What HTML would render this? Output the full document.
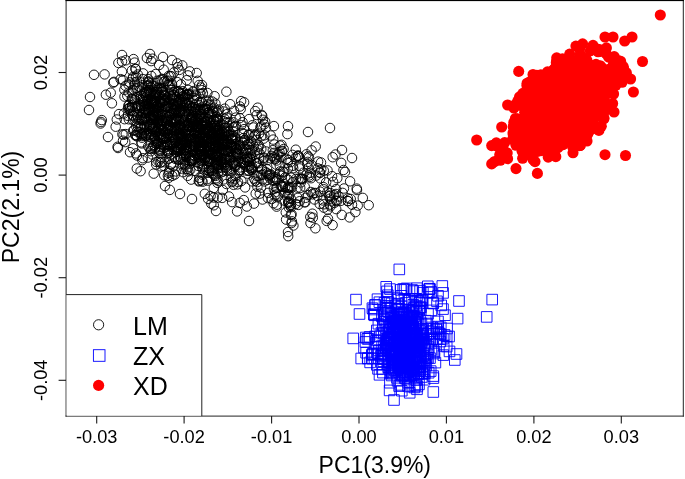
<!DOCTYPE html>
<html><head><meta charset="utf-8"><title>PCA</title>
<style>
html,body{margin:0;padding:0;background:#fff;}
body{width:685px;height:479px;overflow:hidden;font-family:"Liberation Sans",sans-serif;}
svg{display:block;will-change:transform;}
text{font-family:"Liberation Sans",sans-serif;fill:#000;}
</style></head><body>
<svg width="685" height="479" viewBox="0 0 685 479">
<rect x="0" y="0" width="685" height="479" fill="#fff"/>

<g fill="none" stroke="#000" stroke-width="0.9">
<circle cx="180.4" cy="148.7" r="4.75"/><circle cx="168.2" cy="152.7" r="4.75"/><circle cx="244.5" cy="140.4" r="4.75"/><circle cx="171.4" cy="142" r="4.75"/><circle cx="172.4" cy="103.7" r="4.75"/><circle cx="201.7" cy="154.2" r="4.75"/><circle cx="180.4" cy="111.9" r="4.75"/><circle cx="203.7" cy="148.2" r="4.75"/><circle cx="148.4" cy="109.3" r="4.75"/><circle cx="219" cy="143.9" r="4.75"/><circle cx="148.8" cy="104.2" r="4.75"/><circle cx="204.1" cy="135.5" r="4.75"/><circle cx="205.7" cy="158.2" r="4.75"/><circle cx="160.5" cy="150.9" r="4.75"/><circle cx="192.2" cy="107.8" r="4.75"/><circle cx="162.8" cy="91.9" r="4.75"/><circle cx="149.7" cy="148.4" r="4.75"/><circle cx="165" cy="100.2" r="4.75"/><circle cx="146.8" cy="125.3" r="4.75"/><circle cx="233.3" cy="131.8" r="4.75"/><circle cx="174.5" cy="148.6" r="4.75"/><circle cx="195.6" cy="129.9" r="4.75"/><circle cx="167.6" cy="107.2" r="4.75"/><circle cx="172.6" cy="120.1" r="4.75"/><circle cx="172.1" cy="129.8" r="4.75"/><circle cx="188.4" cy="110.4" r="4.75"/><circle cx="177.6" cy="106.3" r="4.75"/><circle cx="141.4" cy="133.9" r="4.75"/><circle cx="219" cy="147.5" r="4.75"/><circle cx="206.2" cy="151.4" r="4.75"/><circle cx="195" cy="111.7" r="4.75"/><circle cx="184.2" cy="153" r="4.75"/><circle cx="185.7" cy="125.2" r="4.75"/><circle cx="180.7" cy="138.3" r="4.75"/><circle cx="140.4" cy="128.1" r="4.75"/><circle cx="205.2" cy="126.4" r="4.75"/><circle cx="139.9" cy="98.7" r="4.75"/><circle cx="179.5" cy="121.4" r="4.75"/><circle cx="154.2" cy="136.5" r="4.75"/><circle cx="182.3" cy="153.2" r="4.75"/><circle cx="181.5" cy="145.3" r="4.75"/><circle cx="169" cy="158.6" r="4.75"/><circle cx="191.2" cy="143.6" r="4.75"/><circle cx="210.5" cy="157.8" r="4.75"/><circle cx="154" cy="123.5" r="4.75"/><circle cx="170.8" cy="164.6" r="4.75"/><circle cx="180.1" cy="110.4" r="4.75"/><circle cx="218.8" cy="142.4" r="4.75"/><circle cx="170.2" cy="146.3" r="4.75"/><circle cx="146.5" cy="85.3" r="4.75"/><circle cx="159.5" cy="114" r="4.75"/><circle cx="209.6" cy="151.6" r="4.75"/><circle cx="191.7" cy="117" r="4.75"/><circle cx="210.4" cy="135.4" r="4.75"/><circle cx="157.6" cy="121.8" r="4.75"/><circle cx="191.6" cy="117.1" r="4.75"/><circle cx="226" cy="151.3" r="4.75"/><circle cx="156.3" cy="115.7" r="4.75"/><circle cx="243.9" cy="140.5" r="4.75"/><circle cx="207.1" cy="132.4" r="4.75"/><circle cx="224.9" cy="165" r="4.75"/><circle cx="147.4" cy="100" r="4.75"/><circle cx="143.4" cy="132.8" r="4.75"/><circle cx="195.4" cy="120.3" r="4.75"/><circle cx="214.6" cy="154.4" r="4.75"/><circle cx="183.3" cy="143" r="4.75"/><circle cx="205.2" cy="121.5" r="4.75"/><circle cx="158.7" cy="126.6" r="4.75"/><circle cx="128.8" cy="108.2" r="4.75"/><circle cx="210.7" cy="139" r="4.75"/><circle cx="161" cy="137" r="4.75"/><circle cx="215.5" cy="153.7" r="4.75"/><circle cx="145.8" cy="117.9" r="4.75"/><circle cx="206" cy="157.6" r="4.75"/><circle cx="206.9" cy="146.5" r="4.75"/><circle cx="150.5" cy="92.6" r="4.75"/><circle cx="222.5" cy="139.8" r="4.75"/><circle cx="142.4" cy="85.3" r="4.75"/><circle cx="151.1" cy="109.3" r="4.75"/><circle cx="176" cy="147.2" r="4.75"/><circle cx="158.5" cy="112.5" r="4.75"/><circle cx="205.6" cy="109.2" r="4.75"/><circle cx="153.1" cy="118.8" r="4.75"/><circle cx="206" cy="130.8" r="4.75"/><circle cx="150.6" cy="99.8" r="4.75"/><circle cx="183.4" cy="155.3" r="4.75"/><circle cx="153.4" cy="102.4" r="4.75"/><circle cx="147.7" cy="122.4" r="4.75"/><circle cx="192.6" cy="150.9" r="4.75"/><circle cx="158.1" cy="122.7" r="4.75"/><circle cx="192.5" cy="119.5" r="4.75"/><circle cx="212.3" cy="173.1" r="4.75"/><circle cx="145.4" cy="91.9" r="4.75"/><circle cx="184" cy="121.6" r="4.75"/><circle cx="150.7" cy="117.5" r="4.75"/><circle cx="167.5" cy="146.4" r="4.75"/><circle cx="178.3" cy="137.5" r="4.75"/><circle cx="151" cy="116.7" r="4.75"/><circle cx="191.6" cy="117.5" r="4.75"/><circle cx="159" cy="107.4" r="4.75"/><circle cx="225.5" cy="158.4" r="4.75"/><circle cx="204.7" cy="117.6" r="4.75"/><circle cx="220.3" cy="138.1" r="4.75"/><circle cx="208.3" cy="152.6" r="4.75"/><circle cx="155" cy="136.1" r="4.75"/><circle cx="185.4" cy="142.5" r="4.75"/><circle cx="217.9" cy="120.5" r="4.75"/><circle cx="232.1" cy="145.9" r="4.75"/><circle cx="205" cy="159.3" r="4.75"/><circle cx="166.3" cy="121.1" r="4.75"/><circle cx="177.6" cy="150.1" r="4.75"/><circle cx="146.3" cy="109.7" r="4.75"/><circle cx="213" cy="143.2" r="4.75"/><circle cx="224.1" cy="155.3" r="4.75"/><circle cx="182.8" cy="128.6" r="4.75"/><circle cx="132.4" cy="92.7" r="4.75"/><circle cx="144.7" cy="108.8" r="4.75"/><circle cx="206" cy="129.8" r="4.75"/><circle cx="156" cy="119.5" r="4.75"/><circle cx="208.9" cy="168.1" r="4.75"/><circle cx="182.9" cy="128.7" r="4.75"/><circle cx="221.9" cy="132.5" r="4.75"/><circle cx="202.3" cy="115.7" r="4.75"/><circle cx="192.9" cy="151.4" r="4.75"/><circle cx="207.8" cy="114.9" r="4.75"/><circle cx="166.4" cy="142" r="4.75"/><circle cx="194.7" cy="131.6" r="4.75"/><circle cx="218.9" cy="139.5" r="4.75"/><circle cx="207.2" cy="124.5" r="4.75"/><circle cx="180" cy="156.5" r="4.75"/><circle cx="119" cy="114.1" r="4.75"/><circle cx="175.5" cy="96.5" r="4.75"/><circle cx="154.5" cy="100.5" r="4.75"/><circle cx="183.2" cy="136.6" r="4.75"/><circle cx="196.6" cy="154.9" r="4.75"/><circle cx="169.8" cy="127.1" r="4.75"/><circle cx="211.5" cy="154.3" r="4.75"/><circle cx="176.3" cy="135.1" r="4.75"/><circle cx="193.3" cy="139.5" r="4.75"/><circle cx="132.7" cy="115.1" r="4.75"/><circle cx="153.1" cy="126.8" r="4.75"/><circle cx="170.8" cy="107.9" r="4.75"/><circle cx="155.2" cy="138.9" r="4.75"/><circle cx="217.3" cy="160.8" r="4.75"/><circle cx="167.8" cy="134.4" r="4.75"/><circle cx="195.9" cy="104.8" r="4.75"/><circle cx="179.9" cy="127.1" r="4.75"/><circle cx="156.6" cy="141.2" r="4.75"/><circle cx="189" cy="114.2" r="4.75"/><circle cx="132.1" cy="107" r="4.75"/><circle cx="196.8" cy="125.3" r="4.75"/><circle cx="226.9" cy="144.7" r="4.75"/><circle cx="158" cy="143" r="4.75"/><circle cx="174.1" cy="112.8" r="4.75"/><circle cx="159.3" cy="152.8" r="4.75"/><circle cx="209.4" cy="162" r="4.75"/><circle cx="158.3" cy="120.5" r="4.75"/><circle cx="163.9" cy="93.6" r="4.75"/><circle cx="209.1" cy="139.1" r="4.75"/><circle cx="190.7" cy="139.4" r="4.75"/><circle cx="160.8" cy="126.1" r="4.75"/><circle cx="132.1" cy="105.4" r="4.75"/><circle cx="215.2" cy="148.3" r="4.75"/><circle cx="198.6" cy="128.6" r="4.75"/><circle cx="164.8" cy="95.5" r="4.75"/><circle cx="202.5" cy="143.4" r="4.75"/><circle cx="228.8" cy="131.7" r="4.75"/><circle cx="220.5" cy="161.1" r="4.75"/><circle cx="184.9" cy="141.9" r="4.75"/><circle cx="166.8" cy="144.9" r="4.75"/><circle cx="213" cy="128.2" r="4.75"/><circle cx="222.4" cy="162.3" r="4.75"/><circle cx="233" cy="138.3" r="4.75"/><circle cx="179.5" cy="112.6" r="4.75"/><circle cx="199.1" cy="127.6" r="4.75"/><circle cx="153" cy="95.6" r="4.75"/><circle cx="140.4" cy="117.5" r="4.75"/><circle cx="148.4" cy="82.7" r="4.75"/><circle cx="173.8" cy="95" r="4.75"/><circle cx="197" cy="132.6" r="4.75"/><circle cx="236.4" cy="153.6" r="4.75"/><circle cx="208.9" cy="168.5" r="4.75"/><circle cx="210.3" cy="105.3" r="4.75"/><circle cx="152.9" cy="135.6" r="4.75"/><circle cx="212.3" cy="124.3" r="4.75"/><circle cx="203" cy="136.9" r="4.75"/><circle cx="198.3" cy="120.1" r="4.75"/><circle cx="176" cy="119.1" r="4.75"/><circle cx="152.4" cy="124.7" r="4.75"/><circle cx="186.2" cy="139.8" r="4.75"/><circle cx="191.9" cy="131" r="4.75"/><circle cx="145.8" cy="136" r="4.75"/><circle cx="188.4" cy="123.1" r="4.75"/><circle cx="145.5" cy="119.2" r="4.75"/><circle cx="164.2" cy="126.8" r="4.75"/><circle cx="207.7" cy="119.2" r="4.75"/><circle cx="190.7" cy="119.1" r="4.75"/><circle cx="150.8" cy="124.4" r="4.75"/><circle cx="141.9" cy="137.7" r="4.75"/><circle cx="145.1" cy="106.1" r="4.75"/><circle cx="204.7" cy="149.8" r="4.75"/><circle cx="220.7" cy="161.8" r="4.75"/><circle cx="188.4" cy="100" r="4.75"/><circle cx="172.9" cy="95.2" r="4.75"/><circle cx="162.2" cy="102.5" r="4.75"/><circle cx="188.9" cy="126.7" r="4.75"/><circle cx="189.7" cy="155.8" r="4.75"/><circle cx="161.2" cy="166.4" r="4.75"/><circle cx="163.8" cy="147.8" r="4.75"/><circle cx="173.1" cy="122.4" r="4.75"/><circle cx="184.4" cy="111.1" r="4.75"/><circle cx="153.5" cy="115" r="4.75"/><circle cx="184.8" cy="131.6" r="4.75"/><circle cx="180.7" cy="111.1" r="4.75"/><circle cx="194.3" cy="155.6" r="4.75"/><circle cx="196.5" cy="142.5" r="4.75"/><circle cx="178.5" cy="112.7" r="4.75"/><circle cx="191.2" cy="111.9" r="4.75"/><circle cx="175.8" cy="142.4" r="4.75"/><circle cx="163.8" cy="101" r="4.75"/><circle cx="225.3" cy="162.3" r="4.75"/><circle cx="160.2" cy="136.8" r="4.75"/><circle cx="151.1" cy="98.7" r="4.75"/><circle cx="161.3" cy="158.5" r="4.75"/><circle cx="143.9" cy="118" r="4.75"/><circle cx="171.8" cy="113.2" r="4.75"/><circle cx="150.7" cy="83.5" r="4.75"/><circle cx="196.5" cy="153.3" r="4.75"/><circle cx="174.2" cy="99.9" r="4.75"/><circle cx="210.7" cy="170.4" r="4.75"/><circle cx="217.7" cy="137.7" r="4.75"/><circle cx="174.3" cy="149.2" r="4.75"/><circle cx="165" cy="144.6" r="4.75"/><circle cx="181.3" cy="149.1" r="4.75"/><circle cx="212.8" cy="132.9" r="4.75"/><circle cx="190.7" cy="137.9" r="4.75"/><circle cx="171.2" cy="89.8" r="4.75"/><circle cx="203.2" cy="139.3" r="4.75"/><circle cx="231.3" cy="147.5" r="4.75"/><circle cx="217.4" cy="149.2" r="4.75"/><circle cx="168.6" cy="108.2" r="4.75"/><circle cx="168" cy="97.5" r="4.75"/><circle cx="155.3" cy="109.1" r="4.75"/><circle cx="176.9" cy="134.6" r="4.75"/><circle cx="176.9" cy="147.8" r="4.75"/><circle cx="203.4" cy="145.3" r="4.75"/><circle cx="202" cy="137.8" r="4.75"/><circle cx="151.5" cy="91.9" r="4.75"/><circle cx="213.7" cy="167.9" r="4.75"/><circle cx="166.8" cy="153.6" r="4.75"/><circle cx="159.8" cy="123.5" r="4.75"/><circle cx="215.7" cy="153.5" r="4.75"/><circle cx="201.6" cy="150.8" r="4.75"/><circle cx="214.9" cy="141.7" r="4.75"/><circle cx="146.9" cy="133.6" r="4.75"/><circle cx="202.1" cy="154.2" r="4.75"/><circle cx="176" cy="120.3" r="4.75"/><circle cx="231.4" cy="145" r="4.75"/><circle cx="152.3" cy="154.5" r="4.75"/><circle cx="204.9" cy="129.2" r="4.75"/><circle cx="214" cy="119.7" r="4.75"/><circle cx="157.7" cy="91.8" r="4.75"/><circle cx="199.3" cy="142.2" r="4.75"/><circle cx="163.2" cy="145.2" r="4.75"/><circle cx="193.6" cy="132.8" r="4.75"/><circle cx="179.5" cy="134.9" r="4.75"/><circle cx="221.1" cy="159.4" r="4.75"/><circle cx="186.3" cy="156.1" r="4.75"/><circle cx="175.9" cy="110.3" r="4.75"/><circle cx="212.3" cy="171" r="4.75"/><circle cx="189.6" cy="157.3" r="4.75"/><circle cx="198.5" cy="126" r="4.75"/><circle cx="160.5" cy="134.4" r="4.75"/><circle cx="148.2" cy="135.1" r="4.75"/><circle cx="215.1" cy="147.6" r="4.75"/><circle cx="219.6" cy="133.5" r="4.75"/><circle cx="191.3" cy="111" r="4.75"/><circle cx="141.6" cy="107.8" r="4.75"/><circle cx="154.3" cy="101.8" r="4.75"/><circle cx="206" cy="157.1" r="4.75"/><circle cx="165.9" cy="137.8" r="4.75"/><circle cx="155.2" cy="100.7" r="4.75"/><circle cx="191.3" cy="134.5" r="4.75"/><circle cx="200.5" cy="123.5" r="4.75"/><circle cx="169.2" cy="101.4" r="4.75"/><circle cx="155.8" cy="120.4" r="4.75"/><circle cx="208.3" cy="138.5" r="4.75"/><circle cx="207.6" cy="128.9" r="4.75"/><circle cx="234.5" cy="153.5" r="4.75"/><circle cx="206.2" cy="169.8" r="4.75"/><circle cx="193.4" cy="124.5" r="4.75"/><circle cx="203.6" cy="122.9" r="4.75"/><circle cx="210.7" cy="126.1" r="4.75"/><circle cx="137.8" cy="116.8" r="4.75"/><circle cx="207" cy="139.9" r="4.75"/><circle cx="246.5" cy="170.6" r="4.75"/><circle cx="218.9" cy="109.6" r="4.75"/><circle cx="233.4" cy="161.6" r="4.75"/><circle cx="174.9" cy="174.5" r="4.75"/><circle cx="214.8" cy="125.9" r="4.75"/><circle cx="149.7" cy="125" r="4.75"/><circle cx="179.6" cy="136.6" r="4.75"/><circle cx="134.7" cy="103.5" r="4.75"/><circle cx="225.4" cy="158.8" r="4.75"/><circle cx="128.8" cy="119.3" r="4.75"/><circle cx="183.6" cy="139.6" r="4.75"/><circle cx="173.6" cy="118" r="4.75"/><circle cx="154" cy="103.1" r="4.75"/><circle cx="190.9" cy="130.6" r="4.75"/><circle cx="225.1" cy="144.2" r="4.75"/><circle cx="146.3" cy="135.7" r="4.75"/><circle cx="186.7" cy="141.1" r="4.75"/><circle cx="231.4" cy="139.6" r="4.75"/><circle cx="148.7" cy="104.1" r="4.75"/><circle cx="200.7" cy="148.6" r="4.75"/><circle cx="217.2" cy="165.7" r="4.75"/><circle cx="239.6" cy="145.7" r="4.75"/><circle cx="161.4" cy="110.8" r="4.75"/><circle cx="184" cy="138.1" r="4.75"/><circle cx="144.4" cy="109.7" r="4.75"/><circle cx="153.7" cy="115.2" r="4.75"/><circle cx="144.5" cy="125.4" r="4.75"/><circle cx="231.1" cy="151" r="4.75"/><circle cx="228.4" cy="151.8" r="4.75"/><circle cx="204" cy="166.5" r="4.75"/><circle cx="192" cy="158.5" r="4.75"/><circle cx="167.2" cy="107.2" r="4.75"/><circle cx="215.4" cy="130.2" r="4.75"/><circle cx="185.8" cy="119.5" r="4.75"/><circle cx="185.7" cy="113.6" r="4.75"/><circle cx="155.5" cy="92.7" r="4.75"/><circle cx="190.4" cy="135.7" r="4.75"/><circle cx="209.5" cy="114" r="4.75"/><circle cx="217.6" cy="142.1" r="4.75"/><circle cx="172" cy="97.4" r="4.75"/><circle cx="196.9" cy="136.2" r="4.75"/><circle cx="124" cy="113.5" r="4.75"/><circle cx="199.9" cy="138.6" r="4.75"/><circle cx="152.8" cy="103.6" r="4.75"/><circle cx="174.6" cy="118.9" r="4.75"/><circle cx="158" cy="114.7" r="4.75"/><circle cx="171.5" cy="96.2" r="4.75"/><circle cx="216.8" cy="151.3" r="4.75"/><circle cx="184.3" cy="150.4" r="4.75"/><circle cx="186.9" cy="129.4" r="4.75"/><circle cx="136.9" cy="81.6" r="4.75"/><circle cx="151.8" cy="128.7" r="4.75"/><circle cx="140.7" cy="95.7" r="4.75"/><circle cx="180.1" cy="143.1" r="4.75"/><circle cx="168.2" cy="120.1" r="4.75"/><circle cx="179.3" cy="145.2" r="4.75"/><circle cx="200.8" cy="128.7" r="4.75"/><circle cx="207.4" cy="125.2" r="4.75"/><circle cx="160.1" cy="103.4" r="4.75"/><circle cx="171.7" cy="108.8" r="4.75"/><circle cx="198" cy="132.6" r="4.75"/><circle cx="161.7" cy="138" r="4.75"/><circle cx="198.7" cy="116.2" r="4.75"/><circle cx="188.8" cy="138.9" r="4.75"/><circle cx="186.1" cy="104.8" r="4.75"/><circle cx="150.7" cy="137.2" r="4.75"/><circle cx="159.7" cy="94.9" r="4.75"/><circle cx="216.1" cy="135.6" r="4.75"/><circle cx="220.6" cy="149.2" r="4.75"/><circle cx="202.4" cy="123" r="4.75"/><circle cx="150.1" cy="94.3" r="4.75"/><circle cx="159.4" cy="118.4" r="4.75"/><circle cx="140.9" cy="115" r="4.75"/><circle cx="215.2" cy="145.6" r="4.75"/><circle cx="180.1" cy="144.2" r="4.75"/><circle cx="160.2" cy="130.6" r="4.75"/><circle cx="200.4" cy="134.7" r="4.75"/><circle cx="176.3" cy="105.3" r="4.75"/><circle cx="236" cy="152.4" r="4.75"/><circle cx="211.6" cy="131.9" r="4.75"/><circle cx="245" cy="139.6" r="4.75"/><circle cx="202.3" cy="122.9" r="4.75"/><circle cx="189.7" cy="145.9" r="4.75"/><circle cx="216.5" cy="160" r="4.75"/><circle cx="194.6" cy="146.3" r="4.75"/><circle cx="184.1" cy="127.4" r="4.75"/><circle cx="207.3" cy="132" r="4.75"/><circle cx="164" cy="95" r="4.75"/><circle cx="156.2" cy="113.4" r="4.75"/><circle cx="179.4" cy="148.8" r="4.75"/><circle cx="148.3" cy="107.5" r="4.75"/><circle cx="154.3" cy="145" r="4.75"/><circle cx="190.1" cy="158.1" r="4.75"/><circle cx="210.3" cy="145.6" r="4.75"/><circle cx="201.7" cy="125.4" r="4.75"/><circle cx="216.6" cy="154.9" r="4.75"/><circle cx="189.7" cy="163.6" r="4.75"/><circle cx="223" cy="161.6" r="4.75"/><circle cx="164.5" cy="132.2" r="4.75"/><circle cx="194.1" cy="146.2" r="4.75"/><circle cx="197.9" cy="141" r="4.75"/><circle cx="149.3" cy="90" r="4.75"/><circle cx="155.4" cy="127.6" r="4.75"/><circle cx="145.8" cy="113.3" r="4.75"/><circle cx="181.1" cy="149.5" r="4.75"/><circle cx="180.6" cy="93.4" r="4.75"/><circle cx="160.8" cy="144.3" r="4.75"/><circle cx="171.5" cy="129.9" r="4.75"/><circle cx="133.5" cy="99.3" r="4.75"/><circle cx="194.4" cy="122.3" r="4.75"/><circle cx="156.2" cy="161.9" r="4.75"/><circle cx="182.7" cy="93" r="4.75"/><circle cx="153.6" cy="128.8" r="4.75"/><circle cx="205" cy="122.3" r="4.75"/><circle cx="138.5" cy="132" r="4.75"/><circle cx="127.8" cy="115.8" r="4.75"/><circle cx="218.4" cy="132.7" r="4.75"/><circle cx="178.1" cy="91.1" r="4.75"/><circle cx="201.2" cy="145.9" r="4.75"/><circle cx="193.8" cy="159.3" r="4.75"/><circle cx="239.6" cy="149.5" r="4.75"/><circle cx="221.4" cy="167.9" r="4.75"/><circle cx="156.6" cy="143.9" r="4.75"/><circle cx="223.9" cy="144.6" r="4.75"/><circle cx="195.6" cy="142.3" r="4.75"/><circle cx="192.7" cy="160.4" r="4.75"/><circle cx="181.4" cy="168.6" r="4.75"/><circle cx="190.1" cy="126.6" r="4.75"/><circle cx="133.8" cy="116.3" r="4.75"/><circle cx="188.3" cy="125.3" r="4.75"/><circle cx="150.4" cy="131.4" r="4.75"/><circle cx="204.1" cy="154.5" r="4.75"/><circle cx="196.3" cy="114.4" r="4.75"/><circle cx="205.8" cy="106" r="4.75"/><circle cx="156.5" cy="89.9" r="4.75"/><circle cx="220.2" cy="160.8" r="4.75"/><circle cx="161.8" cy="127.1" r="4.75"/><circle cx="153.9" cy="112.3" r="4.75"/><circle cx="139.2" cy="120.1" r="4.75"/><circle cx="218.2" cy="135" r="4.75"/><circle cx="180.4" cy="125.9" r="4.75"/><circle cx="152.4" cy="108.8" r="4.75"/><circle cx="218.5" cy="167" r="4.75"/><circle cx="159.1" cy="95.6" r="4.75"/><circle cx="202" cy="120.8" r="4.75"/><circle cx="190.5" cy="108.6" r="4.75"/><circle cx="181.1" cy="139.1" r="4.75"/><circle cx="199" cy="126.4" r="4.75"/><circle cx="184.5" cy="102.9" r="4.75"/><circle cx="161.4" cy="120.2" r="4.75"/><circle cx="144.3" cy="126.9" r="4.75"/><circle cx="187.3" cy="103.1" r="4.75"/><circle cx="198.7" cy="158" r="4.75"/><circle cx="164.3" cy="100.5" r="4.75"/><circle cx="184" cy="98.8" r="4.75"/><circle cx="151.5" cy="102.2" r="4.75"/><circle cx="217.6" cy="125.5" r="4.75"/><circle cx="137.1" cy="115.1" r="4.75"/><circle cx="129.8" cy="110.2" r="4.75"/><circle cx="152.4" cy="147.8" r="4.75"/><circle cx="223.1" cy="124.8" r="4.75"/><circle cx="161.5" cy="134.3" r="4.75"/><circle cx="179.6" cy="103.4" r="4.75"/><circle cx="136.4" cy="118.6" r="4.75"/><circle cx="210" cy="131" r="4.75"/><circle cx="219.2" cy="136.4" r="4.75"/><circle cx="227.8" cy="165.2" r="4.75"/><circle cx="210" cy="143.8" r="4.75"/><circle cx="180.5" cy="104.5" r="4.75"/><circle cx="218" cy="172.7" r="4.75"/><circle cx="145.6" cy="116.7" r="4.75"/><circle cx="229.7" cy="157.7" r="4.75"/><circle cx="131.8" cy="98.6" r="4.75"/><circle cx="178.3" cy="138.4" r="4.75"/><circle cx="133.2" cy="130.7" r="4.75"/><circle cx="175.5" cy="127.5" r="4.75"/><circle cx="164.4" cy="98.4" r="4.75"/><circle cx="212.1" cy="114" r="4.75"/><circle cx="225" cy="134.8" r="4.75"/><circle cx="141" cy="127.5" r="4.75"/><circle cx="154.3" cy="102.6" r="4.75"/><circle cx="212.8" cy="145.8" r="4.75"/><circle cx="147.1" cy="120.6" r="4.75"/><circle cx="227.3" cy="114" r="4.75"/><circle cx="186" cy="139.8" r="4.75"/><circle cx="204.2" cy="109.8" r="4.75"/><circle cx="165.8" cy="106.5" r="4.75"/><circle cx="161.2" cy="146.5" r="4.75"/><circle cx="208" cy="112.9" r="4.75"/><circle cx="173.5" cy="137.6" r="4.75"/><circle cx="208.2" cy="127.2" r="4.75"/><circle cx="199.8" cy="145.8" r="4.75"/><circle cx="199" cy="148.5" r="4.75"/><circle cx="201.6" cy="101.8" r="4.75"/><circle cx="124.5" cy="96.6" r="4.75"/><circle cx="198.5" cy="163.2" r="4.75"/><circle cx="155" cy="111" r="4.75"/><circle cx="148.2" cy="146.3" r="4.75"/><circle cx="156.5" cy="104.1" r="4.75"/><circle cx="199.6" cy="111.4" r="4.75"/><circle cx="197.2" cy="127.5" r="4.75"/><circle cx="226.5" cy="167.1" r="4.75"/><circle cx="162" cy="114.1" r="4.75"/><circle cx="225.9" cy="151.7" r="4.75"/><circle cx="171.7" cy="119.1" r="4.75"/><circle cx="198" cy="108.6" r="4.75"/><circle cx="216.1" cy="178.2" r="4.75"/><circle cx="225.3" cy="128.1" r="4.75"/><circle cx="160" cy="101.7" r="4.75"/><circle cx="211.3" cy="139" r="4.75"/><circle cx="193.4" cy="122.6" r="4.75"/><circle cx="212.8" cy="135.1" r="4.75"/><circle cx="205.7" cy="145.3" r="4.75"/><circle cx="179.6" cy="133.6" r="4.75"/><circle cx="185.7" cy="150.1" r="4.75"/><circle cx="167.4" cy="151.1" r="4.75"/><circle cx="138.1" cy="126.6" r="4.75"/><circle cx="179.7" cy="109.1" r="4.75"/><circle cx="172" cy="90" r="4.75"/><circle cx="221.4" cy="140.9" r="4.75"/><circle cx="214" cy="150.5" r="4.75"/><circle cx="168.4" cy="125.2" r="4.75"/><circle cx="157.5" cy="123.3" r="4.75"/><circle cx="200.2" cy="109.9" r="4.75"/><circle cx="156.4" cy="102.3" r="4.75"/><circle cx="146.4" cy="92.9" r="4.75"/><circle cx="197.7" cy="118.9" r="4.75"/><circle cx="168.6" cy="117.1" r="4.75"/><circle cx="160.2" cy="162.7" r="4.75"/><circle cx="198.3" cy="156.6" r="4.75"/><circle cx="140.6" cy="105.1" r="4.75"/><circle cx="222.4" cy="132" r="4.75"/><circle cx="159.1" cy="65" r="4.75"/><circle cx="202.8" cy="139.2" r="4.75"/><circle cx="153.8" cy="116.7" r="4.75"/><circle cx="149" cy="128.7" r="4.75"/><circle cx="179.6" cy="127.6" r="4.75"/><circle cx="170.2" cy="115.4" r="4.75"/><circle cx="221.9" cy="143" r="4.75"/><circle cx="136.9" cy="131.5" r="4.75"/><circle cx="164.2" cy="138.5" r="4.75"/><circle cx="184.5" cy="111.3" r="4.75"/><circle cx="216.6" cy="130.5" r="4.75"/><circle cx="196.2" cy="95.6" r="4.75"/><circle cx="135.3" cy="120.4" r="4.75"/><circle cx="207.3" cy="125.1" r="4.75"/><circle cx="129.9" cy="107.8" r="4.75"/><circle cx="217.7" cy="130.6" r="4.75"/><circle cx="168.8" cy="149.2" r="4.75"/><circle cx="200.3" cy="155.4" r="4.75"/><circle cx="219.5" cy="132.5" r="4.75"/><circle cx="170.4" cy="134.8" r="4.75"/><circle cx="202.5" cy="126.2" r="4.75"/><circle cx="169.7" cy="102.8" r="4.75"/><circle cx="174.2" cy="130.2" r="4.75"/><circle cx="208.6" cy="155.4" r="4.75"/><circle cx="195.1" cy="107.1" r="4.75"/><circle cx="200.5" cy="141.4" r="4.75"/><circle cx="213.2" cy="138.1" r="4.75"/><circle cx="195" cy="132.8" r="4.75"/><circle cx="163.3" cy="130.7" r="4.75"/><circle cx="212.7" cy="169.8" r="4.75"/><circle cx="192.9" cy="126.5" r="4.75"/><circle cx="159.5" cy="103.1" r="4.75"/><circle cx="187" cy="147.7" r="4.75"/><circle cx="148" cy="99.1" r="4.75"/><circle cx="180.9" cy="137" r="4.75"/><circle cx="149.4" cy="125.1" r="4.75"/><circle cx="189.1" cy="106.3" r="4.75"/><circle cx="217.1" cy="129.8" r="4.75"/><circle cx="199.2" cy="105.2" r="4.75"/><circle cx="195.2" cy="138.9" r="4.75"/><circle cx="154.3" cy="104.8" r="4.75"/><circle cx="151.7" cy="118.5" r="4.75"/><circle cx="223.3" cy="146.8" r="4.75"/><circle cx="209.1" cy="161" r="4.75"/><circle cx="158.8" cy="109.8" r="4.75"/><circle cx="235.4" cy="144.1" r="4.75"/><circle cx="133.6" cy="111.7" r="4.75"/><circle cx="154" cy="137.8" r="4.75"/><circle cx="178.7" cy="128.5" r="4.75"/><circle cx="150.8" cy="134.1" r="4.75"/><circle cx="221.3" cy="134.1" r="4.75"/><circle cx="208.4" cy="146.5" r="4.75"/><circle cx="173.1" cy="138.3" r="4.75"/><circle cx="208.2" cy="160.9" r="4.75"/><circle cx="183" cy="96.3" r="4.75"/><circle cx="179.7" cy="129.6" r="4.75"/><circle cx="191.6" cy="127.2" r="4.75"/><circle cx="187.1" cy="149.4" r="4.75"/><circle cx="221.8" cy="135.4" r="4.75"/><circle cx="159.5" cy="148.6" r="4.75"/><circle cx="235" cy="160.4" r="4.75"/><circle cx="156.4" cy="106" r="4.75"/><circle cx="213.2" cy="139.8" r="4.75"/><circle cx="213.3" cy="112" r="4.75"/><circle cx="202.3" cy="160.2" r="4.75"/><circle cx="184.3" cy="96.6" r="4.75"/><circle cx="225.8" cy="132.2" r="4.75"/><circle cx="223.1" cy="144.5" r="4.75"/><circle cx="181.2" cy="106.1" r="4.75"/><circle cx="198" cy="127.9" r="4.75"/><circle cx="210.4" cy="119.9" r="4.75"/><circle cx="161.6" cy="124.5" r="4.75"/><circle cx="199.2" cy="147" r="4.75"/><circle cx="183.5" cy="106.1" r="4.75"/><circle cx="207.5" cy="180.7" r="4.75"/><circle cx="156" cy="131.9" r="4.75"/><circle cx="196.4" cy="137.7" r="4.75"/><circle cx="179.3" cy="132.5" r="4.75"/><circle cx="161.5" cy="123.6" r="4.75"/><circle cx="198.8" cy="146.3" r="4.75"/><circle cx="168.1" cy="150.6" r="4.75"/><circle cx="222.4" cy="148.7" r="4.75"/><circle cx="215.6" cy="139.6" r="4.75"/><circle cx="150.6" cy="134.6" r="4.75"/><circle cx="149.1" cy="135.3" r="4.75"/><circle cx="200.6" cy="160.7" r="4.75"/><circle cx="218.5" cy="130.2" r="4.75"/><circle cx="191.6" cy="115.2" r="4.75"/><circle cx="221.5" cy="144.8" r="4.75"/><circle cx="217.8" cy="118.7" r="4.75"/><circle cx="156.3" cy="106.9" r="4.75"/><circle cx="170" cy="95.6" r="4.75"/><circle cx="193.6" cy="92.2" r="4.75"/><circle cx="242" cy="133" r="4.75"/><circle cx="234.6" cy="166" r="4.75"/><circle cx="206" cy="137.8" r="4.75"/><circle cx="276.4" cy="194.5" r="4.75"/><circle cx="141.4" cy="120.5" r="4.75"/><circle cx="250.8" cy="153.7" r="4.75"/><circle cx="240.7" cy="109.1" r="4.75"/><circle cx="221.7" cy="142.5" r="4.75"/><circle cx="254.8" cy="135.2" r="4.75"/><circle cx="157.3" cy="142.5" r="4.75"/><circle cx="176.3" cy="120.3" r="4.75"/><circle cx="142.8" cy="158.2" r="4.75"/><circle cx="158.7" cy="136.1" r="4.75"/><circle cx="186.3" cy="154.1" r="4.75"/><circle cx="134.8" cy="106.8" r="4.75"/><circle cx="153" cy="115.8" r="4.75"/><circle cx="218.6" cy="165.3" r="4.75"/><circle cx="186.3" cy="157" r="4.75"/><circle cx="228.6" cy="125.8" r="4.75"/><circle cx="111.9" cy="103.3" r="4.75"/><circle cx="178.7" cy="119.7" r="4.75"/><circle cx="206.9" cy="129.2" r="4.75"/><circle cx="185.5" cy="103.5" r="4.75"/><circle cx="262.9" cy="119.8" r="4.75"/><circle cx="183.2" cy="164.1" r="4.75"/><circle cx="201.9" cy="137" r="4.75"/><circle cx="198.5" cy="143" r="4.75"/><circle cx="208.1" cy="198.9" r="4.75"/><circle cx="263.6" cy="138.6" r="4.75"/><circle cx="208" cy="172.8" r="4.75"/><circle cx="200.3" cy="154.6" r="4.75"/><circle cx="198.4" cy="146.2" r="4.75"/><circle cx="218.4" cy="159.5" r="4.75"/><circle cx="247.1" cy="158.3" r="4.75"/><circle cx="222.1" cy="197.9" r="4.75"/><circle cx="210.2" cy="159.6" r="4.75"/><circle cx="236" cy="164.5" r="4.75"/><circle cx="190.2" cy="169.8" r="4.75"/><circle cx="245.1" cy="187.4" r="4.75"/><circle cx="194.5" cy="146.2" r="4.75"/><circle cx="105.9" cy="94.7" r="4.75"/><circle cx="237.1" cy="211.4" r="4.75"/><circle cx="199.8" cy="150.6" r="4.75"/><circle cx="151.5" cy="105.3" r="4.75"/><circle cx="204.9" cy="108.5" r="4.75"/><circle cx="167.6" cy="105.5" r="4.75"/><circle cx="309" cy="157.5" r="4.75"/><circle cx="222.5" cy="149.5" r="4.75"/><circle cx="129.2" cy="104.8" r="4.75"/><circle cx="184.1" cy="126.2" r="4.75"/><circle cx="277.7" cy="196.7" r="4.75"/><circle cx="153.2" cy="114.6" r="4.75"/><circle cx="187.6" cy="169.1" r="4.75"/><circle cx="196.1" cy="109.1" r="4.75"/><circle cx="200.3" cy="93.8" r="4.75"/><circle cx="221" cy="144.7" r="4.75"/><circle cx="262.5" cy="199.5" r="4.75"/><circle cx="101.8" cy="120.1" r="4.75"/><circle cx="250.8" cy="167.9" r="4.75"/><circle cx="193.1" cy="91.1" r="4.75"/><circle cx="233.4" cy="122.3" r="4.75"/><circle cx="196.1" cy="126.1" r="4.75"/><circle cx="223.7" cy="150.2" r="4.75"/><circle cx="167" cy="137.6" r="4.75"/><circle cx="235.4" cy="147.9" r="4.75"/><circle cx="173.2" cy="134.8" r="4.75"/><circle cx="135.8" cy="69" r="4.75"/><circle cx="195.2" cy="110.5" r="4.75"/><circle cx="159.3" cy="150.4" r="4.75"/><circle cx="202.9" cy="169.3" r="4.75"/><circle cx="139.4" cy="86.7" r="4.75"/><circle cx="125.8" cy="134.1" r="4.75"/><circle cx="184.4" cy="115" r="4.75"/><circle cx="158.5" cy="161.5" r="4.75"/><circle cx="198.6" cy="149.1" r="4.75"/><circle cx="257.7" cy="149.8" r="4.75"/><circle cx="170.2" cy="144.3" r="4.75"/><circle cx="234.3" cy="126.7" r="4.75"/><circle cx="241.3" cy="125.2" r="4.75"/><circle cx="173.9" cy="72.4" r="4.75"/><circle cx="208.6" cy="147" r="4.75"/><circle cx="161.1" cy="111.5" r="4.75"/><circle cx="250" cy="158" r="4.75"/><circle cx="227.7" cy="135.2" r="4.75"/><circle cx="183.2" cy="172.2" r="4.75"/><circle cx="148.6" cy="92.7" r="4.75"/><circle cx="217" cy="119.2" r="4.75"/><circle cx="151.2" cy="148.9" r="4.75"/><circle cx="213.8" cy="188" r="4.75"/><circle cx="192.1" cy="140.9" r="4.75"/><circle cx="189.8" cy="71.4" r="4.75"/><circle cx="251" cy="141.4" r="4.75"/><circle cx="225.5" cy="167.6" r="4.75"/><circle cx="175.6" cy="121.5" r="4.75"/><circle cx="232.1" cy="202.1" r="4.75"/><circle cx="207.4" cy="93" r="4.75"/><circle cx="179.1" cy="145.1" r="4.75"/><circle cx="216" cy="121.9" r="4.75"/><circle cx="150.8" cy="151.2" r="4.75"/><circle cx="183.5" cy="122.7" r="4.75"/><circle cx="180.9" cy="157.6" r="4.75"/><circle cx="278.4" cy="154.3" r="4.75"/><circle cx="287.4" cy="134.1" r="4.75"/><circle cx="205.7" cy="100.5" r="4.75"/><circle cx="281.4" cy="157.3" r="4.75"/><circle cx="214" cy="107.7" r="4.75"/><circle cx="202.5" cy="174.7" r="4.75"/><circle cx="222.8" cy="190" r="4.75"/><circle cx="211.2" cy="148.8" r="4.75"/><circle cx="214.4" cy="137.7" r="4.75"/><circle cx="158.5" cy="89.3" r="4.75"/><circle cx="239.8" cy="202.9" r="4.75"/><circle cx="179.5" cy="133.4" r="4.75"/><circle cx="181.9" cy="140.4" r="4.75"/><circle cx="248.6" cy="134.5" r="4.75"/><circle cx="252.5" cy="125.2" r="4.75"/><circle cx="240.2" cy="167.4" r="4.75"/><circle cx="275.3" cy="177.2" r="4.75"/><circle cx="210.9" cy="113.4" r="4.75"/><circle cx="248.7" cy="147.1" r="4.75"/><circle cx="147.8" cy="157.6" r="4.75"/><circle cx="199.4" cy="102.1" r="4.75"/><circle cx="261.2" cy="136.3" r="4.75"/><circle cx="222.4" cy="138.3" r="4.75"/><circle cx="152.7" cy="85.8" r="4.75"/><circle cx="223.8" cy="132.5" r="4.75"/><circle cx="186.7" cy="144.3" r="4.75"/><circle cx="142.3" cy="160.1" r="4.75"/><circle cx="184.4" cy="125" r="4.75"/><circle cx="132.1" cy="99.2" r="4.75"/><circle cx="154.1" cy="106.8" r="4.75"/><circle cx="282.7" cy="171.7" r="4.75"/><circle cx="139.8" cy="90.7" r="4.75"/><circle cx="198.2" cy="165.9" r="4.75"/><circle cx="235.3" cy="137.4" r="4.75"/><circle cx="232" cy="146.7" r="4.75"/><circle cx="147.9" cy="106.2" r="4.75"/><circle cx="186.3" cy="130.2" r="4.75"/><circle cx="210.5" cy="133.9" r="4.75"/><circle cx="223.7" cy="179.4" r="4.75"/><circle cx="173.6" cy="119.6" r="4.75"/><circle cx="148.3" cy="112.1" r="4.75"/><circle cx="247" cy="157.2" r="4.75"/><circle cx="264.4" cy="135.3" r="4.75"/><circle cx="229.6" cy="122.4" r="4.75"/><circle cx="189.4" cy="93.8" r="4.75"/><circle cx="217.3" cy="149.5" r="4.75"/><circle cx="216.5" cy="119.3" r="4.75"/><circle cx="253.4" cy="127.5" r="4.75"/><circle cx="143.6" cy="111.8" r="4.75"/><circle cx="200" cy="151.2" r="4.75"/><circle cx="130" cy="152.2" r="4.75"/><circle cx="211.1" cy="140.9" r="4.75"/><circle cx="205" cy="133.1" r="4.75"/><circle cx="169.4" cy="152.7" r="4.75"/><circle cx="218.5" cy="146.1" r="4.75"/><circle cx="147.6" cy="86.2" r="4.75"/><circle cx="169.8" cy="189.9" r="4.75"/><circle cx="235.7" cy="117.6" r="4.75"/><circle cx="215.9" cy="139.2" r="4.75"/><circle cx="238" cy="182" r="4.75"/><circle cx="163.5" cy="79.4" r="4.75"/><circle cx="136.8" cy="97" r="4.75"/><circle cx="207.3" cy="150.5" r="4.75"/><circle cx="307.7" cy="161.9" r="4.75"/><circle cx="229.9" cy="148.3" r="4.75"/><circle cx="154.4" cy="131.4" r="4.75"/><circle cx="236.5" cy="156" r="4.75"/><circle cx="181" cy="84.4" r="4.75"/><circle cx="130.8" cy="110.6" r="4.75"/><circle cx="210.3" cy="154.1" r="4.75"/><circle cx="218.2" cy="180.8" r="4.75"/><circle cx="213.1" cy="174.2" r="4.75"/><circle cx="276.4" cy="188" r="4.75"/><circle cx="210.3" cy="149.6" r="4.75"/><circle cx="270.7" cy="135.5" r="4.75"/><circle cx="158.5" cy="107.4" r="4.75"/><circle cx="137.5" cy="108" r="4.75"/><circle cx="270.4" cy="158.2" r="4.75"/><circle cx="265.8" cy="172.1" r="4.75"/><circle cx="235.8" cy="125.9" r="4.75"/><circle cx="191.1" cy="179.6" r="4.75"/><circle cx="180" cy="194" r="4.75"/><circle cx="176.9" cy="108.9" r="4.75"/><circle cx="264.5" cy="181.4" r="4.75"/><circle cx="234.3" cy="144.5" r="4.75"/><circle cx="207.1" cy="179.2" r="4.75"/><circle cx="212.7" cy="155" r="4.75"/><circle cx="247.2" cy="161.6" r="4.75"/><circle cx="227.3" cy="141.1" r="4.75"/><circle cx="233.2" cy="155.7" r="4.75"/><circle cx="164" cy="81.9" r="4.75"/><circle cx="215.3" cy="164.3" r="4.75"/><circle cx="308.3" cy="168.1" r="4.75"/><circle cx="171.8" cy="136.5" r="4.75"/><circle cx="194.5" cy="135.3" r="4.75"/><circle cx="226.5" cy="184" r="4.75"/><circle cx="244.5" cy="157" r="4.75"/><circle cx="215.6" cy="175.9" r="4.75"/><circle cx="143.1" cy="73.4" r="4.75"/><circle cx="215.9" cy="162.4" r="4.75"/><circle cx="152.8" cy="101.5" r="4.75"/><circle cx="162.9" cy="120.6" r="4.75"/><circle cx="225.2" cy="149.7" r="4.75"/><circle cx="176.2" cy="152" r="4.75"/><circle cx="256.7" cy="115" r="4.75"/><circle cx="217.5" cy="182.9" r="4.75"/><circle cx="187.3" cy="94.2" r="4.75"/><circle cx="177.8" cy="67.2" r="4.75"/><circle cx="156.2" cy="164.5" r="4.75"/><circle cx="171.4" cy="76.4" r="4.75"/><circle cx="171.3" cy="122.4" r="4.75"/><circle cx="200.1" cy="116.4" r="4.75"/><circle cx="182.3" cy="65.4" r="4.75"/><circle cx="143.9" cy="93.1" r="4.75"/><circle cx="132.9" cy="120" r="4.75"/><circle cx="224.5" cy="140.9" r="4.75"/><circle cx="191.8" cy="160.5" r="4.75"/><circle cx="252.2" cy="149.8" r="4.75"/><circle cx="248" cy="159.7" r="4.75"/><circle cx="192.2" cy="117.2" r="4.75"/><circle cx="226.9" cy="159.5" r="4.75"/><circle cx="297.9" cy="197.9" r="4.75"/><circle cx="252.1" cy="168" r="4.75"/><circle cx="200.9" cy="114.1" r="4.75"/><circle cx="160.9" cy="88.4" r="4.75"/><circle cx="198.8" cy="181.4" r="4.75"/><circle cx="134.6" cy="62.6" r="4.75"/><circle cx="180" cy="93.3" r="4.75"/><circle cx="236.4" cy="150.1" r="4.75"/><circle cx="211.1" cy="125.9" r="4.75"/><circle cx="153.7" cy="173.6" r="4.75"/><circle cx="151.2" cy="119.9" r="4.75"/><circle cx="204.9" cy="159.9" r="4.75"/><circle cx="195.3" cy="94.6" r="4.75"/><circle cx="173.4" cy="98.6" r="4.75"/><circle cx="216.6" cy="157" r="4.75"/><circle cx="136" cy="153.4" r="4.75"/><circle cx="298.5" cy="156.1" r="4.75"/><circle cx="197.7" cy="80.8" r="4.75"/><circle cx="276.6" cy="206.6" r="4.75"/><circle cx="133" cy="148.3" r="4.75"/><circle cx="233.3" cy="140.6" r="4.75"/><circle cx="123" cy="140.7" r="4.75"/><circle cx="211.8" cy="133.7" r="4.75"/><circle cx="216.6" cy="179.7" r="4.75"/><circle cx="146.3" cy="104" r="4.75"/><circle cx="259.4" cy="153.2" r="4.75"/><circle cx="172.9" cy="104.7" r="4.75"/><circle cx="187.7" cy="175.8" r="4.75"/><circle cx="199.2" cy="180.6" r="4.75"/><circle cx="135.4" cy="68.8" r="4.75"/><circle cx="231.8" cy="138.8" r="4.75"/><circle cx="201.7" cy="90.2" r="4.75"/><circle cx="156.7" cy="111.1" r="4.75"/><circle cx="128.7" cy="92.5" r="4.75"/><circle cx="143.2" cy="100.5" r="4.75"/><circle cx="232.6" cy="135.5" r="4.75"/><circle cx="191.2" cy="119.1" r="4.75"/><circle cx="158.3" cy="96.8" r="4.75"/><circle cx="174.2" cy="131.2" r="4.75"/><circle cx="282.1" cy="150.9" r="4.75"/><circle cx="191.3" cy="119.8" r="4.75"/><circle cx="178.2" cy="117.6" r="4.75"/><circle cx="243.8" cy="200.1" r="4.75"/><circle cx="217.3" cy="155.4" r="4.75"/><circle cx="205.4" cy="133.2" r="4.75"/><circle cx="167.9" cy="134.5" r="4.75"/><circle cx="127.9" cy="109" r="4.75"/><circle cx="135.5" cy="135.4" r="4.75"/><circle cx="173.9" cy="136.7" r="4.75"/><circle cx="167.9" cy="175.8" r="4.75"/><circle cx="199.4" cy="177.8" r="4.75"/><circle cx="226.9" cy="146.9" r="4.75"/><circle cx="217.5" cy="129.6" r="4.75"/><circle cx="199.7" cy="162.8" r="4.75"/><circle cx="150.5" cy="124.6" r="4.75"/><circle cx="199.1" cy="85" r="4.75"/><circle cx="168.4" cy="128.6" r="4.75"/><circle cx="179.4" cy="148.3" r="4.75"/><circle cx="136.2" cy="126.4" r="4.75"/><circle cx="170.5" cy="76" r="4.75"/><circle cx="183.4" cy="159.2" r="4.75"/><circle cx="214.4" cy="124" r="4.75"/><circle cx="167.8" cy="129.5" r="4.75"/><circle cx="218.3" cy="157.4" r="4.75"/><circle cx="203.2" cy="109.3" r="4.75"/><circle cx="165" cy="95.9" r="4.75"/><circle cx="297.6" cy="155.7" r="4.75"/><circle cx="196.7" cy="73" r="4.75"/><circle cx="247.5" cy="173.6" r="4.75"/><circle cx="262" cy="168.9" r="4.75"/><circle cx="255.7" cy="193.6" r="4.75"/><circle cx="160.8" cy="124.8" r="4.75"/><circle cx="299.6" cy="166.1" r="4.75"/><circle cx="202.4" cy="146.6" r="4.75"/><circle cx="196.1" cy="119" r="4.75"/><circle cx="183.5" cy="145.2" r="4.75"/><circle cx="224.3" cy="157.2" r="4.75"/><circle cx="217.7" cy="110.9" r="4.75"/><circle cx="194.2" cy="130.9" r="4.75"/><circle cx="257.9" cy="166.5" r="4.75"/><circle cx="174.3" cy="110.2" r="4.75"/><circle cx="143.8" cy="133.4" r="4.75"/><circle cx="213.7" cy="197.5" r="4.75"/><circle cx="238.1" cy="142.1" r="4.75"/><circle cx="255.1" cy="151.7" r="4.75"/><circle cx="251.5" cy="157.1" r="4.75"/><circle cx="229.2" cy="135.1" r="4.75"/><circle cx="143" cy="113.1" r="4.75"/><circle cx="203.6" cy="155.3" r="4.75"/><circle cx="199.7" cy="109.7" r="4.75"/><circle cx="136.9" cy="88.1" r="4.75"/><circle cx="183.6" cy="93.5" r="4.75"/><circle cx="241.4" cy="181" r="4.75"/><circle cx="202" cy="85.1" r="4.75"/><circle cx="174.4" cy="110" r="4.75"/><circle cx="213.8" cy="205.3" r="4.75"/><circle cx="245" cy="159.5" r="4.75"/><circle cx="239.2" cy="170.1" r="4.75"/><circle cx="169.1" cy="112.7" r="4.75"/><circle cx="215.4" cy="103.6" r="4.75"/><circle cx="247.9" cy="158.4" r="4.75"/><circle cx="167.5" cy="130" r="4.75"/><circle cx="182.8" cy="91.2" r="4.75"/><circle cx="233.9" cy="163.2" r="4.75"/><circle cx="254" cy="203.6" r="4.75"/><circle cx="136.6" cy="135.3" r="4.75"/><circle cx="151.3" cy="76" r="4.75"/><circle cx="179.3" cy="69.9" r="4.75"/><circle cx="181.3" cy="159.2" r="4.75"/><circle cx="220.9" cy="165.1" r="4.75"/><circle cx="186" cy="149.6" r="4.75"/><circle cx="183" cy="96.1" r="4.75"/><circle cx="224.7" cy="108.7" r="4.75"/><circle cx="158.5" cy="114.4" r="4.75"/><circle cx="198.6" cy="136.5" r="4.75"/><circle cx="185.3" cy="98.1" r="4.75"/><circle cx="229.3" cy="170.7" r="4.75"/><circle cx="162" cy="121.2" r="4.75"/><circle cx="172.1" cy="85" r="4.75"/><circle cx="132.9" cy="89.8" r="4.75"/><circle cx="167.5" cy="122.1" r="4.75"/><circle cx="173" cy="111" r="4.75"/><circle cx="246.9" cy="144.8" r="4.75"/><circle cx="192.6" cy="107.3" r="4.75"/><circle cx="157.4" cy="134.8" r="4.75"/><circle cx="143.5" cy="102.2" r="4.75"/><circle cx="148.4" cy="110.5" r="4.75"/><circle cx="212.3" cy="108.6" r="4.75"/><circle cx="200.9" cy="114.1" r="4.75"/><circle cx="249.8" cy="165.8" r="4.75"/><circle cx="187.9" cy="94.5" r="4.75"/><circle cx="265.9" cy="127.6" r="4.75"/><circle cx="217.8" cy="132.6" r="4.75"/><circle cx="185.4" cy="165.6" r="4.75"/><circle cx="110.7" cy="92.7" r="4.75"/><circle cx="125.2" cy="142.1" r="4.75"/><circle cx="236.5" cy="149" r="4.75"/><circle cx="267.9" cy="159.9" r="4.75"/><circle cx="230.1" cy="104.2" r="4.75"/><circle cx="243.5" cy="138.1" r="4.75"/><circle cx="164.5" cy="162.2" r="4.75"/><circle cx="181.1" cy="134.7" r="4.75"/><circle cx="162.8" cy="138.2" r="4.75"/><circle cx="235.4" cy="175.9" r="4.75"/><circle cx="217.3" cy="142.8" r="4.75"/><circle cx="194.5" cy="124.3" r="4.75"/><circle cx="185.9" cy="130.3" r="4.75"/><circle cx="217.4" cy="165.3" r="4.75"/><circle cx="210" cy="154.3" r="4.75"/><circle cx="158.6" cy="128.1" r="4.75"/><circle cx="275.7" cy="179.2" r="4.75"/><circle cx="223.8" cy="121.3" r="4.75"/><circle cx="206" cy="128.5" r="4.75"/><circle cx="280" cy="145.6" r="4.75"/><circle cx="233.5" cy="184.8" r="4.75"/><circle cx="228.6" cy="142" r="4.75"/><circle cx="178.4" cy="111.2" r="4.75"/><circle cx="256.1" cy="163.2" r="4.75"/><circle cx="100.6" cy="123.5" r="4.75"/><circle cx="234.3" cy="146.9" r="4.75"/><circle cx="157" cy="131.2" r="4.75"/><circle cx="157.4" cy="114.6" r="4.75"/><circle cx="198.5" cy="120.9" r="4.75"/><circle cx="228.1" cy="151.2" r="4.75"/><circle cx="287.5" cy="162.8" r="4.75"/><circle cx="224.5" cy="130.9" r="4.75"/><circle cx="235.7" cy="165.4" r="4.75"/><circle cx="170" cy="131.4" r="4.75"/><circle cx="223" cy="171.5" r="4.75"/><circle cx="206.8" cy="142.2" r="4.75"/><circle cx="201" cy="87.5" r="4.75"/><circle cx="190.5" cy="146.4" r="4.75"/><circle cx="203.5" cy="125.6" r="4.75"/><circle cx="214.3" cy="132.2" r="4.75"/><circle cx="239.9" cy="106.5" r="4.75"/><circle cx="187.3" cy="108.4" r="4.75"/><circle cx="179.2" cy="99" r="4.75"/><circle cx="235.5" cy="151.6" r="4.75"/><circle cx="146.9" cy="58" r="4.75"/><circle cx="174" cy="121.8" r="4.75"/><circle cx="268.9" cy="174.6" r="4.75"/><circle cx="179.9" cy="102.7" r="4.75"/><circle cx="244" cy="129.2" r="4.75"/><circle cx="116.8" cy="119.5" r="4.75"/><circle cx="288" cy="126.2" r="4.75"/><circle cx="276.6" cy="160.5" r="4.75"/><circle cx="230.9" cy="178.2" r="4.75"/><circle cx="200.8" cy="113.7" r="4.75"/><circle cx="215.9" cy="146.9" r="4.75"/><circle cx="173.9" cy="92.3" r="4.75"/><circle cx="211.3" cy="203.7" r="4.75"/><circle cx="140.1" cy="132.1" r="4.75"/><circle cx="174.6" cy="157.4" r="4.75"/><circle cx="264.1" cy="124.4" r="4.75"/><circle cx="167.8" cy="80.6" r="4.75"/><circle cx="171.2" cy="154.1" r="4.75"/><circle cx="211.9" cy="133.9" r="4.75"/><circle cx="146.3" cy="96.9" r="4.75"/><circle cx="248.9" cy="170.9" r="4.75"/><circle cx="234.1" cy="110.9" r="4.75"/><circle cx="124.6" cy="119.2" r="4.75"/><circle cx="199.7" cy="134.4" r="4.75"/><circle cx="161.2" cy="129.1" r="4.75"/><circle cx="182.1" cy="102.4" r="4.75"/><circle cx="198.4" cy="149.9" r="4.75"/><circle cx="180.3" cy="100.3" r="4.75"/><circle cx="231.6" cy="182.1" r="4.75"/><circle cx="155.5" cy="147.4" r="4.75"/><circle cx="232.9" cy="181.4" r="4.75"/><circle cx="193" cy="147.2" r="4.75"/><circle cx="231.2" cy="171.3" r="4.75"/><circle cx="168.3" cy="144.5" r="4.75"/><circle cx="154.9" cy="100.9" r="4.75"/><circle cx="226.2" cy="151" r="4.75"/><circle cx="247.3" cy="149.7" r="4.75"/><circle cx="266.3" cy="151.5" r="4.75"/><circle cx="204.1" cy="157.7" r="4.75"/><circle cx="173.4" cy="166.3" r="4.75"/><circle cx="227.6" cy="128.2" r="4.75"/><circle cx="213.1" cy="111.2" r="4.75"/><circle cx="246.8" cy="206.5" r="4.75"/><circle cx="255.7" cy="134.6" r="4.75"/><circle cx="136.8" cy="168.5" r="4.75"/><circle cx="171" cy="120.2" r="4.75"/><circle cx="274.4" cy="144.5" r="4.75"/><circle cx="202.2" cy="167.4" r="4.75"/><circle cx="168.7" cy="172.9" r="4.75"/><circle cx="273.9" cy="126.1" r="4.75"/><circle cx="163.7" cy="165.8" r="4.75"/><circle cx="193.5" cy="121.2" r="4.75"/><circle cx="161.4" cy="162.2" r="4.75"/><circle cx="120.6" cy="79.2" r="4.75"/><circle cx="261.6" cy="114.9" r="4.75"/><circle cx="141.8" cy="119.5" r="4.75"/><circle cx="164.3" cy="145.4" r="4.75"/><circle cx="140.6" cy="171.2" r="4.75"/><circle cx="210.6" cy="196.2" r="4.75"/><circle cx="189.5" cy="151.2" r="4.75"/><circle cx="205.9" cy="129.3" r="4.75"/><circle cx="134.9" cy="82.2" r="4.75"/><circle cx="202.2" cy="125.4" r="4.75"/><circle cx="148.1" cy="79.1" r="4.75"/><circle cx="219.3" cy="135.2" r="4.75"/><circle cx="198.8" cy="139.2" r="4.75"/><circle cx="292.6" cy="182.2" r="4.75"/><circle cx="218" cy="168.4" r="4.75"/><circle cx="214.8" cy="126" r="4.75"/><circle cx="185.8" cy="144.9" r="4.75"/><circle cx="261.3" cy="126.3" r="4.75"/><circle cx="258.8" cy="145.4" r="4.75"/><circle cx="229" cy="196.5" r="4.75"/><circle cx="216.6" cy="162.3" r="4.75"/><circle cx="260.4" cy="127.4" r="4.75"/><circle cx="223.4" cy="144.4" r="4.75"/><circle cx="134.1" cy="130.1" r="4.75"/><circle cx="143.5" cy="120.1" r="4.75"/><circle cx="277.3" cy="187.6" r="4.75"/><circle cx="224.8" cy="119" r="4.75"/><circle cx="148.1" cy="85.4" r="4.75"/><circle cx="216.1" cy="145.6" r="4.75"/><circle cx="173.5" cy="150.1" r="4.75"/><circle cx="131.9" cy="70.5" r="4.75"/><circle cx="115.7" cy="126.7" r="4.75"/><circle cx="226.7" cy="117.6" r="4.75"/><circle cx="185.2" cy="161.5" r="4.75"/><circle cx="187.7" cy="135.4" r="4.75"/><circle cx="202.6" cy="164.2" r="4.75"/><circle cx="204.8" cy="193.8" r="4.75"/><circle cx="178.1" cy="147.8" r="4.75"/><circle cx="177.9" cy="92.1" r="4.75"/><circle cx="157" cy="88.3" r="4.75"/><circle cx="169.1" cy="138.6" r="4.75"/><circle cx="175.7" cy="171.4" r="4.75"/><circle cx="171.3" cy="164.4" r="4.75"/><circle cx="176.4" cy="131.6" r="4.75"/><circle cx="288.2" cy="187.5" r="4.75"/><circle cx="141.7" cy="136" r="4.75"/><circle cx="127.3" cy="95.9" r="4.75"/><circle cx="215" cy="139.9" r="4.75"/><circle cx="242.6" cy="122.2" r="4.75"/><circle cx="209" cy="171.3" r="4.75"/><circle cx="167.2" cy="81.3" r="4.75"/><circle cx="239.1" cy="171.5" r="4.75"/><circle cx="186.7" cy="80.2" r="4.75"/><circle cx="137" cy="136.4" r="4.75"/><circle cx="189.1" cy="94.4" r="4.75"/><circle cx="185.7" cy="154" r="4.75"/><circle cx="255.2" cy="111.1" r="4.75"/><circle cx="235.5" cy="138.4" r="4.75"/><circle cx="185" cy="164.6" r="4.75"/><circle cx="254.1" cy="136.3" r="4.75"/><circle cx="204.7" cy="138.6" r="4.75"/><circle cx="248.1" cy="143.8" r="4.75"/><circle cx="128.3" cy="105.9" r="4.75"/><circle cx="230.4" cy="164.3" r="4.75"/><circle cx="155.7" cy="74" r="4.75"/><circle cx="180.9" cy="142.6" r="4.75"/><circle cx="208.5" cy="112.3" r="4.75"/><circle cx="194.1" cy="97.9" r="4.75"/><circle cx="181.9" cy="124.5" r="4.75"/><circle cx="272.8" cy="150.2" r="4.75"/><circle cx="262.2" cy="115.9" r="4.75"/><circle cx="189.6" cy="160.9" r="4.75"/><circle cx="257.7" cy="107.7" r="4.75"/><circle cx="275.1" cy="192.3" r="4.75"/><circle cx="156.1" cy="94.8" r="4.75"/><circle cx="200.6" cy="146.9" r="4.75"/><circle cx="178.3" cy="159.8" r="4.75"/><circle cx="231.8" cy="138.6" r="4.75"/><circle cx="223.5" cy="111.5" r="4.75"/><circle cx="180.6" cy="130.3" r="4.75"/><circle cx="216.8" cy="112.4" r="4.75"/><circle cx="168.1" cy="127.3" r="4.75"/><circle cx="169.5" cy="125.3" r="4.75"/><circle cx="214.6" cy="96.2" r="4.75"/><circle cx="172.3" cy="175.8" r="4.75"/><circle cx="135.5" cy="135.2" r="4.75"/><circle cx="259.8" cy="193.6" r="4.75"/><circle cx="212.2" cy="101.5" r="4.75"/><circle cx="146.5" cy="92.1" r="4.75"/><circle cx="258.1" cy="146.9" r="4.75"/><circle cx="174.6" cy="106.8" r="4.75"/><circle cx="239.7" cy="118.1" r="4.75"/><circle cx="195.3" cy="145.7" r="4.75"/><circle cx="209.9" cy="146.8" r="4.75"/><circle cx="204.6" cy="148.4" r="4.75"/><circle cx="183.5" cy="108.5" r="4.75"/><circle cx="186.2" cy="169" r="4.75"/><circle cx="289.2" cy="187.5" r="4.75"/><circle cx="213.6" cy="120.2" r="4.75"/><circle cx="222" cy="143.8" r="4.75"/><circle cx="142.4" cy="135" r="4.75"/><circle cx="145.6" cy="95.1" r="4.75"/><circle cx="300.7" cy="179.3" r="4.75"/><circle cx="194.6" cy="109.3" r="4.75"/><circle cx="284.7" cy="200.8" r="4.75"/><circle cx="231.7" cy="136.1" r="4.75"/><circle cx="213.6" cy="121.3" r="4.75"/><circle cx="233.1" cy="127.2" r="4.75"/><circle cx="222.5" cy="164.2" r="4.75"/><circle cx="261.3" cy="149" r="4.75"/><circle cx="244.1" cy="102.3" r="4.75"/><circle cx="199.9" cy="154.3" r="4.75"/><circle cx="219.3" cy="121.2" r="4.75"/><circle cx="256.8" cy="175.9" r="4.75"/><circle cx="233" cy="163.7" r="4.75"/><circle cx="141.4" cy="142.3" r="4.75"/><circle cx="159.7" cy="146.8" r="4.75"/><circle cx="224.4" cy="128" r="4.75"/><circle cx="176.8" cy="116.1" r="4.75"/><circle cx="202.9" cy="93.1" r="4.75"/><circle cx="137" cy="155.5" r="4.75"/><circle cx="184.4" cy="140.2" r="4.75"/><circle cx="201.7" cy="180.6" r="4.75"/><circle cx="250.3" cy="150.2" r="4.75"/><circle cx="197.4" cy="135.6" r="4.75"/><circle cx="245.5" cy="159.9" r="4.75"/><circle cx="215.2" cy="163.2" r="4.75"/><circle cx="172.7" cy="136.9" r="4.75"/><circle cx="180.4" cy="159.2" r="4.75"/><circle cx="217.1" cy="125.6" r="4.75"/><circle cx="293.2" cy="168.2" r="4.75"/><circle cx="117.6" cy="146.8" r="4.75"/><circle cx="273.6" cy="203.3" r="4.75"/><circle cx="195.5" cy="120.4" r="4.75"/><circle cx="200.8" cy="152.1" r="4.75"/><circle cx="187.9" cy="124.9" r="4.75"/><circle cx="249.1" cy="119.1" r="4.75"/><circle cx="216.8" cy="116.9" r="4.75"/><circle cx="168.7" cy="76" r="4.75"/><circle cx="240.9" cy="162.7" r="4.75"/><circle cx="221.5" cy="172.3" r="4.75"/><circle cx="214.4" cy="175.3" r="4.75"/><circle cx="256.5" cy="139.9" r="4.75"/><circle cx="247.4" cy="166.9" r="4.75"/><circle cx="193.5" cy="148.7" r="4.75"/><circle cx="149" cy="90" r="4.75"/><circle cx="142.9" cy="98.7" r="4.75"/><circle cx="230.6" cy="156.9" r="4.75"/><circle cx="194.5" cy="160" r="4.75"/><circle cx="188.7" cy="113.7" r="4.75"/><circle cx="202.8" cy="136.8" r="4.75"/><circle cx="226.4" cy="91.7" r="4.75"/><circle cx="187.5" cy="126.5" r="4.75"/><circle cx="154.9" cy="149.1" r="4.75"/><circle cx="195.8" cy="171" r="4.75"/><circle cx="165.9" cy="138.4" r="4.75"/><circle cx="143.8" cy="105.8" r="4.75"/><circle cx="178.1" cy="102.6" r="4.75"/><circle cx="236" cy="147.8" r="4.75"/><circle cx="227.1" cy="168.5" r="4.75"/><circle cx="203" cy="109.8" r="4.75"/><circle cx="191.6" cy="160.1" r="4.75"/><circle cx="201.9" cy="102.6" r="4.75"/><circle cx="177.3" cy="63.4" r="4.75"/><circle cx="273.2" cy="139.6" r="4.75"/><circle cx="241.1" cy="101.1" r="4.75"/><circle cx="153.2" cy="146.2" r="4.75"/><circle cx="198.7" cy="126.6" r="4.75"/><circle cx="238" cy="161.3" r="4.75"/><circle cx="175.4" cy="158.9" r="4.75"/><circle cx="123.6" cy="134.7" r="4.75"/><circle cx="167" cy="99.8" r="4.75"/><circle cx="188.4" cy="171.4" r="4.75"/><circle cx="211.9" cy="152.9" r="4.75"/><circle cx="197.8" cy="132.9" r="4.75"/><circle cx="240.3" cy="169.9" r="4.75"/><circle cx="265.2" cy="121.8" r="4.75"/><circle cx="227" cy="122.4" r="4.75"/><circle cx="204.7" cy="132.9" r="4.75"/><circle cx="182.5" cy="144.7" r="4.75"/><circle cx="231.4" cy="138.4" r="4.75"/><circle cx="244.3" cy="153.3" r="4.75"/><circle cx="191.5" cy="161.2" r="4.75"/><circle cx="202.6" cy="181.7" r="4.75"/><circle cx="177.2" cy="147" r="4.75"/><circle cx="122.4" cy="134.3" r="4.75"/><circle cx="163.3" cy="101.2" r="4.75"/><circle cx="240" cy="145.1" r="4.75"/><circle cx="217.4" cy="153.6" r="4.75"/><circle cx="276.3" cy="164.6" r="4.75"/><circle cx="211.4" cy="123.3" r="4.75"/><circle cx="217.7" cy="197.6" r="4.75"/><circle cx="263.1" cy="160.9" r="4.75"/><circle cx="259.1" cy="133.6" r="4.75"/><circle cx="168.5" cy="133.2" r="4.75"/><circle cx="168.9" cy="177.7" r="4.75"/><circle cx="206.6" cy="140.1" r="4.75"/><circle cx="141.7" cy="143.4" r="4.75"/><circle cx="228.9" cy="134.9" r="4.75"/><circle cx="253.9" cy="146.5" r="4.75"/><circle cx="190.2" cy="106" r="4.75"/><circle cx="291" cy="177.6" r="4.75"/><circle cx="164.2" cy="175.2" r="4.75"/><circle cx="208.8" cy="100.6" r="4.75"/><circle cx="169.2" cy="171.3" r="4.75"/><circle cx="273.9" cy="189" r="4.75"/><circle cx="281.7" cy="151.6" r="4.75"/><circle cx="237.7" cy="153.8" r="4.75"/><circle cx="281.8" cy="175.8" r="4.75"/><circle cx="275.7" cy="158.6" r="4.75"/><circle cx="245.7" cy="149.5" r="4.75"/><circle cx="245.5" cy="166.1" r="4.75"/><circle cx="258.5" cy="176" r="4.75"/><circle cx="244.1" cy="162.5" r="4.75"/><circle cx="292.6" cy="154.9" r="4.75"/><circle cx="237" cy="148.8" r="4.75"/><circle cx="226.8" cy="170.6" r="4.75"/><circle cx="248.9" cy="161.6" r="4.75"/><circle cx="243.7" cy="146.3" r="4.75"/><circle cx="243.7" cy="133.8" r="4.75"/><circle cx="261.4" cy="175" r="4.75"/><circle cx="267.1" cy="173.3" r="4.75"/><circle cx="270" cy="174.7" r="4.75"/><circle cx="277.3" cy="154.7" r="4.75"/><circle cx="277.3" cy="179.6" r="4.75"/><circle cx="237.3" cy="184.4" r="4.75"/><circle cx="248.6" cy="135.1" r="4.75"/><circle cx="236.9" cy="153.5" r="4.75"/><circle cx="290.5" cy="162.1" r="4.75"/><circle cx="267.1" cy="169.3" r="4.75"/><circle cx="285.2" cy="186.6" r="4.75"/><circle cx="275.3" cy="181.1" r="4.75"/><circle cx="244.4" cy="163.4" r="4.75"/><circle cx="252.2" cy="166.9" r="4.75"/><circle cx="230" cy="160.7" r="4.75"/><circle cx="247.7" cy="153.1" r="4.75"/><circle cx="248.5" cy="170.5" r="4.75"/><circle cx="259.3" cy="158.7" r="4.75"/><circle cx="288.2" cy="179.8" r="4.75"/><circle cx="249.4" cy="144" r="4.75"/><circle cx="287.9" cy="168.8" r="4.75"/><circle cx="280.1" cy="171.4" r="4.75"/><circle cx="249.7" cy="158.2" r="4.75"/><circle cx="284.7" cy="193.3" r="4.75"/><circle cx="257.3" cy="182.1" r="4.75"/><circle cx="251.1" cy="169.6" r="4.75"/><circle cx="235.6" cy="166.6" r="4.75"/><circle cx="243.3" cy="142.7" r="4.75"/><circle cx="279.5" cy="152.4" r="4.75"/><circle cx="238" cy="154.8" r="4.75"/><circle cx="285.2" cy="177.4" r="4.75"/><circle cx="274.1" cy="157.3" r="4.75"/><circle cx="254.2" cy="178.7" r="4.75"/><circle cx="283.9" cy="172.4" r="4.75"/><circle cx="257.4" cy="186.7" r="4.75"/><circle cx="235.4" cy="178.6" r="4.75"/><circle cx="273" cy="180.5" r="4.75"/><circle cx="262.6" cy="179.6" r="4.75"/><circle cx="258.5" cy="163.3" r="4.75"/><circle cx="261.8" cy="169.6" r="4.75"/><circle cx="317.3" cy="195.9" r="4.75"/><circle cx="315.4" cy="228.3" r="4.75"/><circle cx="320.2" cy="178.4" r="4.75"/><circle cx="352" cy="204.7" r="4.75"/><circle cx="332.6" cy="225.1" r="4.75"/><circle cx="292.7" cy="165.8" r="4.75"/><circle cx="319.8" cy="172.4" r="4.75"/><circle cx="295.8" cy="157.4" r="4.75"/><circle cx="322.7" cy="200.4" r="4.75"/><circle cx="282.9" cy="186.9" r="4.75"/><circle cx="336" cy="194" r="4.75"/><circle cx="320.2" cy="191.7" r="4.75"/><circle cx="326.7" cy="220.9" r="4.75"/><circle cx="299.7" cy="201.2" r="4.75"/><circle cx="281.5" cy="144.8" r="4.75"/><circle cx="357.7" cy="205.6" r="4.75"/><circle cx="304.7" cy="186.7" r="4.75"/><circle cx="341.8" cy="214.9" r="4.75"/><circle cx="323.4" cy="187.1" r="4.75"/><circle cx="333.1" cy="181.9" r="4.75"/><circle cx="362.8" cy="197.9" r="4.75"/><circle cx="332.7" cy="157.2" r="4.75"/><circle cx="348" cy="201.2" r="4.75"/><circle cx="274.8" cy="159.3" r="4.75"/><circle cx="330.1" cy="204.6" r="4.75"/><circle cx="311.4" cy="164.8" r="4.75"/><circle cx="309.9" cy="176.9" r="4.75"/><circle cx="317.8" cy="168.4" r="4.75"/><circle cx="327.5" cy="170.4" r="4.75"/><circle cx="349.6" cy="217.4" r="4.75"/><circle cx="263.9" cy="157.6" r="4.75"/><circle cx="308.1" cy="195.1" r="4.75"/><circle cx="299.4" cy="157.8" r="4.75"/><circle cx="340.9" cy="200.8" r="4.75"/><circle cx="311.6" cy="150.4" r="4.75"/><circle cx="326.1" cy="182.4" r="4.75"/><circle cx="303.4" cy="172.7" r="4.75"/><circle cx="323.9" cy="204.3" r="4.75"/><circle cx="336.2" cy="200.6" r="4.75"/><circle cx="300.9" cy="178.7" r="4.75"/><circle cx="305.3" cy="202.3" r="4.75"/><circle cx="270.7" cy="174.4" r="4.75"/><circle cx="314.5" cy="199.5" r="4.75"/><circle cx="327.6" cy="209.7" r="4.75"/><circle cx="295.9" cy="178.9" r="4.75"/><circle cx="342.6" cy="192.9" r="4.75"/><circle cx="252.1" cy="169.7" r="4.75"/><circle cx="263.7" cy="158.4" r="4.75"/><circle cx="270.1" cy="178.3" r="4.75"/><circle cx="289" cy="201.4" r="4.75"/><circle cx="304.4" cy="202.2" r="4.75"/><circle cx="311.1" cy="178.2" r="4.75"/><circle cx="318.1" cy="161.6" r="4.75"/><circle cx="330.2" cy="193" r="4.75"/><circle cx="298.6" cy="178.7" r="4.75"/><circle cx="268.1" cy="192.9" r="4.75"/><circle cx="279.8" cy="165.6" r="4.75"/><circle cx="368.7" cy="205.2" r="4.75"/><circle cx="309.2" cy="175.4" r="4.75"/><circle cx="350.7" cy="199" r="4.75"/><circle cx="310.5" cy="223.1" r="4.75"/><circle cx="276.9" cy="204.7" r="4.75"/><circle cx="305.7" cy="197.8" r="4.75"/><circle cx="331.6" cy="200.5" r="4.75"/><circle cx="350.1" cy="181.3" r="4.75"/><circle cx="282" cy="186.7" r="4.75"/><circle cx="330.4" cy="195.5" r="4.75"/><circle cx="315.5" cy="193" r="4.75"/><circle cx="343.9" cy="188.5" r="4.75"/><circle cx="347.8" cy="201" r="4.75"/><circle cx="302.5" cy="179" r="4.75"/><circle cx="269" cy="176.2" r="4.75"/><circle cx="310.3" cy="216.9" r="4.75"/><circle cx="355.4" cy="212.1" r="4.75"/><circle cx="341.2" cy="162.9" r="4.75"/><circle cx="323.8" cy="170.7" r="4.75"/><circle cx="288.3" cy="160.1" r="4.75"/><circle cx="330.5" cy="206.3" r="4.75"/><circle cx="292" cy="187.3" r="4.75"/><circle cx="316.2" cy="175.6" r="4.75"/><circle cx="310.8" cy="192" r="4.75"/><circle cx="356.7" cy="188.6" r="4.75"/><circle cx="295.8" cy="149.7" r="4.75"/><circle cx="306.5" cy="154.3" r="4.75"/><circle cx="274" cy="152.9" r="4.75"/><circle cx="312.8" cy="217.7" r="4.75"/><circle cx="308.1" cy="156.3" r="4.75"/><circle cx="312.4" cy="213.7" r="4.75"/><circle cx="271.6" cy="199" r="4.75"/><circle cx="302.1" cy="178.8" r="4.75"/><circle cx="338.7" cy="196.5" r="4.75"/><circle cx="310.3" cy="172.8" r="4.75"/><circle cx="327.4" cy="192.4" r="4.75"/><circle cx="319.7" cy="204" r="4.75"/><circle cx="300.8" cy="182.4" r="4.75"/><circle cx="261" cy="187.6" r="4.75"/><circle cx="328" cy="218.7" r="4.75"/><circle cx="312.4" cy="194.3" r="4.75"/><circle cx="334.4" cy="202.8" r="4.75"/><circle cx="256.7" cy="163.1" r="4.75"/><circle cx="263.3" cy="174.5" r="4.75"/><circle cx="283.8" cy="184" r="4.75"/><circle cx="336.9" cy="201.2" r="4.75"/><circle cx="332.1" cy="176.2" r="4.75"/><circle cx="293.4" cy="225.5" r="4.75"/><circle cx="321.2" cy="169.5" r="4.75"/><circle cx="337.3" cy="178.2" r="4.75"/><circle cx="300.2" cy="187.9" r="4.75"/><circle cx="335.5" cy="154.5" r="4.75"/><circle cx="320.1" cy="172.9" r="4.75"/><circle cx="307.3" cy="164" r="4.75"/><circle cx="347.9" cy="198.3" r="4.75"/><circle cx="297.4" cy="187.6" r="4.75"/><circle cx="298.3" cy="204.9" r="4.75"/><circle cx="288.1" cy="194.3" r="4.75"/><circle cx="288.5" cy="202.7" r="4.75"/><circle cx="336.2" cy="209.1" r="4.75"/><circle cx="306.7" cy="174.4" r="4.75"/><circle cx="274.6" cy="195.5" r="4.75"/><circle cx="299.6" cy="168.4" r="4.75"/><circle cx="255.5" cy="180.8" r="4.75"/><circle cx="330.1" cy="198.7" r="4.75"/><circle cx="323.8" cy="207.6" r="4.75"/><circle cx="252.3" cy="181.4" r="4.75"/><circle cx="343.5" cy="170" r="4.75"/><circle cx="323.5" cy="189.2" r="4.75"/><circle cx="298.2" cy="155.6" r="4.75"/><circle cx="329.2" cy="196.2" r="4.75"/><circle cx="271.7" cy="155.9" r="4.75"/><circle cx="267.9" cy="198.1" r="4.75"/><circle cx="267.8" cy="179.9" r="4.75"/><circle cx="286.6" cy="158.9" r="4.75"/><circle cx="334.2" cy="195.2" r="4.75"/><circle cx="283.6" cy="149" r="4.75"/><circle cx="279.2" cy="174.2" r="4.75"/><circle cx="280.7" cy="185.8" r="4.75"/><circle cx="313.7" cy="193" r="4.75"/><circle cx="315.7" cy="146.5" r="4.75"/><circle cx="336.1" cy="189.1" r="4.75"/><circle cx="287.5" cy="187.7" r="4.75"/><circle cx="273.5" cy="177.6" r="4.75"/><circle cx="288.2" cy="202" r="4.75"/><circle cx="321" cy="162.5" r="4.75"/><circle cx="281.4" cy="185.5" r="4.75"/><circle cx="162.2" cy="89.9" r="4.75"/><circle cx="157.8" cy="116.6" r="4.75"/><circle cx="170.4" cy="106.4" r="4.75"/><circle cx="134.8" cy="100.1" r="4.75"/><circle cx="161.1" cy="91.9" r="4.75"/><circle cx="133.5" cy="59.1" r="4.75"/><circle cx="125.7" cy="60.3" r="4.75"/><circle cx="167.7" cy="103.1" r="4.75"/><circle cx="150.7" cy="99.7" r="4.75"/><circle cx="118.4" cy="62.9" r="4.75"/><circle cx="136" cy="76.5" r="4.75"/><circle cx="156" cy="92" r="4.75"/><circle cx="185.6" cy="95.4" r="4.75"/><circle cx="169.6" cy="116.6" r="4.75"/><circle cx="154.8" cy="86.4" r="4.75"/><circle cx="160.2" cy="115.8" r="4.75"/><circle cx="169.6" cy="86.5" r="4.75"/><circle cx="171.5" cy="83.3" r="4.75"/><circle cx="197.7" cy="118.6" r="4.75"/><circle cx="196.9" cy="99.7" r="4.75"/><circle cx="129.7" cy="82.4" r="4.75"/><circle cx="209.1" cy="112.5" r="4.75"/><circle cx="151.2" cy="61.1" r="4.75"/><circle cx="180.5" cy="119.3" r="4.75"/><circle cx="208.1" cy="104.3" r="4.75"/><circle cx="133.1" cy="76.9" r="4.75"/><circle cx="143.2" cy="96.2" r="4.75"/><circle cx="165.3" cy="106" r="4.75"/><circle cx="168" cy="84.7" r="4.75"/><circle cx="206.8" cy="110.2" r="4.75"/><circle cx="170.2" cy="99.6" r="4.75"/><circle cx="151.8" cy="100.2" r="4.75"/><circle cx="185.5" cy="101.8" r="4.75"/><circle cx="141.3" cy="106.6" r="4.75"/><circle cx="148.5" cy="81.9" r="4.75"/><circle cx="137.7" cy="74.5" r="4.75"/><circle cx="161.8" cy="79.4" r="4.75"/><circle cx="124.4" cy="89.8" r="4.75"/><circle cx="188.1" cy="89.9" r="4.75"/><circle cx="134.7" cy="84.7" r="4.75"/><circle cx="152.5" cy="58.7" r="4.75"/><circle cx="148.5" cy="81.4" r="4.75"/><circle cx="128.7" cy="84.8" r="4.75"/><circle cx="125.5" cy="85.9" r="4.75"/><circle cx="164.7" cy="81.1" r="4.75"/><circle cx="166.8" cy="119" r="4.75"/><circle cx="178.2" cy="91.4" r="4.75"/><circle cx="114" cy="81.9" r="4.75"/><circle cx="163.7" cy="69.7" r="4.75"/><circle cx="173.8" cy="104.2" r="4.75"/><circle cx="150.6" cy="86.9" r="4.75"/><circle cx="156.7" cy="91.5" r="4.75"/><circle cx="157.3" cy="80.8" r="4.75"/><circle cx="143" cy="79.1" r="4.75"/><circle cx="113.3" cy="82.6" r="4.75"/><circle cx="163.4" cy="115.5" r="4.75"/><circle cx="121.9" cy="71.6" r="4.75"/><circle cx="142.8" cy="101" r="4.75"/><circle cx="135.5" cy="88.6" r="4.75"/><circle cx="160.2" cy="99.7" r="4.75"/><circle cx="182.1" cy="101.6" r="4.75"/><circle cx="161.5" cy="91.7" r="4.75"/><circle cx="154.8" cy="95.2" r="4.75"/><circle cx="188" cy="75.4" r="4.75"/><circle cx="169.6" cy="84.3" r="4.75"/><circle cx="132.6" cy="78.6" r="4.75"/><circle cx="123" cy="80" r="4.75"/><circle cx="160.5" cy="79.8" r="4.75"/><circle cx="138.2" cy="105.6" r="4.75"/><circle cx="177.1" cy="82" r="4.75"/><circle cx="187.5" cy="94.9" r="4.75"/><circle cx="291.6" cy="214.4" r="4.75"/><circle cx="289.4" cy="195.1" r="4.75"/><circle cx="286.1" cy="219.6" r="4.75"/><circle cx="288.8" cy="207.5" r="4.75"/><circle cx="288.2" cy="236.2" r="4.75"/><circle cx="285.8" cy="212.4" r="4.75"/><circle cx="290.9" cy="215" r="4.75"/><circle cx="290.8" cy="198.8" r="4.75"/><circle cx="287.7" cy="189.6" r="4.75"/><circle cx="288.7" cy="203.1" r="4.75"/><circle cx="291" cy="207.2" r="4.75"/><circle cx="290" cy="205.4" r="4.75"/><circle cx="291.9" cy="221.3" r="4.75"/><circle cx="286.9" cy="196.6" r="4.75"/><circle cx="290.2" cy="187.6" r="4.75"/><circle cx="295.6" cy="204" r="4.75"/><circle cx="291" cy="204.6" r="4.75"/><circle cx="291.6" cy="223" r="4.75"/><circle cx="94" cy="74.8" r="4.75"/><circle cx="104.6" cy="74.4" r="4.75"/><circle cx="122" cy="61.5" r="4.75"/><circle cx="90" cy="97" r="4.75"/><circle cx="89" cy="110" r="4.75"/><circle cx="101" cy="122" r="4.75"/><circle cx="108" cy="137" r="4.75"/><circle cx="118" cy="148" r="4.75"/><circle cx="165" cy="186" r="4.75"/><circle cx="192" cy="199" r="4.75"/><circle cx="216" cy="211" r="4.75"/><circle cx="249" cy="221" r="4.75"/><circle cx="288" cy="232" r="4.75"/><circle cx="122" cy="55" r="4.75"/><circle cx="150" cy="54" r="4.75"/><circle cx="163" cy="57" r="4.75"/><circle cx="172" cy="60" r="4.75"/><circle cx="308" cy="132" r="4.75"/><circle cx="330" cy="128" r="4.75"/><circle cx="342" cy="150" r="4.75"/><circle cx="352" cy="158" r="4.75"/><circle cx="357" cy="190" r="4.75"/><circle cx="345" cy="172" r="4.75"/>
</g>
<g fill="#f00" stroke="none">
<circle cx="572.9" cy="144.2" r="5.55"/><circle cx="564.2" cy="108.8" r="5.55"/><circle cx="541.9" cy="100" r="5.55"/><circle cx="555.9" cy="134.2" r="5.55"/><circle cx="554.6" cy="95.5" r="5.55"/><circle cx="564.9" cy="117.4" r="5.55"/><circle cx="555.5" cy="114.9" r="5.55"/><circle cx="562.7" cy="75.8" r="5.55"/><circle cx="554.4" cy="132.6" r="5.55"/><circle cx="556.3" cy="79.4" r="5.55"/><circle cx="570.9" cy="130.1" r="5.55"/><circle cx="573.5" cy="94.4" r="5.55"/><circle cx="553.4" cy="90.7" r="5.55"/><circle cx="546.7" cy="78.8" r="5.55"/><circle cx="567.6" cy="141" r="5.55"/><circle cx="569.2" cy="134.9" r="5.55"/><circle cx="533.9" cy="108.2" r="5.55"/><circle cx="588.7" cy="116.6" r="5.55"/><circle cx="580.5" cy="88.8" r="5.55"/><circle cx="581.6" cy="77.6" r="5.55"/><circle cx="554.8" cy="112.9" r="5.55"/><circle cx="563.1" cy="98.5" r="5.55"/><circle cx="553.8" cy="152.8" r="5.55"/><circle cx="526.9" cy="152.2" r="5.55"/><circle cx="526.3" cy="102.3" r="5.55"/><circle cx="579.1" cy="139.4" r="5.55"/><circle cx="548" cy="145.7" r="5.55"/><circle cx="519.3" cy="129.8" r="5.55"/><circle cx="570" cy="88" r="5.55"/><circle cx="539.1" cy="110.9" r="5.55"/><circle cx="535.2" cy="139.7" r="5.55"/><circle cx="611.4" cy="57.7" r="5.55"/><circle cx="570.8" cy="102.1" r="5.55"/><circle cx="551.6" cy="103.8" r="5.55"/><circle cx="566.9" cy="80.4" r="5.55"/><circle cx="561.7" cy="128.5" r="5.55"/><circle cx="591.9" cy="68.3" r="5.55"/><circle cx="531.1" cy="122.9" r="5.55"/><circle cx="572.1" cy="114.6" r="5.55"/><circle cx="551.5" cy="120.3" r="5.55"/><circle cx="580.4" cy="65.3" r="5.55"/><circle cx="552.9" cy="152.1" r="5.55"/><circle cx="553" cy="120.4" r="5.55"/><circle cx="557.6" cy="89" r="5.55"/><circle cx="570.7" cy="88.2" r="5.55"/><circle cx="595.3" cy="92.8" r="5.55"/><circle cx="555.3" cy="83.4" r="5.55"/><circle cx="564.6" cy="120.9" r="5.55"/><circle cx="564.1" cy="97" r="5.55"/><circle cx="596.8" cy="99.6" r="5.55"/><circle cx="580.7" cy="128.8" r="5.55"/><circle cx="566.7" cy="116.2" r="5.55"/><circle cx="558.2" cy="115.4" r="5.55"/><circle cx="576" cy="136.9" r="5.55"/><circle cx="562.9" cy="143.6" r="5.55"/><circle cx="542.8" cy="105.9" r="5.55"/><circle cx="534" cy="134.7" r="5.55"/><circle cx="568.5" cy="93.4" r="5.55"/><circle cx="530.6" cy="133.5" r="5.55"/><circle cx="582.6" cy="43.9" r="5.55"/><circle cx="606.1" cy="77" r="5.55"/><circle cx="585.2" cy="81.1" r="5.55"/><circle cx="561.7" cy="109.4" r="5.55"/><circle cx="571.4" cy="131.3" r="5.55"/><circle cx="579.1" cy="71.8" r="5.55"/><circle cx="566.8" cy="99.4" r="5.55"/><circle cx="577.7" cy="94.9" r="5.55"/><circle cx="545.9" cy="114.8" r="5.55"/><circle cx="581.9" cy="80" r="5.55"/><circle cx="559.5" cy="129.1" r="5.55"/><circle cx="566" cy="101.6" r="5.55"/><circle cx="549.9" cy="155" r="5.55"/><circle cx="543" cy="110.1" r="5.55"/><circle cx="575.7" cy="95.4" r="5.55"/><circle cx="538.1" cy="98.6" r="5.55"/><circle cx="554.6" cy="112.3" r="5.55"/><circle cx="569.4" cy="79.8" r="5.55"/><circle cx="580" cy="120" r="5.55"/><circle cx="595.8" cy="85.4" r="5.55"/><circle cx="597.5" cy="111.4" r="5.55"/><circle cx="591.4" cy="108.5" r="5.55"/><circle cx="545.5" cy="144.7" r="5.55"/><circle cx="532.1" cy="124.5" r="5.55"/><circle cx="561.6" cy="70" r="5.55"/><circle cx="544.6" cy="126.6" r="5.55"/><circle cx="548.2" cy="113.9" r="5.55"/><circle cx="566.6" cy="84.5" r="5.55"/><circle cx="554.5" cy="108.1" r="5.55"/><circle cx="551.7" cy="76.4" r="5.55"/><circle cx="567.3" cy="138.4" r="5.55"/><circle cx="555" cy="85.7" r="5.55"/><circle cx="575" cy="73.9" r="5.55"/><circle cx="577.1" cy="103.2" r="5.55"/><circle cx="587.4" cy="100" r="5.55"/><circle cx="576.9" cy="112.8" r="5.55"/><circle cx="543.9" cy="120.2" r="5.55"/><circle cx="575.4" cy="63" r="5.55"/><circle cx="526.8" cy="136.4" r="5.55"/><circle cx="570.3" cy="132.4" r="5.55"/><circle cx="592.9" cy="71.1" r="5.55"/><circle cx="553.9" cy="97.3" r="5.55"/><circle cx="528.7" cy="122.9" r="5.55"/><circle cx="573" cy="108.2" r="5.55"/><circle cx="589" cy="113" r="5.55"/><circle cx="557.6" cy="79.1" r="5.55"/><circle cx="575.8" cy="75.4" r="5.55"/><circle cx="525.7" cy="104.6" r="5.55"/><circle cx="581.4" cy="100.8" r="5.55"/><circle cx="579.2" cy="90.1" r="5.55"/><circle cx="587.8" cy="134" r="5.55"/><circle cx="545.7" cy="122.9" r="5.55"/><circle cx="541.4" cy="120" r="5.55"/><circle cx="568.5" cy="80.6" r="5.55"/><circle cx="589.2" cy="96.2" r="5.55"/><circle cx="528.5" cy="104.5" r="5.55"/><circle cx="549.5" cy="140.8" r="5.55"/><circle cx="589.3" cy="80.3" r="5.55"/><circle cx="529.8" cy="132" r="5.55"/><circle cx="555.4" cy="91.2" r="5.55"/><circle cx="563" cy="132.6" r="5.55"/><circle cx="560.6" cy="96.8" r="5.55"/><circle cx="567.3" cy="113.9" r="5.55"/><circle cx="611.9" cy="92" r="5.55"/><circle cx="596.8" cy="49.1" r="5.55"/><circle cx="557.4" cy="105.5" r="5.55"/><circle cx="566.9" cy="69.3" r="5.55"/><circle cx="580.8" cy="80.3" r="5.55"/><circle cx="553.6" cy="114.5" r="5.55"/><circle cx="543.1" cy="118.2" r="5.55"/><circle cx="583.4" cy="61.9" r="5.55"/><circle cx="537.3" cy="95.1" r="5.55"/><circle cx="546.4" cy="90.4" r="5.55"/><circle cx="546.3" cy="100" r="5.55"/><circle cx="569.8" cy="113.9" r="5.55"/><circle cx="546.7" cy="111.7" r="5.55"/><circle cx="566.6" cy="79.1" r="5.55"/><circle cx="594.8" cy="84.4" r="5.55"/><circle cx="564.5" cy="118.2" r="5.55"/><circle cx="529.7" cy="125.6" r="5.55"/><circle cx="556.9" cy="96.4" r="5.55"/><circle cx="545.8" cy="143" r="5.55"/><circle cx="557.2" cy="121.8" r="5.55"/><circle cx="575.4" cy="69" r="5.55"/><circle cx="608.6" cy="57.2" r="5.55"/><circle cx="570.4" cy="95.9" r="5.55"/><circle cx="559.1" cy="138.9" r="5.55"/><circle cx="566.9" cy="78.3" r="5.55"/><circle cx="535" cy="161.6" r="5.55"/><circle cx="557.1" cy="123.7" r="5.55"/><circle cx="578.4" cy="60.9" r="5.55"/><circle cx="590.8" cy="99.6" r="5.55"/><circle cx="550.9" cy="143.4" r="5.55"/><circle cx="517.4" cy="125.6" r="5.55"/><circle cx="604.6" cy="107.2" r="5.55"/><circle cx="548.5" cy="92.9" r="5.55"/><circle cx="541.6" cy="107" r="5.55"/><circle cx="567.3" cy="91.9" r="5.55"/><circle cx="563.6" cy="124.7" r="5.55"/><circle cx="537" cy="151.5" r="5.55"/><circle cx="577.3" cy="85.9" r="5.55"/><circle cx="569.9" cy="132.7" r="5.55"/><circle cx="551.2" cy="130" r="5.55"/><circle cx="558" cy="147.7" r="5.55"/><circle cx="552.1" cy="123.5" r="5.55"/><circle cx="553.4" cy="105" r="5.55"/><circle cx="569.5" cy="69.5" r="5.55"/><circle cx="558.3" cy="113.4" r="5.55"/><circle cx="553.5" cy="119.2" r="5.55"/><circle cx="513" cy="133" r="5.55"/><circle cx="529.5" cy="115.2" r="5.55"/><circle cx="573.5" cy="86" r="5.55"/><circle cx="558" cy="136.9" r="5.55"/><circle cx="570.4" cy="97.3" r="5.55"/><circle cx="572.4" cy="93.9" r="5.55"/><circle cx="555.7" cy="121.9" r="5.55"/><circle cx="552.2" cy="91.4" r="5.55"/><circle cx="534.6" cy="137.9" r="5.55"/><circle cx="572.1" cy="121.8" r="5.55"/><circle cx="594.1" cy="96.6" r="5.55"/><circle cx="599.2" cy="74.3" r="5.55"/><circle cx="557.4" cy="104.7" r="5.55"/><circle cx="548.7" cy="100.8" r="5.55"/><circle cx="589.2" cy="108.9" r="5.55"/><circle cx="590.6" cy="86.3" r="5.55"/><circle cx="567.2" cy="89.2" r="5.55"/><circle cx="522.4" cy="96.6" r="5.55"/><circle cx="559.1" cy="87.1" r="5.55"/><circle cx="556.3" cy="62.5" r="5.55"/><circle cx="567.5" cy="133" r="5.55"/><circle cx="542.5" cy="134.7" r="5.55"/><circle cx="563.4" cy="85.2" r="5.55"/><circle cx="567" cy="93.3" r="5.55"/><circle cx="581.5" cy="115.6" r="5.55"/><circle cx="534.9" cy="103.2" r="5.55"/><circle cx="554.5" cy="112" r="5.55"/><circle cx="529.5" cy="112.6" r="5.55"/><circle cx="524.5" cy="105.4" r="5.55"/><circle cx="556.3" cy="118" r="5.55"/><circle cx="587" cy="141" r="5.55"/><circle cx="604.5" cy="97.5" r="5.55"/><circle cx="542.7" cy="130.8" r="5.55"/><circle cx="558.3" cy="101" r="5.55"/><circle cx="556.2" cy="118.9" r="5.55"/><circle cx="604.3" cy="83.7" r="5.55"/><circle cx="549.6" cy="82.4" r="5.55"/><circle cx="532.8" cy="91.5" r="5.55"/><circle cx="603.4" cy="107.4" r="5.55"/><circle cx="569" cy="105.7" r="5.55"/><circle cx="576.7" cy="132" r="5.55"/><circle cx="594.7" cy="73.9" r="5.55"/><circle cx="596.3" cy="105.2" r="5.55"/><circle cx="587" cy="60.4" r="5.55"/><circle cx="591.4" cy="84.9" r="5.55"/><circle cx="598.5" cy="104.7" r="5.55"/><circle cx="580" cy="112.5" r="5.55"/><circle cx="538.7" cy="122.1" r="5.55"/><circle cx="588.7" cy="98.8" r="5.55"/><circle cx="556.7" cy="95.1" r="5.55"/><circle cx="557.4" cy="73.8" r="5.55"/><circle cx="570.9" cy="110" r="5.55"/><circle cx="570.3" cy="134.2" r="5.55"/><circle cx="557.4" cy="134.9" r="5.55"/><circle cx="560" cy="75.1" r="5.55"/><circle cx="598.8" cy="86.1" r="5.55"/><circle cx="568" cy="117.6" r="5.55"/><circle cx="566.2" cy="89.1" r="5.55"/><circle cx="562.7" cy="133" r="5.55"/><circle cx="569.9" cy="121.1" r="5.55"/><circle cx="550.8" cy="133.3" r="5.55"/><circle cx="562.3" cy="59.5" r="5.55"/><circle cx="549.1" cy="81.7" r="5.55"/><circle cx="569.4" cy="125" r="5.55"/><circle cx="545.3" cy="148.2" r="5.55"/><circle cx="567.6" cy="113.3" r="5.55"/><circle cx="578.8" cy="79.9" r="5.55"/><circle cx="564.2" cy="114.6" r="5.55"/><circle cx="549.5" cy="106.9" r="5.55"/><circle cx="571.6" cy="86.7" r="5.55"/><circle cx="530.7" cy="120.5" r="5.55"/><circle cx="568.6" cy="105.6" r="5.55"/><circle cx="569.4" cy="86.4" r="5.55"/><circle cx="563" cy="131.1" r="5.55"/><circle cx="559.1" cy="129.6" r="5.55"/><circle cx="557.9" cy="89.5" r="5.55"/><circle cx="587" cy="126.5" r="5.55"/><circle cx="545.1" cy="96.3" r="5.55"/><circle cx="574" cy="104.5" r="5.55"/><circle cx="582.7" cy="111.2" r="5.55"/><circle cx="564.9" cy="137.9" r="5.55"/><circle cx="522.9" cy="93.3" r="5.55"/><circle cx="585.7" cy="105.5" r="5.55"/><circle cx="600.6" cy="93.6" r="5.55"/><circle cx="607.7" cy="91.1" r="5.55"/><circle cx="519.5" cy="96.9" r="5.55"/><circle cx="574.8" cy="72.9" r="5.55"/><circle cx="576.6" cy="86.5" r="5.55"/><circle cx="557.8" cy="99.4" r="5.55"/><circle cx="591" cy="108.4" r="5.55"/><circle cx="570.1" cy="78.5" r="5.55"/><circle cx="612.7" cy="79.5" r="5.55"/><circle cx="553" cy="132.5" r="5.55"/><circle cx="555.6" cy="74.6" r="5.55"/><circle cx="548.6" cy="95.6" r="5.55"/><circle cx="554.4" cy="102.9" r="5.55"/><circle cx="586.2" cy="80.4" r="5.55"/><circle cx="592.3" cy="97.5" r="5.55"/><circle cx="543.8" cy="123.3" r="5.55"/><circle cx="571.5" cy="120" r="5.55"/><circle cx="547.4" cy="81.2" r="5.55"/><circle cx="575.3" cy="81.5" r="5.55"/><circle cx="569.2" cy="110.4" r="5.55"/><circle cx="562.5" cy="96.2" r="5.55"/><circle cx="556.9" cy="85.2" r="5.55"/><circle cx="602.3" cy="70" r="5.55"/><circle cx="591" cy="124.7" r="5.55"/><circle cx="556.7" cy="110.1" r="5.55"/><circle cx="585.7" cy="58.6" r="5.55"/><circle cx="544.2" cy="104.8" r="5.55"/><circle cx="581.4" cy="136.9" r="5.55"/><circle cx="539.2" cy="132.7" r="5.55"/><circle cx="591.9" cy="87.6" r="5.55"/><circle cx="585.6" cy="111.6" r="5.55"/><circle cx="587.3" cy="105.8" r="5.55"/><circle cx="555.1" cy="89.8" r="5.55"/><circle cx="574.9" cy="117.3" r="5.55"/><circle cx="561.8" cy="129.8" r="5.55"/><circle cx="557.1" cy="125.7" r="5.55"/><circle cx="585.7" cy="105.8" r="5.55"/><circle cx="559.1" cy="94.7" r="5.55"/><circle cx="592.5" cy="68.2" r="5.55"/><circle cx="543.9" cy="113.9" r="5.55"/><circle cx="566" cy="122.5" r="5.55"/><circle cx="537.5" cy="117.9" r="5.55"/><circle cx="594.3" cy="78.8" r="5.55"/><circle cx="527.9" cy="117.5" r="5.55"/><circle cx="576.6" cy="85.9" r="5.55"/><circle cx="585.2" cy="69" r="5.55"/><circle cx="560.5" cy="105.3" r="5.55"/><circle cx="579.2" cy="89.7" r="5.55"/><circle cx="524.2" cy="146.7" r="5.55"/><circle cx="554.7" cy="109.3" r="5.55"/><circle cx="582.4" cy="112.4" r="5.55"/><circle cx="556.3" cy="96.4" r="5.55"/><circle cx="547.5" cy="117.1" r="5.55"/><circle cx="570.2" cy="74.2" r="5.55"/><circle cx="584.2" cy="107.3" r="5.55"/><circle cx="543.1" cy="104.5" r="5.55"/><circle cx="562.2" cy="120.1" r="5.55"/><circle cx="554.2" cy="148" r="5.55"/><circle cx="583.3" cy="126" r="5.55"/><circle cx="618.2" cy="72" r="5.55"/><circle cx="560.2" cy="125.6" r="5.55"/><circle cx="556" cy="81.2" r="5.55"/><circle cx="572.1" cy="129.7" r="5.55"/><circle cx="594.8" cy="99.9" r="5.55"/><circle cx="583.6" cy="103.7" r="5.55"/><circle cx="571.2" cy="117.5" r="5.55"/><circle cx="533.9" cy="142.2" r="5.55"/><circle cx="548.5" cy="108.7" r="5.55"/><circle cx="600.4" cy="90.3" r="5.55"/><circle cx="577.3" cy="123.1" r="5.55"/><circle cx="561.9" cy="78.6" r="5.55"/><circle cx="568.3" cy="124.1" r="5.55"/><circle cx="534.7" cy="145.9" r="5.55"/><circle cx="584.1" cy="104.5" r="5.55"/><circle cx="574" cy="99.9" r="5.55"/><circle cx="569.2" cy="128.4" r="5.55"/><circle cx="571.8" cy="123" r="5.55"/><circle cx="581.7" cy="107.4" r="5.55"/><circle cx="535.7" cy="100.7" r="5.55"/><circle cx="581.9" cy="105.6" r="5.55"/><circle cx="561.8" cy="108.5" r="5.55"/><circle cx="571.6" cy="114.6" r="5.55"/><circle cx="535.9" cy="101" r="5.55"/><circle cx="561.8" cy="131.4" r="5.55"/><circle cx="594.5" cy="114.1" r="5.55"/><circle cx="549.4" cy="108.4" r="5.55"/><circle cx="586.7" cy="102.5" r="5.55"/><circle cx="590.3" cy="85.6" r="5.55"/><circle cx="576" cy="107.9" r="5.55"/><circle cx="519.3" cy="121.4" r="5.55"/><circle cx="559.9" cy="126" r="5.55"/><circle cx="582.9" cy="85.8" r="5.55"/><circle cx="570.1" cy="117.5" r="5.55"/><circle cx="550.6" cy="120.9" r="5.55"/><circle cx="577.9" cy="117.9" r="5.55"/><circle cx="577.5" cy="96.1" r="5.55"/><circle cx="578.6" cy="105.8" r="5.55"/><circle cx="594.6" cy="105.3" r="5.55"/><circle cx="552.7" cy="123.3" r="5.55"/><circle cx="573.3" cy="120.6" r="5.55"/><circle cx="563.5" cy="111.6" r="5.55"/><circle cx="571.5" cy="110" r="5.55"/><circle cx="520.7" cy="142.3" r="5.55"/><circle cx="571.1" cy="117.4" r="5.55"/><circle cx="557.4" cy="145.9" r="5.55"/><circle cx="588.6" cy="73.4" r="5.55"/><circle cx="603.2" cy="79.6" r="5.55"/><circle cx="600.6" cy="72.9" r="5.55"/><circle cx="564.8" cy="74.3" r="5.55"/><circle cx="561.1" cy="118" r="5.55"/><circle cx="599.6" cy="98.1" r="5.55"/><circle cx="555.1" cy="102.6" r="5.55"/><circle cx="552.4" cy="71" r="5.55"/><circle cx="551.7" cy="125.2" r="5.55"/><circle cx="546.1" cy="109.1" r="5.55"/><circle cx="598.5" cy="115" r="5.55"/><circle cx="596.1" cy="65.7" r="5.55"/><circle cx="564.6" cy="104.2" r="5.55"/><circle cx="596.9" cy="49" r="5.55"/><circle cx="534.9" cy="124.7" r="5.55"/><circle cx="552.7" cy="94.3" r="5.55"/><circle cx="547.4" cy="123.3" r="5.55"/><circle cx="552" cy="97.7" r="5.55"/><circle cx="573" cy="129.7" r="5.55"/><circle cx="548.6" cy="92.3" r="5.55"/><circle cx="581.4" cy="82.5" r="5.55"/><circle cx="572.8" cy="76.2" r="5.55"/><circle cx="551.6" cy="83" r="5.55"/><circle cx="587.1" cy="122.1" r="5.55"/><circle cx="539.6" cy="78" r="5.55"/><circle cx="586.6" cy="117.1" r="5.55"/><circle cx="556.8" cy="76" r="5.55"/><circle cx="566.5" cy="104.6" r="5.55"/><circle cx="603.9" cy="118.1" r="5.55"/><circle cx="513.9" cy="108" r="5.55"/><circle cx="561.2" cy="71.8" r="5.55"/><circle cx="613.5" cy="81.1" r="5.55"/><circle cx="570.7" cy="101.7" r="5.55"/><circle cx="532.9" cy="127.7" r="5.55"/><circle cx="588.8" cy="74.7" r="5.55"/><circle cx="546.7" cy="100.1" r="5.55"/><circle cx="581" cy="124.8" r="5.55"/><circle cx="571" cy="86.6" r="5.55"/><circle cx="573.9" cy="97.1" r="5.55"/><circle cx="603.1" cy="90.7" r="5.55"/><circle cx="602.4" cy="112.4" r="5.55"/><circle cx="559.7" cy="94.6" r="5.55"/><circle cx="534" cy="148.9" r="5.55"/><circle cx="538" cy="121.1" r="5.55"/><circle cx="560" cy="92.8" r="5.55"/><circle cx="572" cy="84.9" r="5.55"/><circle cx="538.6" cy="118.5" r="5.55"/><circle cx="531.6" cy="97.6" r="5.55"/><circle cx="547.5" cy="71.8" r="5.55"/><circle cx="521.6" cy="136.1" r="5.55"/><circle cx="532.3" cy="146.4" r="5.55"/><circle cx="577.1" cy="121.9" r="5.55"/><circle cx="562.8" cy="92.5" r="5.55"/><circle cx="554.5" cy="112" r="5.55"/><circle cx="533.1" cy="159.6" r="5.55"/><circle cx="575.4" cy="111.3" r="5.55"/><circle cx="540.1" cy="130.6" r="5.55"/><circle cx="576.2" cy="89.2" r="5.55"/><circle cx="588" cy="126.5" r="5.55"/><circle cx="565.6" cy="94.4" r="5.55"/><circle cx="570.2" cy="84.7" r="5.55"/><circle cx="534.5" cy="96.9" r="5.55"/><circle cx="585.7" cy="90.9" r="5.55"/><circle cx="583.9" cy="74.4" r="5.55"/><circle cx="597.4" cy="116.3" r="5.55"/><circle cx="584.5" cy="71.7" r="5.55"/><circle cx="564.8" cy="125.9" r="5.55"/><circle cx="593.8" cy="94.5" r="5.55"/><circle cx="591.7" cy="116.1" r="5.55"/><circle cx="530.5" cy="110.2" r="5.55"/><circle cx="584.4" cy="122.6" r="5.55"/><circle cx="556" cy="115.1" r="5.55"/><circle cx="554.1" cy="114.2" r="5.55"/><circle cx="562.7" cy="98.4" r="5.55"/><circle cx="579" cy="76.8" r="5.55"/><circle cx="555.1" cy="106.6" r="5.55"/><circle cx="536.9" cy="75.3" r="5.55"/><circle cx="545.8" cy="140.4" r="5.55"/><circle cx="568" cy="102.1" r="5.55"/><circle cx="573.4" cy="68.7" r="5.55"/><circle cx="578.9" cy="85.7" r="5.55"/><circle cx="603.9" cy="118.8" r="5.55"/><circle cx="560.9" cy="119" r="5.55"/><circle cx="542.8" cy="120.1" r="5.55"/><circle cx="586" cy="124.4" r="5.55"/><circle cx="531" cy="123.3" r="5.55"/><circle cx="541.3" cy="128.2" r="5.55"/><circle cx="574.8" cy="77.5" r="5.55"/><circle cx="545.8" cy="120.5" r="5.55"/><circle cx="606.8" cy="73.5" r="5.55"/><circle cx="547.4" cy="140.4" r="5.55"/><circle cx="563.4" cy="86.5" r="5.55"/><circle cx="542.7" cy="127.1" r="5.55"/><circle cx="569.5" cy="100.9" r="5.55"/><circle cx="541.4" cy="121.2" r="5.55"/><circle cx="565.5" cy="102.4" r="5.55"/><circle cx="553" cy="99" r="5.55"/><circle cx="547.6" cy="105.1" r="5.55"/><circle cx="574.9" cy="93.2" r="5.55"/><circle cx="578.6" cy="60.2" r="5.55"/><circle cx="560.2" cy="120.8" r="5.55"/><circle cx="578.5" cy="82.7" r="5.55"/><circle cx="554.7" cy="91.7" r="5.55"/><circle cx="556.7" cy="97.5" r="5.55"/><circle cx="598.1" cy="51.8" r="5.55"/><circle cx="524.4" cy="148" r="5.55"/><circle cx="554.6" cy="119.3" r="5.55"/><circle cx="530.2" cy="139.8" r="5.55"/><circle cx="548.3" cy="100.8" r="5.55"/><circle cx="579.8" cy="124.1" r="5.55"/><circle cx="572.8" cy="97.5" r="5.55"/><circle cx="609.6" cy="75.9" r="5.55"/><circle cx="592.6" cy="79.6" r="5.55"/><circle cx="554" cy="110.1" r="5.55"/><circle cx="574.9" cy="94.3" r="5.55"/><circle cx="581.2" cy="110.8" r="5.55"/><circle cx="582.5" cy="110.5" r="5.55"/><circle cx="569" cy="88.6" r="5.55"/><circle cx="546.2" cy="142.1" r="5.55"/><circle cx="580.1" cy="145.5" r="5.55"/><circle cx="576.7" cy="101.1" r="5.55"/><circle cx="588.9" cy="103.7" r="5.55"/><circle cx="565.2" cy="136.9" r="5.55"/><circle cx="567.8" cy="117.5" r="5.55"/><circle cx="583.5" cy="123.4" r="5.55"/><circle cx="565.5" cy="109.3" r="5.55"/><circle cx="584" cy="94.3" r="5.55"/><circle cx="558.9" cy="94.5" r="5.55"/><circle cx="543.9" cy="137" r="5.55"/><circle cx="547.8" cy="127.2" r="5.55"/><circle cx="589" cy="111.9" r="5.55"/><circle cx="530.4" cy="132.2" r="5.55"/><circle cx="569.9" cy="97.8" r="5.55"/><circle cx="543.2" cy="109.1" r="5.55"/><circle cx="550.9" cy="121.1" r="5.55"/><circle cx="571.6" cy="85.6" r="5.55"/><circle cx="560.1" cy="123.9" r="5.55"/><circle cx="548.1" cy="120.5" r="5.55"/><circle cx="545.3" cy="111.5" r="5.55"/><circle cx="562.3" cy="99.2" r="5.55"/><circle cx="520.6" cy="143.2" r="5.55"/><circle cx="576.9" cy="114.3" r="5.55"/><circle cx="569.5" cy="116.1" r="5.55"/><circle cx="583.9" cy="85" r="5.55"/><circle cx="543" cy="98.6" r="5.55"/><circle cx="572.1" cy="61.6" r="5.55"/><circle cx="547.9" cy="129" r="5.55"/><circle cx="564.6" cy="105.5" r="5.55"/><circle cx="532.9" cy="126.5" r="5.55"/><circle cx="534.7" cy="118" r="5.55"/><circle cx="547.1" cy="106.8" r="5.55"/><circle cx="606.9" cy="107.8" r="5.55"/><circle cx="576.6" cy="82.9" r="5.55"/><circle cx="551.6" cy="114.3" r="5.55"/><circle cx="586.4" cy="103.5" r="5.55"/><circle cx="563.7" cy="116.3" r="5.55"/><circle cx="580.6" cy="112.9" r="5.55"/><circle cx="551.8" cy="87.2" r="5.55"/><circle cx="561.9" cy="78.8" r="5.55"/><circle cx="562" cy="106.2" r="5.55"/><circle cx="565.1" cy="96.1" r="5.55"/><circle cx="568.6" cy="103.7" r="5.55"/><circle cx="563.5" cy="131.6" r="5.55"/><circle cx="580.3" cy="54.3" r="5.55"/><circle cx="560.3" cy="116.8" r="5.55"/><circle cx="578.1" cy="87.4" r="5.55"/><circle cx="577.2" cy="106.8" r="5.55"/><circle cx="589" cy="79.7" r="5.55"/><circle cx="518.9" cy="144.7" r="5.55"/><circle cx="590.3" cy="50.8" r="5.55"/><circle cx="529.5" cy="82" r="5.55"/><circle cx="555.5" cy="140.8" r="5.55"/><circle cx="548.2" cy="85.2" r="5.55"/><circle cx="600" cy="51.4" r="5.55"/><circle cx="595.4" cy="111.2" r="5.55"/><circle cx="537.4" cy="125.6" r="5.55"/><circle cx="564.5" cy="120.4" r="5.55"/><circle cx="586" cy="73.2" r="5.55"/><circle cx="548.7" cy="141.4" r="5.55"/><circle cx="562" cy="108.1" r="5.55"/><circle cx="553" cy="104.7" r="5.55"/><circle cx="556.2" cy="107.3" r="5.55"/><circle cx="571" cy="61.4" r="5.55"/><circle cx="548.5" cy="114.8" r="5.55"/><circle cx="557.4" cy="126.9" r="5.55"/><circle cx="568.4" cy="70.5" r="5.55"/><circle cx="586.1" cy="99.2" r="5.55"/><circle cx="543.8" cy="149.1" r="5.55"/><circle cx="603.6" cy="113.3" r="5.55"/><circle cx="568" cy="83.3" r="5.55"/><circle cx="562.4" cy="124.2" r="5.55"/><circle cx="547.2" cy="81.2" r="5.55"/><circle cx="564.2" cy="93.7" r="5.55"/><circle cx="557.4" cy="115.4" r="5.55"/><circle cx="559.6" cy="120.8" r="5.55"/><circle cx="552.1" cy="117.7" r="5.55"/><circle cx="558.8" cy="108.8" r="5.55"/><circle cx="533.1" cy="125.7" r="5.55"/><circle cx="558.3" cy="100.1" r="5.55"/><circle cx="542" cy="139.1" r="5.55"/><circle cx="573.3" cy="108.4" r="5.55"/><circle cx="571.5" cy="112.7" r="5.55"/><circle cx="559.1" cy="136.8" r="5.55"/><circle cx="595.3" cy="98.7" r="5.55"/><circle cx="581.7" cy="70.1" r="5.55"/><circle cx="538.3" cy="131.3" r="5.55"/><circle cx="579.2" cy="69.9" r="5.55"/><circle cx="582.1" cy="110.6" r="5.55"/><circle cx="573.4" cy="113.2" r="5.55"/><circle cx="552.7" cy="115.5" r="5.55"/><circle cx="566.2" cy="105.5" r="5.55"/><circle cx="605.8" cy="88.1" r="5.55"/><circle cx="570" cy="88.7" r="5.55"/><circle cx="553.3" cy="109.4" r="5.55"/><circle cx="564.4" cy="128.1" r="5.55"/><circle cx="563.3" cy="117.9" r="5.55"/><circle cx="593.5" cy="106.8" r="5.55"/><circle cx="602.8" cy="68.3" r="5.55"/><circle cx="555.5" cy="134.6" r="5.55"/><circle cx="557.7" cy="98.2" r="5.55"/><circle cx="545.8" cy="102.1" r="5.55"/><circle cx="551.2" cy="119.9" r="5.55"/><circle cx="579.8" cy="96.7" r="5.55"/><circle cx="551.9" cy="144.7" r="5.55"/><circle cx="547.2" cy="126.9" r="5.55"/><circle cx="583.2" cy="76.2" r="5.55"/><circle cx="584.4" cy="109" r="5.55"/><circle cx="573.5" cy="92.5" r="5.55"/><circle cx="568.4" cy="125.3" r="5.55"/><circle cx="586.1" cy="135.7" r="5.55"/><circle cx="582.2" cy="102.1" r="5.55"/><circle cx="567.9" cy="124.7" r="5.55"/><circle cx="551.3" cy="132.9" r="5.55"/><circle cx="568" cy="106.7" r="5.55"/><circle cx="584.4" cy="87.8" r="5.55"/><circle cx="547.2" cy="126.7" r="5.55"/><circle cx="597.5" cy="93.2" r="5.55"/><circle cx="556.6" cy="71.7" r="5.55"/><circle cx="545.9" cy="119.5" r="5.55"/><circle cx="573.3" cy="110.9" r="5.55"/><circle cx="553.2" cy="95.8" r="5.55"/><circle cx="574.7" cy="89.4" r="5.55"/><circle cx="567.7" cy="82.4" r="5.55"/><circle cx="547.2" cy="136.4" r="5.55"/><circle cx="551.8" cy="142" r="5.55"/><circle cx="601.7" cy="97.8" r="5.55"/><circle cx="573.2" cy="107" r="5.55"/><circle cx="563" cy="87.4" r="5.55"/><circle cx="573.9" cy="99.6" r="5.55"/><circle cx="599.3" cy="77.6" r="5.55"/><circle cx="561.3" cy="144.8" r="5.55"/><circle cx="556.7" cy="57.8" r="5.55"/><circle cx="554.9" cy="125.4" r="5.55"/><circle cx="554.3" cy="68.9" r="5.55"/><circle cx="597.8" cy="83.2" r="5.55"/><circle cx="545.8" cy="138.2" r="5.55"/><circle cx="578.3" cy="100.8" r="5.55"/><circle cx="571.1" cy="119.4" r="5.55"/><circle cx="564.5" cy="114.3" r="5.55"/><circle cx="557.2" cy="96.2" r="5.55"/><circle cx="550.5" cy="130.1" r="5.55"/><circle cx="563" cy="137.4" r="5.55"/><circle cx="575" cy="88.8" r="5.55"/><circle cx="580.1" cy="86.4" r="5.55"/><circle cx="539.1" cy="103" r="5.55"/><circle cx="553.7" cy="147.4" r="5.55"/><circle cx="599.5" cy="49.5" r="5.55"/><circle cx="574.8" cy="72.7" r="5.55"/><circle cx="565.4" cy="91.6" r="5.55"/><circle cx="535.4" cy="116.6" r="5.55"/><circle cx="551.2" cy="113.7" r="5.55"/><circle cx="585.4" cy="112.6" r="5.55"/><circle cx="557.8" cy="132.9" r="5.55"/><circle cx="611.5" cy="85.4" r="5.55"/><circle cx="586.2" cy="117.1" r="5.55"/><circle cx="560.3" cy="86.1" r="5.55"/><circle cx="552.6" cy="131" r="5.55"/><circle cx="567.8" cy="139.4" r="5.55"/><circle cx="580.1" cy="145.4" r="5.55"/><circle cx="551.5" cy="83" r="5.55"/><circle cx="541.8" cy="94.3" r="5.55"/><circle cx="565.6" cy="115.2" r="5.55"/><circle cx="566" cy="93.7" r="5.55"/><circle cx="556" cy="88.6" r="5.55"/><circle cx="595.9" cy="76.7" r="5.55"/><circle cx="551.1" cy="99.7" r="5.55"/><circle cx="517.7" cy="101.1" r="5.55"/><circle cx="564.2" cy="104" r="5.55"/><circle cx="592.3" cy="74.4" r="5.55"/><circle cx="563.1" cy="122.6" r="5.55"/><circle cx="577.6" cy="113.1" r="5.55"/><circle cx="560.7" cy="113.5" r="5.55"/><circle cx="568.9" cy="92.9" r="5.55"/><circle cx="560.7" cy="91.4" r="5.55"/><circle cx="529.3" cy="103.4" r="5.55"/><circle cx="555.1" cy="104.1" r="5.55"/><circle cx="594.1" cy="94.8" r="5.55"/><circle cx="592.4" cy="87.8" r="5.55"/><circle cx="607.3" cy="106.5" r="5.55"/><circle cx="578" cy="84.1" r="5.55"/><circle cx="536" cy="91.8" r="5.55"/><circle cx="568.8" cy="120.5" r="5.55"/><circle cx="594.4" cy="95.5" r="5.55"/><circle cx="529" cy="116.2" r="5.55"/><circle cx="543" cy="87.9" r="5.55"/><circle cx="533.8" cy="144.8" r="5.55"/><circle cx="567.1" cy="119.6" r="5.55"/><circle cx="537.9" cy="106.8" r="5.55"/><circle cx="539" cy="125.7" r="5.55"/><circle cx="565" cy="83.4" r="5.55"/><circle cx="536.5" cy="106.8" r="5.55"/><circle cx="541.3" cy="97.5" r="5.55"/><circle cx="561.9" cy="110.9" r="5.55"/><circle cx="546.9" cy="115.4" r="5.55"/><circle cx="581.2" cy="66.7" r="5.55"/><circle cx="590.5" cy="118.5" r="5.55"/><circle cx="529.5" cy="121.3" r="5.55"/><circle cx="554.5" cy="112.4" r="5.55"/><circle cx="544.4" cy="98.5" r="5.55"/><circle cx="564.1" cy="114.4" r="5.55"/><circle cx="535" cy="100" r="5.55"/><circle cx="568.4" cy="101.9" r="5.55"/><circle cx="589.8" cy="69" r="5.55"/><circle cx="574" cy="116.5" r="5.55"/><circle cx="548.1" cy="95" r="5.55"/><circle cx="549.4" cy="105.1" r="5.55"/><circle cx="606.4" cy="47.9" r="5.55"/><circle cx="555.6" cy="76.3" r="5.55"/><circle cx="580.8" cy="92.1" r="5.55"/><circle cx="543.7" cy="111.8" r="5.55"/><circle cx="565.9" cy="110.4" r="5.55"/><circle cx="576.7" cy="106.4" r="5.55"/><circle cx="568.5" cy="102.8" r="5.55"/><circle cx="552.8" cy="124.7" r="5.55"/><circle cx="554.4" cy="123.2" r="5.55"/><circle cx="566.2" cy="86.7" r="5.55"/><circle cx="567.3" cy="94.9" r="5.55"/><circle cx="561.7" cy="98" r="5.55"/><circle cx="577.2" cy="68.8" r="5.55"/><circle cx="549.9" cy="114.6" r="5.55"/><circle cx="578.2" cy="106.6" r="5.55"/><circle cx="543.8" cy="138.5" r="5.55"/><circle cx="585.3" cy="91.3" r="5.55"/><circle cx="559" cy="139.1" r="5.55"/><circle cx="564.5" cy="115.1" r="5.55"/><circle cx="606.1" cy="53.6" r="5.55"/><circle cx="552.5" cy="115.6" r="5.55"/><circle cx="525.6" cy="116.3" r="5.55"/><circle cx="579.7" cy="99.9" r="5.55"/><circle cx="583.3" cy="111.3" r="5.55"/><circle cx="607" cy="79.9" r="5.55"/><circle cx="541.1" cy="129.5" r="5.55"/><circle cx="544.6" cy="144.1" r="5.55"/><circle cx="570.8" cy="120.3" r="5.55"/><circle cx="594.5" cy="115.3" r="5.55"/><circle cx="586.5" cy="109.4" r="5.55"/><circle cx="585.5" cy="82.4" r="5.55"/><circle cx="539.4" cy="136.2" r="5.55"/><circle cx="552.1" cy="122.9" r="5.55"/><circle cx="565.1" cy="108.9" r="5.55"/><circle cx="573" cy="80.7" r="5.55"/><circle cx="582.8" cy="102" r="5.55"/><circle cx="548.2" cy="105.1" r="5.55"/><circle cx="536.3" cy="116.6" r="5.55"/><circle cx="584.6" cy="89" r="5.55"/><circle cx="573.9" cy="77.6" r="5.55"/><circle cx="534.8" cy="85.1" r="5.55"/><circle cx="603.3" cy="78.1" r="5.55"/><circle cx="543.1" cy="129.1" r="5.55"/><circle cx="553.3" cy="113.7" r="5.55"/><circle cx="558.5" cy="122.9" r="5.55"/><circle cx="559" cy="115.7" r="5.55"/><circle cx="540.1" cy="114.6" r="5.55"/><circle cx="580.6" cy="136.6" r="5.55"/><circle cx="557.8" cy="100" r="5.55"/><circle cx="569" cy="123.6" r="5.55"/><circle cx="599.6" cy="109.4" r="5.55"/><circle cx="555.1" cy="98.8" r="5.55"/><circle cx="565.7" cy="104.7" r="5.55"/><circle cx="580" cy="63.9" r="5.55"/><circle cx="583.5" cy="108.3" r="5.55"/><circle cx="563" cy="96.8" r="5.55"/><circle cx="550.1" cy="92.3" r="5.55"/><circle cx="582.5" cy="116.5" r="5.55"/><circle cx="586.4" cy="101.5" r="5.55"/><circle cx="539" cy="111" r="5.55"/><circle cx="599.8" cy="92.3" r="5.55"/><circle cx="594.7" cy="72.7" r="5.55"/><circle cx="577.8" cy="132.4" r="5.55"/><circle cx="529.3" cy="131.2" r="5.55"/><circle cx="553.4" cy="109.9" r="5.55"/><circle cx="556" cy="91" r="5.55"/><circle cx="580.8" cy="87.7" r="5.55"/><circle cx="561.9" cy="108" r="5.55"/><circle cx="568.6" cy="117.9" r="5.55"/><circle cx="592.4" cy="72.6" r="5.55"/><circle cx="533.9" cy="101.9" r="5.55"/><circle cx="572.9" cy="72.5" r="5.55"/><circle cx="598.5" cy="99.8" r="5.55"/><circle cx="555.8" cy="144" r="5.55"/><circle cx="567.3" cy="96.1" r="5.55"/><circle cx="552.9" cy="113.9" r="5.55"/><circle cx="545.6" cy="121.8" r="5.55"/><circle cx="532.2" cy="142.8" r="5.55"/><circle cx="515.4" cy="118.5" r="5.55"/><circle cx="583.2" cy="104.5" r="5.55"/><circle cx="549.2" cy="104.7" r="5.55"/><circle cx="571.2" cy="99.5" r="5.55"/><circle cx="561.8" cy="112.9" r="5.55"/><circle cx="576.8" cy="123.7" r="5.55"/><circle cx="554.6" cy="154.9" r="5.55"/><circle cx="578.3" cy="99.4" r="5.55"/><circle cx="557.7" cy="92.7" r="5.55"/><circle cx="527.7" cy="106.2" r="5.55"/><circle cx="577.6" cy="118.2" r="5.55"/><circle cx="579.5" cy="92.5" r="5.55"/><circle cx="604.4" cy="71.5" r="5.55"/><circle cx="545.4" cy="119.4" r="5.55"/><circle cx="565.2" cy="82.1" r="5.55"/><circle cx="613" cy="68.5" r="5.55"/><circle cx="553.4" cy="92" r="5.55"/><circle cx="601.9" cy="82.5" r="5.55"/><circle cx="578.2" cy="63.2" r="5.55"/><circle cx="545.7" cy="88.2" r="5.55"/><circle cx="548.2" cy="157.1" r="5.55"/><circle cx="555.8" cy="68.4" r="5.55"/><circle cx="568.4" cy="69.3" r="5.55"/><circle cx="594.2" cy="85.3" r="5.55"/><circle cx="588.6" cy="80.9" r="5.55"/><circle cx="592" cy="127.8" r="5.55"/><circle cx="574.9" cy="139.1" r="5.55"/><circle cx="564.3" cy="120" r="5.55"/><circle cx="572.7" cy="111.8" r="5.55"/><circle cx="548.2" cy="75.5" r="5.55"/><circle cx="544.7" cy="104.3" r="5.55"/><circle cx="561.1" cy="99.1" r="5.55"/><circle cx="577.7" cy="83.3" r="5.55"/><circle cx="552.6" cy="82" r="5.55"/><circle cx="593" cy="45.4" r="5.55"/><circle cx="591.7" cy="49.1" r="5.55"/><circle cx="557.8" cy="139.2" r="5.55"/><circle cx="559.9" cy="120.1" r="5.55"/><circle cx="537.1" cy="127.6" r="5.55"/><circle cx="540.4" cy="125.2" r="5.55"/><circle cx="577.8" cy="95.3" r="5.55"/><circle cx="538" cy="117" r="5.55"/><circle cx="542.6" cy="122.8" r="5.55"/><circle cx="537.6" cy="90.8" r="5.55"/><circle cx="587.2" cy="94" r="5.55"/><circle cx="570.5" cy="121.4" r="5.55"/><circle cx="562.8" cy="115" r="5.55"/><circle cx="586.8" cy="89.4" r="5.55"/><circle cx="577.5" cy="97.6" r="5.55"/><circle cx="598.7" cy="116" r="5.55"/><circle cx="583.8" cy="85.8" r="5.55"/><circle cx="529.6" cy="110.7" r="5.55"/><circle cx="554.8" cy="87.8" r="5.55"/><circle cx="562.4" cy="124.6" r="5.55"/><circle cx="596.3" cy="93.5" r="5.55"/><circle cx="588.8" cy="94.7" r="5.55"/><circle cx="556.8" cy="134.7" r="5.55"/><circle cx="590.5" cy="77.4" r="5.55"/><circle cx="524.7" cy="112.2" r="5.55"/><circle cx="576" cy="71.3" r="5.55"/><circle cx="544.9" cy="79.8" r="5.55"/><circle cx="544.1" cy="117.8" r="5.55"/><circle cx="527.2" cy="112.5" r="5.55"/><circle cx="560.3" cy="111.1" r="5.55"/><circle cx="561.8" cy="102.3" r="5.55"/><circle cx="526.8" cy="97.6" r="5.55"/><circle cx="583.8" cy="99.6" r="5.55"/><circle cx="549.4" cy="141.3" r="5.55"/><circle cx="546.4" cy="88.8" r="5.55"/><circle cx="566.3" cy="105.1" r="5.55"/><circle cx="540.5" cy="150.8" r="5.55"/><circle cx="566.2" cy="93.9" r="5.55"/><circle cx="553" cy="139.5" r="5.55"/><circle cx="522.6" cy="158.3" r="5.55"/><circle cx="567.3" cy="128.1" r="5.55"/><circle cx="562.7" cy="110.4" r="5.55"/><circle cx="578.3" cy="82.7" r="5.55"/><circle cx="562.3" cy="119.3" r="5.55"/><circle cx="600.6" cy="80.9" r="5.55"/><circle cx="593.1" cy="75.9" r="5.55"/><circle cx="577.9" cy="75.6" r="5.55"/><circle cx="577.6" cy="67.1" r="5.55"/><circle cx="565.7" cy="92.1" r="5.55"/><circle cx="547.1" cy="109.1" r="5.55"/><circle cx="578.5" cy="92.1" r="5.55"/><circle cx="583.7" cy="84.9" r="5.55"/><circle cx="567.5" cy="97.6" r="5.55"/><circle cx="559.9" cy="108.7" r="5.55"/><circle cx="538.7" cy="138.5" r="5.55"/><circle cx="596.5" cy="106.2" r="5.55"/><circle cx="586.1" cy="109.1" r="5.55"/><circle cx="533.8" cy="124.8" r="5.55"/><circle cx="571.5" cy="106" r="5.55"/><circle cx="572.9" cy="84.7" r="5.55"/><circle cx="561.1" cy="104.8" r="5.55"/><circle cx="575" cy="84.3" r="5.55"/><circle cx="569.6" cy="80.8" r="5.55"/><circle cx="520.5" cy="120" r="5.55"/><circle cx="527.1" cy="83.2" r="5.55"/><circle cx="575.4" cy="95.4" r="5.55"/><circle cx="595.8" cy="96.9" r="5.55"/><circle cx="577.6" cy="63.8" r="5.55"/><circle cx="536.7" cy="149.5" r="5.55"/><circle cx="558.1" cy="100.7" r="5.55"/><circle cx="580.6" cy="91.3" r="5.55"/><circle cx="575.6" cy="68.8" r="5.55"/><circle cx="591.2" cy="65.2" r="5.55"/><circle cx="546.2" cy="122" r="5.55"/><circle cx="526.9" cy="85.6" r="5.55"/><circle cx="548.3" cy="128.1" r="5.55"/><circle cx="577" cy="84.6" r="5.55"/><circle cx="593.6" cy="85.4" r="5.55"/><circle cx="580.4" cy="83.2" r="5.55"/><circle cx="575.5" cy="95.3" r="5.55"/><circle cx="530.3" cy="153.3" r="5.55"/><circle cx="546.8" cy="113.3" r="5.55"/><circle cx="563.6" cy="75.9" r="5.55"/><circle cx="533.2" cy="128.6" r="5.55"/><circle cx="554.4" cy="103.9" r="5.55"/><circle cx="591" cy="129.7" r="5.55"/><circle cx="603.9" cy="104.6" r="5.55"/><circle cx="562.9" cy="92.1" r="5.55"/><circle cx="563.7" cy="93.1" r="5.55"/><circle cx="560.5" cy="116.2" r="5.55"/><circle cx="571.6" cy="109.4" r="5.55"/><circle cx="552.8" cy="98.7" r="5.55"/><circle cx="564.1" cy="77.1" r="5.55"/><circle cx="586" cy="128.2" r="5.55"/><circle cx="596.2" cy="93" r="5.55"/><circle cx="513.8" cy="122.5" r="5.55"/><circle cx="562.5" cy="58.7" r="5.55"/><circle cx="550.4" cy="98" r="5.55"/><circle cx="587" cy="81.9" r="5.55"/><circle cx="572.7" cy="107.6" r="5.55"/><circle cx="574.9" cy="81.6" r="5.55"/><circle cx="569.7" cy="54.1" r="5.55"/><circle cx="557.1" cy="117.5" r="5.55"/><circle cx="573.3" cy="108.2" r="5.55"/><circle cx="561" cy="107" r="5.55"/><circle cx="561.3" cy="93.5" r="5.55"/><circle cx="542.7" cy="144" r="5.55"/><circle cx="560.3" cy="106.4" r="5.55"/><circle cx="545" cy="96.4" r="5.55"/><circle cx="551.3" cy="121.1" r="5.55"/><circle cx="543.7" cy="93.3" r="5.55"/><circle cx="549.1" cy="146.6" r="5.55"/><circle cx="595" cy="78.9" r="5.55"/><circle cx="559" cy="83" r="5.55"/><circle cx="600.3" cy="65.7" r="5.55"/><circle cx="564.8" cy="135.6" r="5.55"/><circle cx="515.3" cy="104.7" r="5.55"/><circle cx="567.2" cy="95.9" r="5.55"/><circle cx="555.8" cy="156.7" r="5.55"/><circle cx="547.8" cy="81.6" r="5.55"/><circle cx="549.3" cy="116.4" r="5.55"/><circle cx="539.5" cy="94.9" r="5.55"/><circle cx="567.6" cy="97.3" r="5.55"/><circle cx="533.5" cy="76.1" r="5.55"/><circle cx="575.9" cy="46.1" r="5.55"/><circle cx="568.2" cy="84.1" r="5.55"/><circle cx="542.8" cy="132.3" r="5.55"/><circle cx="586.4" cy="86.8" r="5.55"/><circle cx="545.7" cy="136.4" r="5.55"/><circle cx="580.5" cy="114.2" r="5.55"/><circle cx="550.9" cy="137.5" r="5.55"/><circle cx="558.9" cy="129.1" r="5.55"/><circle cx="574.5" cy="64.8" r="5.55"/><circle cx="552" cy="113.5" r="5.55"/><circle cx="583.7" cy="140.3" r="5.55"/><circle cx="569.3" cy="119.2" r="5.55"/><circle cx="599.3" cy="81" r="5.55"/><circle cx="555.9" cy="139.3" r="5.55"/><circle cx="536.7" cy="125.2" r="5.55"/><circle cx="599.9" cy="112.7" r="5.55"/><circle cx="530.6" cy="133.1" r="5.55"/><circle cx="556.3" cy="110.3" r="5.55"/><circle cx="612.6" cy="103.5" r="5.55"/><circle cx="536.6" cy="80.5" r="5.55"/><circle cx="560.1" cy="117.7" r="5.55"/><circle cx="528.6" cy="99.5" r="5.55"/><circle cx="539" cy="115.7" r="5.55"/><circle cx="552.2" cy="115" r="5.55"/><circle cx="561.7" cy="96.8" r="5.55"/><circle cx="588.3" cy="79.1" r="5.55"/><circle cx="570.9" cy="74.6" r="5.55"/><circle cx="552.4" cy="114.4" r="5.55"/><circle cx="535.2" cy="106" r="5.55"/><circle cx="571.1" cy="84.6" r="5.55"/><circle cx="513.2" cy="126.7" r="5.55"/><circle cx="564.6" cy="120.2" r="5.55"/><circle cx="540.9" cy="96.2" r="5.55"/><circle cx="553.2" cy="134.9" r="5.55"/><circle cx="540.6" cy="120.2" r="5.55"/><circle cx="565.9" cy="92.9" r="5.55"/><circle cx="549.9" cy="151.8" r="5.55"/><circle cx="548.9" cy="124.3" r="5.55"/><circle cx="527.2" cy="96.5" r="5.55"/><circle cx="571.7" cy="107.6" r="5.55"/><circle cx="586.5" cy="83.7" r="5.55"/><circle cx="552.9" cy="105.9" r="5.55"/><circle cx="540.5" cy="93.8" r="5.55"/><circle cx="558.2" cy="112.4" r="5.55"/><circle cx="547.5" cy="114.7" r="5.55"/><circle cx="572.7" cy="146.9" r="5.55"/><circle cx="578.1" cy="74.7" r="5.55"/><circle cx="592.9" cy="121.2" r="5.55"/><circle cx="579.9" cy="121.6" r="5.55"/><circle cx="573.1" cy="76.1" r="5.55"/><circle cx="540" cy="110" r="5.55"/><circle cx="592.2" cy="105.4" r="5.55"/><circle cx="562.1" cy="102" r="5.55"/><circle cx="549.8" cy="124.6" r="5.55"/><circle cx="573.6" cy="85.1" r="5.55"/><circle cx="520.8" cy="122.2" r="5.55"/><circle cx="570" cy="86.2" r="5.55"/><circle cx="535" cy="112.1" r="5.55"/><circle cx="550.3" cy="78.4" r="5.55"/><circle cx="584" cy="71.7" r="5.55"/><circle cx="597.2" cy="112" r="5.55"/><circle cx="574.2" cy="134.9" r="5.55"/><circle cx="562" cy="104.1" r="5.55"/><circle cx="558.6" cy="113.5" r="5.55"/><circle cx="549.3" cy="134.7" r="5.55"/><circle cx="561.8" cy="142.8" r="5.55"/><circle cx="568.3" cy="106.9" r="5.55"/><circle cx="566.4" cy="87.6" r="5.55"/><circle cx="526.8" cy="137.2" r="5.55"/><circle cx="577" cy="118.5" r="5.55"/><circle cx="556.8" cy="95" r="5.55"/><circle cx="518.1" cy="102.6" r="5.55"/><circle cx="592.3" cy="91.6" r="5.55"/><circle cx="540.6" cy="129.2" r="5.55"/><circle cx="576.5" cy="92.3" r="5.55"/><circle cx="608" cy="84.5" r="5.55"/><circle cx="527.9" cy="148.3" r="5.55"/><circle cx="550" cy="84.2" r="5.55"/><circle cx="542.5" cy="75.9" r="5.55"/><circle cx="566.5" cy="99.2" r="5.55"/><circle cx="534" cy="107.7" r="5.55"/><circle cx="561.4" cy="114.3" r="5.55"/><circle cx="521.3" cy="119.7" r="5.55"/><circle cx="560.7" cy="97.8" r="5.55"/><circle cx="552.9" cy="76.8" r="5.55"/><circle cx="546.4" cy="114.5" r="5.55"/><circle cx="540.7" cy="119.1" r="5.55"/><circle cx="562.6" cy="121.2" r="5.55"/><circle cx="580.8" cy="119.8" r="5.55"/><circle cx="561.6" cy="101.3" r="5.55"/><circle cx="549.6" cy="97.2" r="5.55"/><circle cx="590.3" cy="125.1" r="5.55"/><circle cx="544.6" cy="136.3" r="5.55"/><circle cx="582" cy="98.5" r="5.55"/><circle cx="607.5" cy="91.1" r="5.55"/><circle cx="551.4" cy="145.8" r="5.55"/><circle cx="560.2" cy="126.3" r="5.55"/><circle cx="578.5" cy="107" r="5.55"/><circle cx="568.3" cy="75" r="5.55"/><circle cx="566.3" cy="84.3" r="5.55"/><circle cx="584.1" cy="76.6" r="5.55"/><circle cx="563.2" cy="106.9" r="5.55"/><circle cx="570.5" cy="96.2" r="5.55"/><circle cx="574.3" cy="99.6" r="5.55"/><circle cx="555.7" cy="114.1" r="5.55"/><circle cx="578.4" cy="74.7" r="5.55"/><circle cx="552.2" cy="73.4" r="5.55"/><circle cx="591.4" cy="93.6" r="5.55"/><circle cx="563.9" cy="119.6" r="5.55"/><circle cx="569.3" cy="73.3" r="5.55"/><circle cx="551" cy="132.5" r="5.55"/><circle cx="575.1" cy="101" r="5.55"/><circle cx="520.5" cy="105.4" r="5.55"/><circle cx="559.8" cy="75.8" r="5.55"/><circle cx="546.9" cy="107.5" r="5.55"/><circle cx="587.5" cy="119.3" r="5.55"/><circle cx="522.8" cy="129.3" r="5.55"/><circle cx="585.5" cy="68.4" r="5.55"/><circle cx="558.5" cy="79.8" r="5.55"/><circle cx="555.8" cy="99.9" r="5.55"/><circle cx="574.8" cy="100" r="5.55"/><circle cx="540.9" cy="74.7" r="5.55"/><circle cx="575.5" cy="107.8" r="5.55"/><circle cx="537.4" cy="136.1" r="5.55"/><circle cx="550.3" cy="103.4" r="5.55"/><circle cx="598.4" cy="88.8" r="5.55"/><circle cx="585.9" cy="103.8" r="5.55"/><circle cx="527.4" cy="90.1" r="5.55"/><circle cx="571.4" cy="90.2" r="5.55"/><circle cx="579.7" cy="114.8" r="5.55"/><circle cx="564.6" cy="84.5" r="5.55"/><circle cx="530.7" cy="134.6" r="5.55"/><circle cx="559.8" cy="134.4" r="5.55"/><circle cx="571" cy="87.9" r="5.55"/><circle cx="542.9" cy="96.1" r="5.55"/><circle cx="559.9" cy="89.8" r="5.55"/><circle cx="579.6" cy="48.9" r="5.55"/><circle cx="564.8" cy="117.6" r="5.55"/><circle cx="544" cy="80.4" r="5.55"/><circle cx="566.5" cy="127.8" r="5.55"/><circle cx="529.8" cy="99.5" r="5.55"/><circle cx="562.1" cy="106.9" r="5.55"/><circle cx="517.6" cy="118.8" r="5.55"/><circle cx="521.6" cy="145.4" r="5.55"/><circle cx="600.6" cy="87.7" r="5.55"/><circle cx="576.1" cy="119.6" r="5.55"/><circle cx="600.1" cy="95.9" r="5.55"/><circle cx="563.8" cy="101.3" r="5.55"/><circle cx="566.9" cy="102.9" r="5.55"/><circle cx="577.8" cy="93.4" r="5.55"/><circle cx="583.7" cy="96.7" r="5.55"/><circle cx="536.3" cy="125.6" r="5.55"/><circle cx="598.8" cy="91.9" r="5.55"/><circle cx="550.1" cy="128.8" r="5.55"/><circle cx="581.8" cy="113.4" r="5.55"/><circle cx="614.2" cy="56.6" r="5.55"/><circle cx="573.4" cy="110.8" r="5.55"/><circle cx="582.4" cy="61.7" r="5.55"/><circle cx="551.2" cy="107.4" r="5.55"/><circle cx="556.4" cy="77.4" r="5.55"/><circle cx="559.8" cy="100.4" r="5.55"/><circle cx="567.9" cy="94.1" r="5.55"/><circle cx="559" cy="132.1" r="5.55"/><circle cx="529.9" cy="109.9" r="5.55"/><circle cx="533.8" cy="136.2" r="5.55"/><circle cx="564.9" cy="136.7" r="5.55"/><circle cx="588.1" cy="103.1" r="5.55"/><circle cx="543.7" cy="120.5" r="5.55"/><circle cx="563.1" cy="144.6" r="5.55"/><circle cx="533" cy="74.5" r="5.55"/><circle cx="566.8" cy="121.1" r="5.55"/><circle cx="553.2" cy="91.4" r="5.55"/><circle cx="553.3" cy="103.5" r="5.55"/><circle cx="598.4" cy="68.6" r="5.55"/><circle cx="530.2" cy="93" r="5.55"/><circle cx="531.1" cy="148" r="5.55"/><circle cx="556.3" cy="95.1" r="5.55"/><circle cx="552.9" cy="96.3" r="5.55"/><circle cx="575" cy="109.4" r="5.55"/><circle cx="587.3" cy="85" r="5.55"/><circle cx="569.7" cy="111.7" r="5.55"/><circle cx="561.4" cy="105.1" r="5.55"/><circle cx="525.4" cy="129.8" r="5.55"/><circle cx="574.6" cy="97.8" r="5.55"/><circle cx="582.1" cy="123.2" r="5.55"/><circle cx="589.1" cy="78.7" r="5.55"/><circle cx="567.5" cy="123.5" r="5.55"/><circle cx="538.1" cy="128.1" r="5.55"/><circle cx="598.9" cy="130.4" r="5.55"/><circle cx="524.7" cy="105.3" r="5.55"/><circle cx="578" cy="102.7" r="5.55"/><circle cx="551.1" cy="133.5" r="5.55"/><circle cx="564.1" cy="110.5" r="5.55"/><circle cx="543.9" cy="96.9" r="5.55"/><circle cx="547" cy="92.7" r="5.55"/><circle cx="550.7" cy="112.8" r="5.55"/><circle cx="549.9" cy="122.8" r="5.55"/><circle cx="545.5" cy="92.3" r="5.55"/><circle cx="538.4" cy="104.9" r="5.55"/><circle cx="573" cy="107.9" r="5.55"/><circle cx="571.9" cy="122" r="5.55"/><circle cx="516" cy="145.3" r="5.55"/><circle cx="552.3" cy="98.2" r="5.55"/><circle cx="577.3" cy="67.6" r="5.55"/><circle cx="601.3" cy="126.3" r="5.55"/><circle cx="579.8" cy="97.7" r="5.55"/><circle cx="569.9" cy="94.5" r="5.55"/><circle cx="568.1" cy="125.8" r="5.55"/><circle cx="592.6" cy="101" r="5.55"/><circle cx="562" cy="66.7" r="5.55"/><circle cx="571.5" cy="91.9" r="5.55"/><circle cx="564.7" cy="91.3" r="5.55"/><circle cx="565" cy="92.6" r="5.55"/><circle cx="545.9" cy="91.6" r="5.55"/><circle cx="562.3" cy="94.6" r="5.55"/><circle cx="548.4" cy="92.2" r="5.55"/><circle cx="573" cy="101.7" r="5.55"/><circle cx="546.9" cy="124.8" r="5.55"/><circle cx="532.8" cy="101.8" r="5.55"/><circle cx="549.7" cy="73.6" r="5.55"/><circle cx="550.4" cy="106.3" r="5.55"/><circle cx="571.5" cy="107.6" r="5.55"/><circle cx="522.1" cy="151.3" r="5.55"/><circle cx="568.6" cy="84.2" r="5.55"/><circle cx="564.5" cy="82.4" r="5.55"/><circle cx="546.7" cy="114.6" r="5.55"/><circle cx="526.8" cy="114.2" r="5.55"/><circle cx="553.3" cy="104.1" r="5.55"/><circle cx="554.2" cy="96.7" r="5.55"/><circle cx="575" cy="109.3" r="5.55"/><circle cx="572.1" cy="88.2" r="5.55"/><circle cx="572.5" cy="91.6" r="5.55"/><circle cx="543.2" cy="124.7" r="5.55"/><circle cx="527.8" cy="151.3" r="5.55"/><circle cx="557.4" cy="99.9" r="5.55"/><circle cx="551.1" cy="117.9" r="5.55"/><circle cx="584.3" cy="106.9" r="5.55"/><circle cx="602.4" cy="80.1" r="5.55"/><circle cx="595.3" cy="74.2" r="5.55"/><circle cx="585.7" cy="113.6" r="5.55"/><circle cx="585" cy="84.2" r="5.55"/><circle cx="578" cy="59.6" r="5.55"/><circle cx="540.1" cy="83.8" r="5.55"/><circle cx="558.2" cy="91" r="5.55"/><circle cx="576.7" cy="86.2" r="5.55"/><circle cx="567.6" cy="109.7" r="5.55"/><circle cx="568.7" cy="126.9" r="5.55"/><circle cx="542.2" cy="113.4" r="5.55"/><circle cx="552.2" cy="95.2" r="5.55"/><circle cx="562.6" cy="125.9" r="5.55"/><circle cx="592.5" cy="101.3" r="5.55"/><circle cx="550.8" cy="105.8" r="5.55"/><circle cx="592.7" cy="78.1" r="5.55"/><circle cx="602.3" cy="95" r="5.55"/><circle cx="545.9" cy="133.4" r="5.55"/><circle cx="580.8" cy="81.5" r="5.55"/><circle cx="528.1" cy="89.1" r="5.55"/><circle cx="604.4" cy="91.1" r="5.55"/><circle cx="580.5" cy="101" r="5.55"/><circle cx="563.9" cy="106.6" r="5.55"/><circle cx="568.3" cy="85.2" r="5.55"/><circle cx="536.7" cy="101.6" r="5.55"/><circle cx="567.4" cy="96.4" r="5.55"/><circle cx="568.2" cy="95.1" r="5.55"/><circle cx="575.3" cy="119.6" r="5.55"/><circle cx="553.4" cy="82.6" r="5.55"/><circle cx="565.3" cy="140.9" r="5.55"/><circle cx="573.2" cy="93.1" r="5.55"/><circle cx="558.3" cy="142.3" r="5.55"/><circle cx="560.8" cy="80.4" r="5.55"/><circle cx="575.9" cy="98.4" r="5.55"/><circle cx="591.7" cy="103.4" r="5.55"/><circle cx="555.2" cy="116.8" r="5.55"/><circle cx="554.9" cy="104.9" r="5.55"/><circle cx="573" cy="107" r="5.55"/><circle cx="531.5" cy="103.6" r="5.55"/><circle cx="568.4" cy="58.5" r="5.55"/><circle cx="558.4" cy="116.2" r="5.55"/><circle cx="567.5" cy="72.9" r="5.55"/><circle cx="556.3" cy="130.9" r="5.55"/><circle cx="552.8" cy="84.3" r="5.55"/><circle cx="532.3" cy="90.7" r="5.55"/><circle cx="568.9" cy="76.1" r="5.55"/><circle cx="578.5" cy="126.6" r="5.55"/><circle cx="537" cy="111.7" r="5.55"/><circle cx="571.1" cy="94.5" r="5.55"/><circle cx="546.3" cy="130.9" r="5.55"/><circle cx="534.3" cy="112.6" r="5.55"/><circle cx="591.2" cy="100.4" r="5.55"/><circle cx="533.9" cy="143.9" r="5.55"/><circle cx="582.4" cy="93.3" r="5.55"/><circle cx="534.1" cy="92.9" r="5.55"/><circle cx="524.4" cy="102.6" r="5.55"/><circle cx="571.8" cy="88.7" r="5.55"/><circle cx="550.5" cy="113" r="5.55"/><circle cx="570.3" cy="115.4" r="5.55"/><circle cx="597.2" cy="104.1" r="5.55"/><circle cx="573.1" cy="85.4" r="5.55"/><circle cx="559.2" cy="101.6" r="5.55"/><circle cx="556.6" cy="124.3" r="5.55"/><circle cx="568.1" cy="140" r="5.55"/><circle cx="542.5" cy="106.4" r="5.55"/><circle cx="583.7" cy="96.8" r="5.55"/><circle cx="570.2" cy="89" r="5.55"/><circle cx="564.4" cy="93.6" r="5.55"/><circle cx="598.4" cy="84.4" r="5.55"/><circle cx="548" cy="100.6" r="5.55"/><circle cx="543" cy="99.1" r="5.55"/><circle cx="566.2" cy="118.7" r="5.55"/><circle cx="596" cy="64.4" r="5.55"/><circle cx="525.3" cy="142.1" r="5.55"/><circle cx="567" cy="96" r="5.55"/><circle cx="578.1" cy="99.9" r="5.55"/><circle cx="560" cy="97.9" r="5.55"/><circle cx="613.9" cy="64.6" r="5.55"/><circle cx="589.4" cy="84.2" r="5.55"/><circle cx="596.9" cy="104.4" r="5.55"/><circle cx="565.7" cy="135.7" r="5.55"/><circle cx="583.9" cy="102.8" r="5.55"/><circle cx="554.9" cy="108.5" r="5.55"/><circle cx="566.3" cy="103.7" r="5.55"/><circle cx="559.5" cy="92.5" r="5.55"/><circle cx="571.8" cy="87.9" r="5.55"/><circle cx="599.2" cy="76.4" r="5.55"/><circle cx="599.9" cy="97.5" r="5.55"/><circle cx="549.5" cy="83.4" r="5.55"/><circle cx="520.3" cy="132.9" r="5.55"/><circle cx="577.3" cy="76.7" r="5.55"/><circle cx="569.1" cy="70.1" r="5.55"/><circle cx="543.9" cy="92.7" r="5.55"/><circle cx="549.2" cy="106.9" r="5.55"/><circle cx="592.7" cy="104.3" r="5.55"/><circle cx="560.2" cy="127.5" r="5.55"/><circle cx="578.2" cy="87.3" r="5.55"/><circle cx="546.3" cy="125.1" r="5.55"/><circle cx="526.4" cy="102.9" r="5.55"/><circle cx="573.9" cy="110.5" r="5.55"/><circle cx="545.3" cy="137.2" r="5.55"/><circle cx="549.8" cy="90.7" r="5.55"/><circle cx="576.1" cy="94.5" r="5.55"/><circle cx="539.5" cy="127.3" r="5.55"/><circle cx="573.1" cy="78.4" r="5.55"/><circle cx="541.6" cy="103.1" r="5.55"/><circle cx="564.6" cy="84.2" r="5.55"/><circle cx="555.3" cy="88" r="5.55"/><circle cx="562.8" cy="117.3" r="5.55"/><circle cx="560.4" cy="117.5" r="5.55"/><circle cx="539.9" cy="140.9" r="5.55"/><circle cx="550.2" cy="114.8" r="5.55"/><circle cx="545.9" cy="113.8" r="5.55"/><circle cx="556.7" cy="61.4" r="5.55"/><circle cx="557.3" cy="143.9" r="5.55"/><circle cx="582.7" cy="90.7" r="5.55"/><circle cx="569.1" cy="99.1" r="5.55"/><circle cx="551.2" cy="104.8" r="5.55"/><circle cx="569.3" cy="91.1" r="5.55"/><circle cx="561.9" cy="73.6" r="5.55"/><circle cx="536.2" cy="98.7" r="5.55"/><circle cx="558.3" cy="107.1" r="5.55"/><circle cx="545.1" cy="80.8" r="5.55"/><circle cx="559.1" cy="132.1" r="5.55"/><circle cx="582.6" cy="111.6" r="5.55"/><circle cx="532.2" cy="99" r="5.55"/><circle cx="554" cy="122.8" r="5.55"/><circle cx="572.5" cy="99" r="5.55"/><circle cx="580.8" cy="86.4" r="5.55"/><circle cx="575.8" cy="100.9" r="5.55"/><circle cx="560.1" cy="128.4" r="5.55"/><circle cx="588.8" cy="97.5" r="5.55"/><circle cx="591.4" cy="119.5" r="5.55"/><circle cx="574.9" cy="91.2" r="5.55"/><circle cx="595.8" cy="89.1" r="5.55"/><circle cx="527.6" cy="102.6" r="5.55"/><circle cx="560.5" cy="104.1" r="5.55"/><circle cx="538.2" cy="101" r="5.55"/><circle cx="568.5" cy="136" r="5.55"/><circle cx="587.7" cy="90" r="5.55"/><circle cx="517.4" cy="123.6" r="5.55"/><circle cx="570.3" cy="92.9" r="5.55"/><circle cx="555.6" cy="114.3" r="5.55"/><circle cx="586.6" cy="82" r="5.55"/><circle cx="580.6" cy="113.3" r="5.55"/><circle cx="574.5" cy="117" r="5.55"/><circle cx="589.4" cy="110.4" r="5.55"/><circle cx="558.5" cy="96.6" r="5.55"/><circle cx="553.4" cy="100.9" r="5.55"/><circle cx="581.3" cy="121.5" r="5.55"/><circle cx="569.7" cy="89.5" r="5.55"/><circle cx="527.3" cy="110" r="5.55"/><circle cx="546.8" cy="87.9" r="5.55"/><circle cx="563.4" cy="105.8" r="5.55"/><circle cx="568.6" cy="122.7" r="5.55"/><circle cx="597.2" cy="104.9" r="5.55"/><circle cx="540.7" cy="126.7" r="5.55"/><circle cx="552.2" cy="104.8" r="5.55"/><circle cx="572.1" cy="138.1" r="5.55"/><circle cx="567.7" cy="86.7" r="5.55"/><circle cx="576.3" cy="128.5" r="5.55"/><circle cx="568.6" cy="104.4" r="5.55"/><circle cx="574.3" cy="97.7" r="5.55"/><circle cx="534.7" cy="132.1" r="5.55"/><circle cx="576.3" cy="97" r="5.55"/><circle cx="545.9" cy="112.5" r="5.55"/><circle cx="551.3" cy="100.2" r="5.55"/><circle cx="561" cy="103.5" r="5.55"/><circle cx="569.6" cy="79.2" r="5.55"/><circle cx="581.2" cy="91.4" r="5.55"/><circle cx="595.5" cy="68.3" r="5.55"/><circle cx="564.1" cy="96.3" r="5.55"/><circle cx="554" cy="110.1" r="5.55"/><circle cx="553.2" cy="110.3" r="5.55"/><circle cx="599" cy="109.2" r="5.55"/><circle cx="591.5" cy="70.5" r="5.55"/><circle cx="562.5" cy="89.2" r="5.55"/><circle cx="551" cy="111" r="5.55"/><circle cx="578.2" cy="104.7" r="5.55"/><circle cx="566.3" cy="95.4" r="5.55"/><circle cx="563.2" cy="100.4" r="5.55"/><circle cx="548.8" cy="114.7" r="5.55"/><circle cx="524.2" cy="155.4" r="5.55"/><circle cx="560.9" cy="117.9" r="5.55"/><circle cx="588.3" cy="86.6" r="5.55"/><circle cx="546.3" cy="80.1" r="5.55"/><circle cx="513.3" cy="135" r="5.55"/><circle cx="544.4" cy="148.7" r="5.55"/><circle cx="618.9" cy="60.7" r="5.55"/><circle cx="625.2" cy="74.4" r="5.55"/><circle cx="620.6" cy="61.2" r="5.55"/><circle cx="619.7" cy="73.1" r="5.55"/><circle cx="610.4" cy="68.6" r="5.55"/><circle cx="612.6" cy="84.6" r="5.55"/><circle cx="610.9" cy="75.7" r="5.55"/><circle cx="617.6" cy="61.9" r="5.55"/><circle cx="621.5" cy="78.6" r="5.55"/><circle cx="626.3" cy="72.6" r="5.55"/><circle cx="616.6" cy="78.9" r="5.55"/><circle cx="609" cy="74.3" r="5.55"/><circle cx="615.8" cy="85.3" r="5.55"/><circle cx="614.6" cy="73" r="5.55"/><circle cx="612.9" cy="70.2" r="5.55"/><circle cx="616.1" cy="72.5" r="5.55"/><circle cx="615.6" cy="72" r="5.55"/><circle cx="613.7" cy="64.2" r="5.55"/><circle cx="620.4" cy="63.8" r="5.55"/><circle cx="623.4" cy="74.2" r="5.55"/><circle cx="620.1" cy="68.9" r="5.55"/><circle cx="622.1" cy="82.3" r="5.55"/><circle cx="610.2" cy="83.7" r="5.55"/><circle cx="623.4" cy="68.2" r="5.55"/><circle cx="616.2" cy="77.6" r="5.55"/><circle cx="623.1" cy="66.5" r="5.55"/><circle cx="621.1" cy="65.5" r="5.55"/><circle cx="618.2" cy="71.9" r="5.55"/><circle cx="627.4" cy="77.1" r="5.55"/><circle cx="619.7" cy="62.4" r="5.55"/><circle cx="617.6" cy="67.6" r="5.55"/><circle cx="612.8" cy="78.4" r="5.55"/><circle cx="622.4" cy="72.5" r="5.55"/><circle cx="623.3" cy="69" r="5.55"/><circle cx="624.5" cy="73.3" r="5.55"/><circle cx="612.7" cy="66.7" r="5.55"/><circle cx="619.4" cy="74" r="5.55"/><circle cx="617.3" cy="72.5" r="5.55"/><circle cx="497.7" cy="146.5" r="5.55"/><circle cx="502.8" cy="147.2" r="5.55"/><circle cx="507.2" cy="153" r="5.55"/><circle cx="501.7" cy="145.7" r="5.55"/><circle cx="494.6" cy="161.5" r="5.55"/><circle cx="501.6" cy="149.7" r="5.55"/><circle cx="512.6" cy="139.5" r="5.55"/><circle cx="501" cy="153.9" r="5.55"/><circle cx="504.6" cy="142.6" r="5.55"/><circle cx="496.3" cy="142.9" r="5.55"/><circle cx="500.3" cy="160.3" r="5.55"/><circle cx="660.3" cy="15" r="5.55"/><circle cx="605" cy="37" r="5.55"/><circle cx="613" cy="37" r="5.55"/><circle cx="624.7" cy="41" r="5.55"/><circle cx="632" cy="37" r="5.55"/><circle cx="642.5" cy="61.5" r="5.55"/><circle cx="518.7" cy="71.4" r="5.55"/><circle cx="633.4" cy="92" r="5.55"/><circle cx="630.6" cy="79" r="5.55"/><circle cx="613.6" cy="94" r="5.55"/><circle cx="614" cy="112" r="5.55"/><circle cx="476.7" cy="140" r="5.55"/><circle cx="605" cy="154.7" r="5.55"/><circle cx="625.5" cy="155.5" r="5.55"/><circle cx="537.4" cy="173.4" r="5.55"/><circle cx="516" cy="168.6" r="5.55"/><circle cx="491.7" cy="163.9" r="5.55"/><circle cx="491.7" cy="145.6" r="5.55"/><circle cx="501.7" cy="127" r="5.55"/><circle cx="499.7" cy="154.8" r="5.55"/><circle cx="507.6" cy="158.7" r="5.55"/><circle cx="579" cy="145.6" r="5.55"/><circle cx="573" cy="152.8" r="5.55"/><circle cx="507.6" cy="105" r="5.55"/>
</g>
<g fill="none" stroke="#00f" stroke-width="0.9">
<path d="M398.6 346.6h10.6v10.6h-10.6zM416.1 318h10.6v10.6h-10.6zM409.7 352.5h10.6v10.6h-10.6zM413.4 319.2h10.6v10.6h-10.6zM408.6 357.4h10.6v10.6h-10.6zM388.5 319.6h10.6v10.6h-10.6zM413.4 335.8h10.6v10.6h-10.6zM397.4 333.4h10.6v10.6h-10.6zM402.3 359.1h10.6v10.6h-10.6zM394.6 361.8h10.6v10.6h-10.6zM403.3 343.6h10.6v10.6h-10.6zM397.4 353.6h10.6v10.6h-10.6zM417.1 367.9h10.6v10.6h-10.6zM396.6 370.6h10.6v10.6h-10.6zM418.1 328.6h10.6v10.6h-10.6zM389.2 361.4h10.6v10.6h-10.6zM409.2 346.5h10.6v10.6h-10.6zM381.9 338.2h10.6v10.6h-10.6zM390.4 363.1h10.6v10.6h-10.6zM402.5 351.4h10.6v10.6h-10.6zM406.3 306.9h10.6v10.6h-10.6zM401.8 353.3h10.6v10.6h-10.6zM406.7 338.8h10.6v10.6h-10.6zM387.1 368.3h10.6v10.6h-10.6zM390.1 365.6h10.6v10.6h-10.6zM414.1 336.5h10.6v10.6h-10.6zM402.5 361.2h10.6v10.6h-10.6zM397 351.9h10.6v10.6h-10.6zM408 363h10.6v10.6h-10.6zM399.2 368h10.6v10.6h-10.6zM411.4 342.2h10.6v10.6h-10.6zM397.6 326.7h10.6v10.6h-10.6zM393.8 321.6h10.6v10.6h-10.6zM405.6 323.6h10.6v10.6h-10.6zM382.5 334.1h10.6v10.6h-10.6zM392.4 304.6h10.6v10.6h-10.6zM407.1 312.2h10.6v10.6h-10.6zM385.8 349h10.6v10.6h-10.6zM397.7 369.9h10.6v10.6h-10.6zM412.4 314.6h10.6v10.6h-10.6zM377.9 353.5h10.6v10.6h-10.6zM388.8 358.2h10.6v10.6h-10.6zM390.5 343.7h10.6v10.6h-10.6zM390.7 356.3h10.6v10.6h-10.6zM408.5 344.6h10.6v10.6h-10.6zM390.2 324.2h10.6v10.6h-10.6zM407.8 321.2h10.6v10.6h-10.6zM402.5 365.1h10.6v10.6h-10.6zM392.2 340.3h10.6v10.6h-10.6zM400.8 373.5h10.6v10.6h-10.6zM416.7 328.4h10.6v10.6h-10.6zM404.7 335.1h10.6v10.6h-10.6zM390.3 317.1h10.6v10.6h-10.6zM399.3 320.5h10.6v10.6h-10.6zM405.1 359.3h10.6v10.6h-10.6zM394 342.9h10.6v10.6h-10.6zM398.1 307.5h10.6v10.6h-10.6zM422.4 339.3h10.6v10.6h-10.6zM392.6 334.9h10.6v10.6h-10.6zM390.1 329h10.6v10.6h-10.6zM389.3 354.2h10.6v10.6h-10.6zM404.2 333.5h10.6v10.6h-10.6zM387.7 356.8h10.6v10.6h-10.6zM382.5 334h10.6v10.6h-10.6zM380.5 343.2h10.6v10.6h-10.6zM404.2 334h10.6v10.6h-10.6zM386.1 312.7h10.6v10.6h-10.6zM404.6 369.8h10.6v10.6h-10.6zM409.1 345.9h10.6v10.6h-10.6zM417.3 361.4h10.6v10.6h-10.6zM395.7 331.9h10.6v10.6h-10.6zM390.4 343.1h10.6v10.6h-10.6zM399 347.3h10.6v10.6h-10.6zM394.1 327.9h10.6v10.6h-10.6zM378 356.1h10.6v10.6h-10.6zM391.6 315.8h10.6v10.6h-10.6zM414.3 337h10.6v10.6h-10.6zM398.1 308.9h10.6v10.6h-10.6zM385.4 346.3h10.6v10.6h-10.6zM408.9 330.4h10.6v10.6h-10.6zM410.3 349.2h10.6v10.6h-10.6zM409.9 341.1h10.6v10.6h-10.6zM398 349.9h10.6v10.6h-10.6zM415.7 332.2h10.6v10.6h-10.6zM400.7 337.6h10.6v10.6h-10.6zM411.7 351.3h10.6v10.6h-10.6zM408 305.4h10.6v10.6h-10.6zM410.7 358h10.6v10.6h-10.6zM402.6 359.1h10.6v10.6h-10.6zM421.3 318.2h10.6v10.6h-10.6zM415.8 324.7h10.6v10.6h-10.6zM402.6 339.8h10.6v10.6h-10.6zM380.6 342.4h10.6v10.6h-10.6zM411.3 328.8h10.6v10.6h-10.6zM388.1 327.5h10.6v10.6h-10.6zM409.6 338h10.6v10.6h-10.6zM387.7 350.1h10.6v10.6h-10.6zM389.3 347.8h10.6v10.6h-10.6zM402.5 361.1h10.6v10.6h-10.6zM408.5 330.3h10.6v10.6h-10.6zM398.2 339.7h10.6v10.6h-10.6zM398.8 333.3h10.6v10.6h-10.6zM392.3 316.2h10.6v10.6h-10.6zM390.8 346.5h10.6v10.6h-10.6zM376.2 356.6h10.6v10.6h-10.6zM395.9 355.1h10.6v10.6h-10.6zM386.6 345.4h10.6v10.6h-10.6zM413.3 339.2h10.6v10.6h-10.6zM407.1 328.2h10.6v10.6h-10.6zM410.5 342h10.6v10.6h-10.6zM392.5 334.7h10.6v10.6h-10.6zM390.3 346.5h10.6v10.6h-10.6zM414.8 314.6h10.6v10.6h-10.6zM399.4 372.8h10.6v10.6h-10.6zM386.6 333.5h10.6v10.6h-10.6zM388.7 344h10.6v10.6h-10.6zM396.2 306.7h10.6v10.6h-10.6zM382.3 348h10.6v10.6h-10.6zM386.1 318.8h10.6v10.6h-10.6zM415.4 337.8h10.6v10.6h-10.6zM388.2 338.3h10.6v10.6h-10.6zM391.3 315h10.6v10.6h-10.6zM407 330.6h10.6v10.6h-10.6zM386.2 351.8h10.6v10.6h-10.6zM391.4 339.7h10.6v10.6h-10.6zM398.1 366.1h10.6v10.6h-10.6zM403.8 354h10.6v10.6h-10.6zM413.5 362.2h10.6v10.6h-10.6zM400.1 328.7h10.6v10.6h-10.6zM390.2 300.2h10.6v10.6h-10.6zM386.3 363.2h10.6v10.6h-10.6zM388.4 339.5h10.6v10.6h-10.6zM388.4 363.6h10.6v10.6h-10.6zM407.4 313.9h10.6v10.6h-10.6zM390.9 317.4h10.6v10.6h-10.6zM392.8 338.8h10.6v10.6h-10.6zM387 355.3h10.6v10.6h-10.6zM400.1 336.2h10.6v10.6h-10.6zM383.5 357.1h10.6v10.6h-10.6zM385.9 349.3h10.6v10.6h-10.6zM381.7 338.1h10.6v10.6h-10.6zM415 351.2h10.6v10.6h-10.6zM403.7 323.7h10.6v10.6h-10.6zM400.1 323.9h10.6v10.6h-10.6zM389.9 338.8h10.6v10.6h-10.6zM400.6 328.8h10.6v10.6h-10.6zM395.4 358.9h10.6v10.6h-10.6zM383.9 333.5h10.6v10.6h-10.6zM409 332.1h10.6v10.6h-10.6zM390.3 359.1h10.6v10.6h-10.6zM405.9 310.6h10.6v10.6h-10.6zM386 308.1h10.6v10.6h-10.6zM398.9 352.5h10.6v10.6h-10.6zM389.2 364.6h10.6v10.6h-10.6zM391.5 303.5h10.6v10.6h-10.6zM412.9 367.9h10.6v10.6h-10.6zM394.4 357.5h10.6v10.6h-10.6zM401.8 310.1h10.6v10.6h-10.6zM380.2 341.9h10.6v10.6h-10.6zM393.2 321.1h10.6v10.6h-10.6zM411.3 363.2h10.6v10.6h-10.6zM405.1 319.1h10.6v10.6h-10.6zM384.2 321.3h10.6v10.6h-10.6zM396.1 301h10.6v10.6h-10.6zM388.5 339.9h10.6v10.6h-10.6zM406.3 363.6h10.6v10.6h-10.6zM399.2 326.1h10.6v10.6h-10.6zM404.2 312h10.6v10.6h-10.6zM398 327.2h10.6v10.6h-10.6zM393 340.5h10.6v10.6h-10.6zM411 362h10.6v10.6h-10.6zM378.7 340.3h10.6v10.6h-10.6zM379.9 350.3h10.6v10.6h-10.6zM386.4 370.2h10.6v10.6h-10.6zM401.2 353h10.6v10.6h-10.6zM402.7 358.7h10.6v10.6h-10.6zM407.6 323.7h10.6v10.6h-10.6zM405.7 317h10.6v10.6h-10.6zM408.8 311.4h10.6v10.6h-10.6zM393.8 319.5h10.6v10.6h-10.6zM404.9 365.6h10.6v10.6h-10.6zM398.8 325.4h10.6v10.6h-10.6zM419.6 358.7h10.6v10.6h-10.6zM407.8 330.9h10.6v10.6h-10.6zM400.4 327h10.6v10.6h-10.6zM414.1 331h10.6v10.6h-10.6zM408.2 339.4h10.6v10.6h-10.6zM414.7 350.1h10.6v10.6h-10.6zM404.7 323.7h10.6v10.6h-10.6zM383.7 332.7h10.6v10.6h-10.6zM382.2 333h10.6v10.6h-10.6zM388.7 354.6h10.6v10.6h-10.6zM412.6 368.3h10.6v10.6h-10.6zM393.6 311.2h10.6v10.6h-10.6zM395.1 350.2h10.6v10.6h-10.6zM406.7 334.9h10.6v10.6h-10.6zM394.9 352h10.6v10.6h-10.6zM408.1 363.6h10.6v10.6h-10.6zM405.8 348.7h10.6v10.6h-10.6zM405.2 347.7h10.6v10.6h-10.6zM391.3 351.6h10.6v10.6h-10.6zM402.4 319.1h10.6v10.6h-10.6zM412.6 338h10.6v10.6h-10.6zM406.6 313h10.6v10.6h-10.6zM391.8 315.4h10.6v10.6h-10.6zM405.6 362.7h10.6v10.6h-10.6zM397.8 344.3h10.6v10.6h-10.6zM419.2 340.4h10.6v10.6h-10.6zM404.7 370.4h10.6v10.6h-10.6zM384.9 321.3h10.6v10.6h-10.6zM385.9 345h10.6v10.6h-10.6zM413 355.8h10.6v10.6h-10.6zM406.3 324.2h10.6v10.6h-10.6zM410.9 330.5h10.6v10.6h-10.6zM401.6 349h10.6v10.6h-10.6zM386.3 366.4h10.6v10.6h-10.6zM415.4 338.7h10.6v10.6h-10.6zM410.2 365.3h10.6v10.6h-10.6zM383.4 326h10.6v10.6h-10.6zM413.9 359h10.6v10.6h-10.6zM375.7 350.5h10.6v10.6h-10.6zM401 319.9h10.6v10.6h-10.6zM396.1 339.8h10.6v10.6h-10.6zM403.1 316.7h10.6v10.6h-10.6zM383.7 344.5h10.6v10.6h-10.6zM392.5 322.4h10.6v10.6h-10.6zM396.9 312.3h10.6v10.6h-10.6zM403.8 314.6h10.6v10.6h-10.6zM385.3 345.8h10.6v10.6h-10.6zM395.2 317.9h10.6v10.6h-10.6zM394.3 332.5h10.6v10.6h-10.6zM411 374.8h10.6v10.6h-10.6zM381.9 338.7h10.6v10.6h-10.6zM386.3 350.3h10.6v10.6h-10.6zM386.2 334.3h10.6v10.6h-10.6zM396.1 308.8h10.6v10.6h-10.6zM383.8 307.2h10.6v10.6h-10.6zM409.8 316.7h10.6v10.6h-10.6zM392.5 356.2h10.6v10.6h-10.6zM398.5 314.6h10.6v10.6h-10.6zM397.9 338h10.6v10.6h-10.6zM396.1 354.2h10.6v10.6h-10.6zM401.6 350.9h10.6v10.6h-10.6zM410.5 319.1h10.6v10.6h-10.6zM389.2 334.6h10.6v10.6h-10.6zM395.2 357.9h10.6v10.6h-10.6zM420.4 315.4h10.6v10.6h-10.6zM407.8 327.5h10.6v10.6h-10.6zM403.8 317.7h10.6v10.6h-10.6zM411.6 335.2h10.6v10.6h-10.6zM392.9 298.8h10.6v10.6h-10.6zM406.2 346.8h10.6v10.6h-10.6zM383 345.1h10.6v10.6h-10.6zM388.2 320.6h10.6v10.6h-10.6zM400.1 361h10.6v10.6h-10.6zM404.2 310h10.6v10.6h-10.6zM401.3 351.2h10.6v10.6h-10.6zM393.4 358.9h10.6v10.6h-10.6zM404.3 352.2h10.6v10.6h-10.6zM396.2 357.9h10.6v10.6h-10.6zM399.7 335.6h10.6v10.6h-10.6zM382.5 306h10.6v10.6h-10.6zM414.7 361.9h10.6v10.6h-10.6zM416.8 294.5h10.6v10.6h-10.6zM411.7 346.6h10.6v10.6h-10.6zM369.8 299.6h10.6v10.6h-10.6zM414.6 357.1h10.6v10.6h-10.6zM378.3 313.8h10.6v10.6h-10.6zM405.4 323.1h10.6v10.6h-10.6zM380.1 305.7h10.6v10.6h-10.6zM408.6 333.2h10.6v10.6h-10.6zM382.5 345.3h10.6v10.6h-10.6zM408 299.5h10.6v10.6h-10.6zM402.5 366.7h10.6v10.6h-10.6zM398.8 319.7h10.6v10.6h-10.6zM414 341.8h10.6v10.6h-10.6zM430.1 357.3h10.6v10.6h-10.6zM367.3 348.7h10.6v10.6h-10.6zM410.1 345.6h10.6v10.6h-10.6zM439.3 329.6h10.6v10.6h-10.6zM414.6 365.5h10.6v10.6h-10.6zM374.1 296.9h10.6v10.6h-10.6zM435.5 322.1h10.6v10.6h-10.6zM408.6 302.6h10.6v10.6h-10.6zM439.7 309.9h10.6v10.6h-10.6zM379.3 314.2h10.6v10.6h-10.6zM394.5 362.9h10.6v10.6h-10.6zM374.2 369.5h10.6v10.6h-10.6zM368.1 304.2h10.6v10.6h-10.6zM380.8 336.6h10.6v10.6h-10.6zM413.8 305.5h10.6v10.6h-10.6zM429.2 346.1h10.6v10.6h-10.6zM423.4 367.4h10.6v10.6h-10.6zM438 349.8h10.6v10.6h-10.6zM364.8 357.1h10.6v10.6h-10.6zM405.8 330.9h10.6v10.6h-10.6zM399.3 284.1h10.6v10.6h-10.6zM397.9 283.7h10.6v10.6h-10.6zM360.4 332.2h10.6v10.6h-10.6zM413.5 349.5h10.6v10.6h-10.6zM377.6 367.3h10.6v10.6h-10.6zM395.6 325.7h10.6v10.6h-10.6zM405 336.6h10.6v10.6h-10.6zM441.4 341.3h10.6v10.6h-10.6zM383 362h10.6v10.6h-10.6zM417.2 332.9h10.6v10.6h-10.6zM411.3 306.6h10.6v10.6h-10.6zM397.2 362.5h10.6v10.6h-10.6zM399.9 345.3h10.6v10.6h-10.6zM378.7 344.5h10.6v10.6h-10.6zM415.7 302h10.6v10.6h-10.6zM398.5 334.5h10.6v10.6h-10.6zM396.1 290.5h10.6v10.6h-10.6zM401.3 283.1h10.6v10.6h-10.6zM387.9 328.6h10.6v10.6h-10.6zM407.1 323.5h10.6v10.6h-10.6zM377 349.3h10.6v10.6h-10.6zM416.5 371.7h10.6v10.6h-10.6zM431.5 333.8h10.6v10.6h-10.6zM402.7 380.6h10.6v10.6h-10.6zM377.5 319.6h10.6v10.6h-10.6zM412.5 354.3h10.6v10.6h-10.6zM414.8 302.1h10.6v10.6h-10.6zM409 337.9h10.6v10.6h-10.6zM398.5 326.6h10.6v10.6h-10.6zM405.5 329.3h10.6v10.6h-10.6zM395.4 349.8h10.6v10.6h-10.6zM371 337.7h10.6v10.6h-10.6zM389.9 313.8h10.6v10.6h-10.6zM419.6 337.7h10.6v10.6h-10.6zM373.6 344.8h10.6v10.6h-10.6zM392.6 325.2h10.6v10.6h-10.6zM371.5 325.1h10.6v10.6h-10.6zM426.1 305.1h10.6v10.6h-10.6zM367.7 348.8h10.6v10.6h-10.6zM400.9 317.4h10.6v10.6h-10.6zM444.2 346.1h10.6v10.6h-10.6zM386.3 298.1h10.6v10.6h-10.6zM408.1 369.8h10.6v10.6h-10.6zM422.7 308.5h10.6v10.6h-10.6zM406.3 364.4h10.6v10.6h-10.6zM441.8 323.2h10.6v10.6h-10.6zM389.8 348.7h10.6v10.6h-10.6zM406.3 331h10.6v10.6h-10.6zM407.4 352.1h10.6v10.6h-10.6zM372.7 334.8h10.6v10.6h-10.6zM401.1 367.3h10.6v10.6h-10.6zM415.5 351.9h10.6v10.6h-10.6zM421.4 352.2h10.6v10.6h-10.6zM403.1 377.5h10.6v10.6h-10.6zM379.9 316.8h10.6v10.6h-10.6zM413.8 368.1h10.6v10.6h-10.6zM423.2 336.5h10.6v10.6h-10.6zM382.8 296.8h10.6v10.6h-10.6zM400.6 347h10.6v10.6h-10.6zM402.4 329.5h10.6v10.6h-10.6zM426.8 322.1h10.6v10.6h-10.6zM397.7 336h10.6v10.6h-10.6zM438.4 340.7h10.6v10.6h-10.6zM408 285.8h10.6v10.6h-10.6zM389.7 347.7h10.6v10.6h-10.6zM378.7 309.2h10.6v10.6h-10.6zM428 370.8h10.6v10.6h-10.6zM384.6 377.4h10.6v10.6h-10.6zM385.7 334.5h10.6v10.6h-10.6zM404.4 294h10.6v10.6h-10.6zM401.8 339.2h10.6v10.6h-10.6zM420 353.2h10.6v10.6h-10.6zM393.1 327.1h10.6v10.6h-10.6zM369.7 331.1h10.6v10.6h-10.6zM381.5 311h10.6v10.6h-10.6zM410.1 380.1h10.6v10.6h-10.6zM389.2 316.6h10.6v10.6h-10.6zM390.8 318h10.6v10.6h-10.6zM362 333.5h10.6v10.6h-10.6zM414.5 302.9h10.6v10.6h-10.6zM428.4 323.3h10.6v10.6h-10.6zM443.8 331.2h10.6v10.6h-10.6zM407.9 322.2h10.6v10.6h-10.6zM434.2 328.3h10.6v10.6h-10.6zM405.4 366.5h10.6v10.6h-10.6zM393.4 345.8h10.6v10.6h-10.6zM411 300.4h10.6v10.6h-10.6zM421.3 323.7h10.6v10.6h-10.6zM377.3 353.8h10.6v10.6h-10.6zM406 318h10.6v10.6h-10.6zM397.1 336.8h10.6v10.6h-10.6zM382.3 334h10.6v10.6h-10.6zM428.7 348.2h10.6v10.6h-10.6zM420.9 330.1h10.6v10.6h-10.6zM405.1 312.7h10.6v10.6h-10.6zM423.3 343.9h10.6v10.6h-10.6zM407.1 310.9h10.6v10.6h-10.6zM413.7 379.1h10.6v10.6h-10.6zM427.2 334.2h10.6v10.6h-10.6zM410.3 329h10.6v10.6h-10.6zM402.3 354.9h10.6v10.6h-10.6zM402.2 332.5h10.6v10.6h-10.6zM390.8 337h10.6v10.6h-10.6zM437.6 333.4h10.6v10.6h-10.6zM432.7 316.1h10.6v10.6h-10.6zM385.6 311.1h10.6v10.6h-10.6zM411 316.8h10.6v10.6h-10.6zM376.8 363.7h10.6v10.6h-10.6zM395.6 318.6h10.6v10.6h-10.6zM430.9 324.3h10.6v10.6h-10.6zM390.8 323.2h10.6v10.6h-10.6zM422.7 352.6h10.6v10.6h-10.6zM396.5 385.4h10.6v10.6h-10.6zM376.6 311h10.6v10.6h-10.6zM403.3 337.8h10.6v10.6h-10.6zM387.5 326.9h10.6v10.6h-10.6zM395.7 347.6h10.6v10.6h-10.6zM385.6 302.2h10.6v10.6h-10.6zM409.9 340.3h10.6v10.6h-10.6zM395.9 309.2h10.6v10.6h-10.6zM392.2 375.5h10.6v10.6h-10.6zM417.4 356.5h10.6v10.6h-10.6zM384.9 364.5h10.6v10.6h-10.6zM379.2 297.5h10.6v10.6h-10.6zM400.4 327.8h10.6v10.6h-10.6zM406.5 321.3h10.6v10.6h-10.6zM409.2 350.7h10.6v10.6h-10.6zM399 369.4h10.6v10.6h-10.6zM371 335.2h10.6v10.6h-10.6zM411.5 331.5h10.6v10.6h-10.6zM421 360.3h10.6v10.6h-10.6zM418.2 333.7h10.6v10.6h-10.6zM381.6 302.2h10.6v10.6h-10.6zM397.3 329.7h10.6v10.6h-10.6zM395.7 308.2h10.6v10.6h-10.6zM392 314.8h10.6v10.6h-10.6zM394.1 335.8h10.6v10.6h-10.6zM404.4 322.4h10.6v10.6h-10.6zM423.2 341.8h10.6v10.6h-10.6zM414.6 295.9h10.6v10.6h-10.6zM393.8 366.9h10.6v10.6h-10.6zM409.5 353h10.6v10.6h-10.6zM410.4 301.6h10.6v10.6h-10.6zM411.4 312.6h10.6v10.6h-10.6zM397.3 328.8h10.6v10.6h-10.6zM419.5 368.1h10.6v10.6h-10.6zM433 321.3h10.6v10.6h-10.6zM412.9 365.6h10.6v10.6h-10.6zM418.7 366h10.6v10.6h-10.6zM384.5 335.1h10.6v10.6h-10.6zM425.4 365.8h10.6v10.6h-10.6zM410.3 343.1h10.6v10.6h-10.6zM388.4 318h10.6v10.6h-10.6zM404.2 304.7h10.6v10.6h-10.6zM391.7 331.6h10.6v10.6h-10.6zM384.8 360.2h10.6v10.6h-10.6zM435.9 300.1h10.6v10.6h-10.6zM410.3 293.5h10.6v10.6h-10.6zM421.5 348.8h10.6v10.6h-10.6zM404.3 381.3h10.6v10.6h-10.6zM391.7 323.5h10.6v10.6h-10.6zM367.1 353.4h10.6v10.6h-10.6zM409.1 382.2h10.6v10.6h-10.6zM400.3 297.6h10.6v10.6h-10.6zM393.5 307.8h10.6v10.6h-10.6zM376.2 327.4h10.6v10.6h-10.6zM385.2 331.4h10.6v10.6h-10.6zM381.4 340.5h10.6v10.6h-10.6zM400.9 361.7h10.6v10.6h-10.6zM408.9 368.6h10.6v10.6h-10.6zM409.1 337.5h10.6v10.6h-10.6zM409.3 326.1h10.6v10.6h-10.6zM435.4 333.8h10.6v10.6h-10.6zM394.5 342.5h10.6v10.6h-10.6zM385.3 368.2h10.6v10.6h-10.6zM402.1 338.2h10.6v10.6h-10.6zM412 381.2h10.6v10.6h-10.6zM401.1 312.8h10.6v10.6h-10.6zM397.3 348.3h10.6v10.6h-10.6zM395.2 379.6h10.6v10.6h-10.6zM419.3 343.2h10.6v10.6h-10.6zM394.5 312.1h10.6v10.6h-10.6zM387.9 316.5h10.6v10.6h-10.6zM400.3 330.7h10.6v10.6h-10.6zM406.7 342.6h10.6v10.6h-10.6zM422.7 328.3h10.6v10.6h-10.6zM414 297.5h10.6v10.6h-10.6zM387.6 315.8h10.6v10.6h-10.6zM372.4 347.9h10.6v10.6h-10.6zM415.2 356h10.6v10.6h-10.6zM392.3 298.9h10.6v10.6h-10.6zM391.4 325.4h10.6v10.6h-10.6zM381.4 291.9h10.6v10.6h-10.6zM397 320.3h10.6v10.6h-10.6zM383.8 336.3h10.6v10.6h-10.6zM425.5 325.9h10.6v10.6h-10.6zM401 319.7h10.6v10.6h-10.6zM437.7 303.8h10.6v10.6h-10.6zM418.6 333.6h10.6v10.6h-10.6zM433.1 327.6h10.6v10.6h-10.6zM391.7 372.5h10.6v10.6h-10.6zM381.8 292.9h10.6v10.6h-10.6zM408.1 345.8h10.6v10.6h-10.6zM404.7 369h10.6v10.6h-10.6zM406.7 284.7h10.6v10.6h-10.6zM407.2 351.5h10.6v10.6h-10.6zM399.2 293.5h10.6v10.6h-10.6zM394.9 348.1h10.6v10.6h-10.6zM411.3 372.4h10.6v10.6h-10.6zM417.9 334.6h10.6v10.6h-10.6zM412.5 342h10.6v10.6h-10.6zM385.8 317h10.6v10.6h-10.6zM410.5 342.1h10.6v10.6h-10.6zM372.7 363.6h10.6v10.6h-10.6zM406.9 330h10.6v10.6h-10.6zM374.4 331.1h10.6v10.6h-10.6zM426.1 344.7h10.6v10.6h-10.6zM416 355.7h10.6v10.6h-10.6zM392.3 292.9h10.6v10.6h-10.6zM392.1 336.2h10.6v10.6h-10.6zM405.2 317.2h10.6v10.6h-10.6zM360.8 347.4h10.6v10.6h-10.6zM400.5 361.2h10.6v10.6h-10.6zM396.2 342.7h10.6v10.6h-10.6zM413.5 367.7h10.6v10.6h-10.6zM368.6 309.4h10.6v10.6h-10.6zM384.7 324.3h10.6v10.6h-10.6zM393.7 309.4h10.6v10.6h-10.6zM435 336.2h10.6v10.6h-10.6zM394.7 337.2h10.6v10.6h-10.6zM411.4 329.6h10.6v10.6h-10.6zM394.1 303.7h10.6v10.6h-10.6zM383.6 332.8h10.6v10.6h-10.6zM417.1 323.5h10.6v10.6h-10.6zM397.6 350.2h10.6v10.6h-10.6zM384.3 327.8h10.6v10.6h-10.6zM398.7 364.5h10.6v10.6h-10.6zM408.6 340.6h10.6v10.6h-10.6zM423.3 287.2h10.6v10.6h-10.6zM415.5 330.3h10.6v10.6h-10.6zM427.6 298.2h10.6v10.6h-10.6zM382.2 359.5h10.6v10.6h-10.6zM399.9 371.4h10.6v10.6h-10.6zM426.5 334h10.6v10.6h-10.6zM402.1 346.1h10.6v10.6h-10.6zM428 297.7h10.6v10.6h-10.6zM377.8 320.5h10.6v10.6h-10.6zM378.5 328.2h10.6v10.6h-10.6zM431.7 296h10.6v10.6h-10.6zM416.5 337.1h10.6v10.6h-10.6zM397.9 342.7h10.6v10.6h-10.6zM409.8 351.2h10.6v10.6h-10.6zM419.2 374.4h10.6v10.6h-10.6zM412.4 355.5h10.6v10.6h-10.6zM406.9 325.4h10.6v10.6h-10.6zM413.2 337.4h10.6v10.6h-10.6zM397.8 350.1h10.6v10.6h-10.6zM406.7 308h10.6v10.6h-10.6zM417.3 368.7h10.6v10.6h-10.6zM401.6 357.8h10.6v10.6h-10.6zM435.4 329h10.6v10.6h-10.6zM373.1 318.4h10.6v10.6h-10.6zM403.8 356.3h10.6v10.6h-10.6zM395.3 358.8h10.6v10.6h-10.6zM393.8 380.8h10.6v10.6h-10.6zM396.9 359.9h10.6v10.6h-10.6zM376.8 340.2h10.6v10.6h-10.6zM424.7 352.8h10.6v10.6h-10.6zM403.5 311.4h10.6v10.6h-10.6zM399.2 353.1h10.6v10.6h-10.6zM412.1 295.4h10.6v10.6h-10.6zM414 345.6h10.6v10.6h-10.6zM376.3 349.1h10.6v10.6h-10.6zM416.4 294.9h10.6v10.6h-10.6zM411.7 384h10.6v10.6h-10.6zM407.7 305.4h10.6v10.6h-10.6zM406.4 361.6h10.6v10.6h-10.6zM398.9 321.4h10.6v10.6h-10.6zM406.3 342.9h10.6v10.6h-10.6zM394.7 318.1h10.6v10.6h-10.6zM392.6 361.3h10.6v10.6h-10.6zM419.1 355h10.6v10.6h-10.6zM369.2 352.8h10.6v10.6h-10.6zM411.2 338.9h10.6v10.6h-10.6zM388.9 328.9h10.6v10.6h-10.6zM399 350.6h10.6v10.6h-10.6zM408.1 339.2h10.6v10.6h-10.6zM441.4 331.2h10.6v10.6h-10.6zM370 299.9h10.6v10.6h-10.6zM417.3 327.3h10.6v10.6h-10.6zM417.9 350.6h10.6v10.6h-10.6zM381 323.1h10.6v10.6h-10.6zM400.7 344.1h10.6v10.6h-10.6zM364.3 331.6h10.6v10.6h-10.6zM368.6 308.8h10.6v10.6h-10.6zM388.1 312.1h10.6v10.6h-10.6zM397.2 316.3h10.6v10.6h-10.6zM387 327.8h10.6v10.6h-10.6zM428.5 328.5h10.6v10.6h-10.6zM398.8 363.9h10.6v10.6h-10.6zM399.3 307.5h10.6v10.6h-10.6zM411.6 282.9h10.6v10.6h-10.6zM397.2 352.8h10.6v10.6h-10.6zM431.4 323.6h10.6v10.6h-10.6zM384.3 332.2h10.6v10.6h-10.6zM428.1 372.8h10.6v10.6h-10.6zM399.4 350.4h10.6v10.6h-10.6zM371.5 359.6h10.6v10.6h-10.6zM424.6 283.8h10.6v10.6h-10.6zM372.2 293.9h10.6v10.6h-10.6zM437 280.7h10.6v10.6h-10.6zM437.8 287.6h10.6v10.6h-10.6zM417.6 287.4h10.6v10.6h-10.6zM380.9 281.5h10.6v10.6h-10.6zM422.5 281h10.6v10.6h-10.6zM426 286.7h10.6v10.6h-10.6zM414.8 285.4h10.6v10.6h-10.6zM423.9 283.8h10.6v10.6h-10.6zM384.7 283.8h10.6v10.6h-10.6zM424.3 283.4h10.6v10.6h-10.6zM382.6 289.9h10.6v10.6h-10.6zM403.6 295.3h10.6v10.6h-10.6zM395.4 284.6h10.6v10.6h-10.6zM381.7 286.1h10.6v10.6h-10.6zM367.1 302.9h10.6v10.6h-10.6zM362.4 353.2h10.6v10.6h-10.6zM360.2 336.6h10.6v10.6h-10.6zM366.5 349.7h10.6v10.6h-10.6zM363 333.4h10.6v10.6h-10.6zM358.7 342.3h10.6v10.6h-10.6zM362.6 352.9h10.6v10.6h-10.6zM369.3 310h10.6v10.6h-10.6zM394 264.1h10.6v10.6h-10.6zM350.7 294.3h10.6v10.6h-10.6zM486.9 294.3h10.6v10.6h-10.6zM481.4 311.6h10.6v10.6h-10.6zM453.7 295.7h10.6v10.6h-10.6zM452.3 313.3h10.6v10.6h-10.6zM432.7 290.5h10.6v10.6h-10.6zM347.9 333.1h10.6v10.6h-10.6zM355.9 353.2h10.6v10.6h-10.6zM388.7 394.7h10.6v10.6h-10.6zM384.3 385.1h10.6v10.6h-10.6zM428 386.7h10.6v10.6h-10.6zM404.4 387.5h10.6v10.6h-10.6zM451.2 348.7h10.6v10.6h-10.6zM449.5 354.7h10.6v10.6h-10.6zM354.2 308.7h10.6v10.6h-10.6z"/>
</g>

<g stroke="#222" stroke-width="1" fill="none">
<line x1="66.1" y1="0" x2="66.1" y2="416.6"/>
<line x1="683.3" y1="0" x2="683.3" y2="416.6"/>
<line x1="65.5" y1="416.1" x2="683.9" y2="416.1"/>
</g>
<rect x="65.5" y="0" width="618.4" height="1.1" fill="#000"/>
<g stroke="#1a1a1a" stroke-width="1.1" fill="none">

<line x1="96.7" y1="416" x2="96.7" y2="423.6"/>
<line x1="184.1" y1="416" x2="184.1" y2="423.6"/>
<line x1="271.6" y1="416" x2="271.6" y2="423.6"/>
<line x1="359.0" y1="416" x2="359.0" y2="423.6"/>
<line x1="446.4" y1="416" x2="446.4" y2="423.6"/>
<line x1="533.9" y1="416" x2="533.9" y2="423.6"/>
<line x1="621.3" y1="416" x2="621.3" y2="423.6"/>
<line x1="58.6" y1="72.5" x2="66" y2="72.5"/>
<line x1="58.6" y1="175.1" x2="66" y2="175.1"/>
<line x1="58.6" y1="277.7" x2="66" y2="277.7"/>
<line x1="58.6" y1="380.3" x2="66" y2="380.3"/>
</g>
<rect x="66.6" y="294.6" width="135.2" height="121" fill="#fff"/>
<path d="M66.1 294.6H201.8V416.1" fill="none" stroke="#222" stroke-width="1"/>
<circle cx="98.6" cy="324.8" r="5.1" fill="none" stroke="#000" stroke-width="0.9"/>
<rect x="93.4" y="349.7" width="11.6" height="11.6" fill="none" stroke="#00f" stroke-width="0.9"/>
<circle cx="98.6" cy="385.4" r="5.6" fill="#f00"/>
<g font-size="25px"><text x="133" y="335.2">LM</text><text x="133" y="365.3">ZX</text><text x="133" y="395.1">XD</text></g>
<g font-size="18.2px" text-anchor="middle">
<text x="96.7" y="443.3">-0.03</text>
<text x="184.1" y="443.3">-0.02</text>
<text x="271.6" y="443.3">-0.01</text>
<text x="359.0" y="443.3">0.00</text>
<text x="446.4" y="443.3">0.01</text>
<text x="533.9" y="443.3">0.02</text>
<text x="621.3" y="443.3">0.03</text>
<text transform="translate(47.3 72.5) rotate(-90)">0.02</text>
<text transform="translate(47.3 175.1) rotate(-90)">0.00</text>
<text transform="translate(47.3 277.7) rotate(-90)">-0.02</text>
<text transform="translate(47.3 380.3) rotate(-90)">-0.04</text>
</g>
<g font-size="23px" text-anchor="middle">
<text x="374.8" y="473.2">PC1(3.9%)</text>
<text transform="translate(18.6 207) rotate(-90)">PC2(2.1%)</text>
</g>
</svg></body></html>
